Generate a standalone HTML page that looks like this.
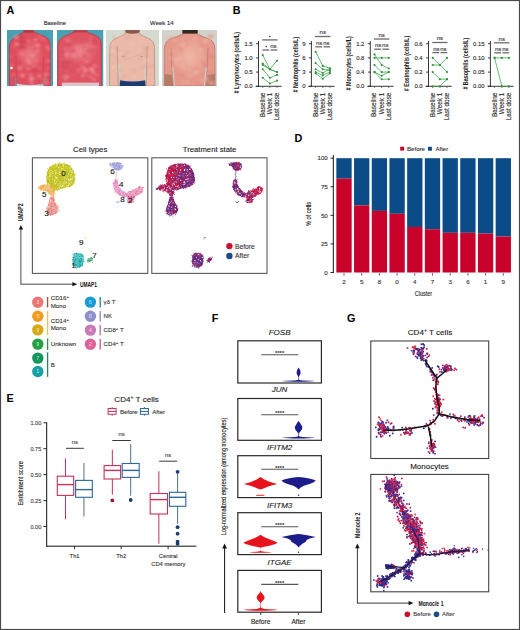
<!DOCTYPE html>
<html><head><meta charset="utf-8"><title>Figure</title>
<style>
html,body{margin:0;padding:0;background:#fff;}
body{width:520px;height:630px;overflow:hidden;}
svg{display:block;font-family:"Liberation Sans", sans-serif;}
</style></head>
<body>
<svg width="520" height="630" viewBox="0 0 520 630">
<defs>
<filter id="bl1" x="-10%" y="-10%" width="120%" height="120%"><feGaussianBlur stdDeviation="1.2"/></filter>
<filter id="bl2" x="-10%" y="-10%" width="120%" height="120%"><feGaussianBlur stdDeviation="0.6"/></filter>
<filter id="bl3" x="-20%" y="-20%" width="140%" height="140%"><feGaussianBlur stdDeviation="0.35"/></filter>
</defs>
<rect width="520" height="630" fill="#fff"/>
<text x="6.6" y="14.3" font-size="10.8" text-anchor="start" fill="#000" font-weight="bold">A</text>
<text x="232.8" y="14.3" font-size="10.8" text-anchor="start" fill="#000" font-weight="bold">B</text>
<text x="6.6" y="142.1" font-size="10.8" text-anchor="start" fill="#000" font-weight="bold">C</text>
<text x="294.4" y="142.1" font-size="10.8" text-anchor="start" fill="#000" font-weight="bold">D</text>
<text x="6.6" y="401.5" font-size="10.8" text-anchor="start" fill="#000" font-weight="bold">E</text>
<text x="211.8" y="321.7" font-size="10.8" text-anchor="start" fill="#000" font-weight="bold">F</text>
<text x="347" y="321.7" font-size="10.8" text-anchor="start" fill="#000" font-weight="bold">G</text>
<text x="54.8" y="25.3" font-size="5.8" text-anchor="middle" fill="#2a2a2a" stroke="#2a2a2a" stroke-width="0.12">Baseline</text>
<text x="161.9" y="25.3" font-size="6.0" text-anchor="middle" fill="#2a2a2a" stroke="#2a2a2a" stroke-width="0.12">Week 14</text>
<clipPath id="cp1"><rect x="7" y="30" width="46" height="56"/></clipPath>
<g clip-path="url(#cp1)">
<rect x="7" y="30" width="46" height="56" fill="#4a9fb2"/>
<g filter="url(#bl2)">
<path d="M9.3,86 L9.3,46 Q9.8,40.5 14.6,37.8 Q20,34 24,32 L24,29 L33.8,29 L33.8,32 Q40,34.5 46.5,37.5 Q50,40 50.2,46 L50.2,86 Z" fill="#e04e5c" stroke="#b83848" stroke-width="0.8"/>
<defs><radialGradient id="rg1" cx="0.5" cy="0.5" r="0.5"><stop offset="0" stop-color="#ec8a90" stop-opacity="0.8"/><stop offset="1" stop-color="#ec8a90" stop-opacity="0"/></radialGradient></defs>
<ellipse cx="30" cy="55" rx="15" ry="16" fill="url(#rg1)"/>
<path d="M16.5,83.5 Q30,86.5 43,83.5 L43,87 L16.5,87 Z" fill="#cfd8dc"/>
<rect x="15.2" y="78" width="1.6" height="9" fill="#5aa6b4"/>
<rect x="43" y="78" width="1.4" height="9" fill="#5aa6b4"/>
<path d="M16,56 L16.3,84" stroke="#b54450" stroke-width="0.8" opacity="0.7"/>
<path d="M43.4,56 L43.2,84" stroke="#b54450" stroke-width="0.8" opacity="0.7"/>
<rect x="23.5" y="29" width="10" height="3.8" fill="#a8404a"/>
<g filter="url(#bl1)">
<ellipse cx="19.3" cy="61.7" rx="2.1" ry="1.5" fill="#cc4050" opacity="0.55"/>
<ellipse cx="34.4" cy="38.2" rx="1.5" ry="1.1" fill="#cc4050" opacity="0.55"/>
<ellipse cx="20.1" cy="46.5" rx="3.2" ry="2.2" fill="#cc4050" opacity="0.55"/>
<ellipse cx="31.1" cy="61.9" rx="2.2" ry="1.5" fill="#ec7880" opacity="0.55"/>
<ellipse cx="19.0" cy="42.4" rx="3.1" ry="2.2" fill="#cc4050" opacity="0.55"/>
<ellipse cx="38.9" cy="67.9" rx="1.6" ry="1.1" fill="#f08890" opacity="0.55"/>
<ellipse cx="21.7" cy="36.5" rx="3.0" ry="2.1" fill="#cc4050" opacity="0.55"/>
<ellipse cx="33.2" cy="80.1" rx="2.2" ry="1.5" fill="#cc4050" opacity="0.55"/>
<ellipse cx="25.4" cy="74.2" rx="2.3" ry="1.6" fill="#ec7880" opacity="0.55"/>
<ellipse cx="44.3" cy="39.8" rx="1.7" ry="1.2" fill="#ec7880" opacity="0.55"/>
<ellipse cx="20.1" cy="67.9" rx="2.8" ry="2.0" fill="#f29aa0" opacity="0.55"/>
<ellipse cx="26.4" cy="75.8" rx="2.5" ry="1.7" fill="#cc4050" opacity="0.55"/>
<ellipse cx="32.8" cy="79.3" rx="2.7" ry="1.9" fill="#f08890" opacity="0.55"/>
<ellipse cx="43.4" cy="83.6" rx="2.6" ry="1.8" fill="#ec7880" opacity="0.55"/>
<ellipse cx="37.2" cy="51.0" rx="2.4" ry="1.7" fill="#f08890" opacity="0.55"/>
<ellipse cx="37.8" cy="45.3" rx="2.9" ry="2.0" fill="#f29aa0" opacity="0.55"/>
<ellipse cx="21.1" cy="38.1" rx="3.0" ry="2.1" fill="#cc4050" opacity="0.55"/>
<ellipse cx="13.5" cy="74.2" rx="2.2" ry="1.5" fill="#ec7880" opacity="0.55"/>
<ellipse cx="10.8" cy="55.9" rx="2.2" ry="1.5" fill="#f08890" opacity="0.55"/>
<ellipse cx="11.7" cy="65.1" rx="1.6" ry="1.1" fill="#f29aa0" opacity="0.55"/>
<ellipse cx="31.5" cy="80.2" rx="2.0" ry="1.4" fill="#ec7880" opacity="0.55"/>
<ellipse cx="48.9" cy="50.2" rx="1.6" ry="1.1" fill="#f08890" opacity="0.55"/>
<ellipse cx="47.0" cy="82.6" rx="2.0" ry="1.4" fill="#f29aa0" opacity="0.55"/>
<ellipse cx="16.1" cy="37.1" rx="3.0" ry="2.1" fill="#f29aa0" opacity="0.55"/>
<ellipse cx="24.0" cy="41.8" rx="3.0" ry="2.1" fill="#cc4050" opacity="0.55"/>
<ellipse cx="28.0" cy="60.5" rx="2.6" ry="1.8" fill="#f08890" opacity="0.55"/>
<ellipse cx="34.2" cy="81.1" rx="2.4" ry="1.7" fill="#cc4050" opacity="0.55"/>
<ellipse cx="34.7" cy="70.1" rx="3.1" ry="2.2" fill="#cc4050" opacity="0.55"/>
<ellipse cx="48.1" cy="60.5" rx="2.4" ry="1.7" fill="#f08890" opacity="0.55"/>
<ellipse cx="40.7" cy="83.4" rx="2.0" ry="1.4" fill="#cc4050" opacity="0.55"/>
<ellipse cx="34.0" cy="66.0" rx="1.6" ry="1.1" fill="#f29aa0" opacity="0.55"/>
<ellipse cx="28.2" cy="68.3" rx="2.1" ry="1.5" fill="#f29aa0" opacity="0.55"/>
<ellipse cx="38.8" cy="36.1" rx="1.6" ry="1.1" fill="#f08890" opacity="0.55"/>
<ellipse cx="47.6" cy="47.3" rx="2.3" ry="1.6" fill="#f29aa0" opacity="0.55"/>
<ellipse cx="16.9" cy="44.1" rx="2.8" ry="2.0" fill="#f29aa0" opacity="0.55"/>
<ellipse cx="21.7" cy="53.5" rx="2.8" ry="2.0" fill="#f08890" opacity="0.55"/>
<ellipse cx="47.9" cy="68.5" rx="1.7" ry="1.2" fill="#ec7880" opacity="0.55"/>
<ellipse cx="35.5" cy="48.2" rx="2.1" ry="1.4" fill="#cc4050" opacity="0.55"/>
<ellipse cx="35.3" cy="39.8" rx="2.5" ry="1.8" fill="#f29aa0" opacity="0.55"/>
<ellipse cx="36.3" cy="46.0" rx="2.9" ry="2.0" fill="#ec7880" opacity="0.55"/>
<ellipse cx="13.1" cy="71.4" rx="1.9" ry="1.3" fill="#cc4050" opacity="0.55"/>
<ellipse cx="20.6" cy="73.6" rx="1.6" ry="1.1" fill="#ec7880" opacity="0.55"/>
<ellipse cx="22.3" cy="76.0" rx="2.5" ry="1.7" fill="#f29aa0" opacity="0.55"/>
<ellipse cx="23.3" cy="75.6" rx="1.6" ry="1.2" fill="#f29aa0" opacity="0.55"/>
<ellipse cx="33.0" cy="55.6" rx="2.4" ry="1.7" fill="#f29aa0" opacity="0.55"/>
<ellipse cx="28.1" cy="66.1" rx="2.0" ry="1.4" fill="#cc4050" opacity="0.55"/>
<ellipse cx="11.4" cy="55.3" rx="1.8" ry="1.3" fill="#cc4050" opacity="0.55"/>
<ellipse cx="46.8" cy="78.1" rx="3.2" ry="2.2" fill="#cc4050" opacity="0.55"/>
<ellipse cx="31.8" cy="83.3" rx="2.7" ry="1.9" fill="#f08890" opacity="0.55"/>
<ellipse cx="39.1" cy="76.0" rx="2.6" ry="1.8" fill="#f29aa0" opacity="0.55"/>
<ellipse cx="31.2" cy="78.6" rx="3.0" ry="2.1" fill="#f29aa0" opacity="0.55"/>
<ellipse cx="14.7" cy="47.0" rx="1.6" ry="1.1" fill="#ec7880" opacity="0.55"/>
<ellipse cx="45.0" cy="79.1" rx="2.5" ry="1.7" fill="#f08890" opacity="0.55"/>
<ellipse cx="28.8" cy="40.9" rx="2.4" ry="1.6" fill="#ec7880" opacity="0.55"/>
<ellipse cx="35.9" cy="60.7" rx="2.2" ry="1.5" fill="#f08890" opacity="0.55"/>
<ellipse cx="23.3" cy="47.4" rx="3.0" ry="2.1" fill="#cc4050" opacity="0.55"/>
<ellipse cx="41.7" cy="38.0" rx="1.9" ry="1.3" fill="#f08890" opacity="0.55"/>
<ellipse cx="30.9" cy="75.0" rx="1.8" ry="1.3" fill="#f29aa0" opacity="0.55"/>
<ellipse cx="45.9" cy="74.5" rx="2.9" ry="2.0" fill="#f08890" opacity="0.55"/>
<ellipse cx="29.0" cy="63.0" rx="2.2" ry="1.5" fill="#f29aa0" opacity="0.55"/>
</g>
<circle cx="11.5" cy="68" r="1.3" fill="#fff"/>
</g>
</g>
<clipPath id="cp2"><rect x="56.8" y="30" width="46.7" height="56"/></clipPath>
<g clip-path="url(#cp2)">
<rect x="56.8" y="30" width="46.7" height="56" fill="#4a9fb2"/>
<g filter="url(#bl2)">
<path d="M57.8,86 L57.8,46 Q58.2,40 63,37 Q69,34.2 74,32.2 L74,29 L87,29 L87,32.2 Q92,33.8 97,36.2 Q101.2,38.6 101.3,44 L101.3,86 Z" fill="#e05262" stroke="#b83848" stroke-width="0.8"/>
<defs><radialGradient id="rg2" cx="0.5" cy="0.5" r="0.5"><stop offset="0" stop-color="#f09098" stop-opacity="0.8"/><stop offset="1" stop-color="#f09098" stop-opacity="0"/></radialGradient></defs>
<ellipse cx="80" cy="52" rx="18" ry="14" fill="url(#rg2)"/>
<path d="M63.3,50 L63.2,84" stroke="#c85060" stroke-width="0.8" opacity="0.6"/>
<path d="M97.2,50 L97.4,84" stroke="#c85060" stroke-width="0.8" opacity="0.6"/>
<rect x="62" y="82.6" width="37" height="3.6" fill="#dcc6cc"/>
<rect x="73.5" y="29" width="13" height="3.4" fill="#b04650"/>
<g filter="url(#bl1)">
<ellipse cx="70.4" cy="64.4" rx="2.4" ry="1.7" fill="#ee8890" opacity="0.55"/>
<ellipse cx="79.0" cy="71.7" rx="1.5" ry="1.1" fill="#ee8890" opacity="0.55"/>
<ellipse cx="90.5" cy="38.1" rx="1.6" ry="1.1" fill="#cc4458" opacity="0.55"/>
<ellipse cx="98.0" cy="75.3" rx="1.6" ry="1.2" fill="#cc4458" opacity="0.55"/>
<ellipse cx="73.0" cy="50.5" rx="2.1" ry="1.5" fill="#cc4458" opacity="0.55"/>
<ellipse cx="83.3" cy="52.6" rx="1.8" ry="1.3" fill="#e87078" opacity="0.55"/>
<ellipse cx="77.3" cy="41.9" rx="1.5" ry="1.1" fill="#cc4458" opacity="0.55"/>
<ellipse cx="91.2" cy="62.1" rx="1.6" ry="1.1" fill="#cc4458" opacity="0.55"/>
<ellipse cx="84.0" cy="72.0" rx="2.1" ry="1.5" fill="#ee8890" opacity="0.55"/>
<ellipse cx="84.7" cy="55.9" rx="2.1" ry="1.5" fill="#cc4458" opacity="0.55"/>
<ellipse cx="89.9" cy="50.5" rx="3.1" ry="2.2" fill="#cc4458" opacity="0.55"/>
<ellipse cx="78.5" cy="47.3" rx="2.4" ry="1.7" fill="#ee8890" opacity="0.55"/>
<ellipse cx="91.5" cy="46.3" rx="1.7" ry="1.2" fill="#ee8890" opacity="0.55"/>
<ellipse cx="96.6" cy="53.2" rx="3.0" ry="2.1" fill="#e87078" opacity="0.55"/>
<ellipse cx="65.6" cy="67.8" rx="3.1" ry="2.2" fill="#cc4458" opacity="0.55"/>
<ellipse cx="86.4" cy="69.8" rx="2.5" ry="1.7" fill="#ee8890" opacity="0.55"/>
<ellipse cx="91.8" cy="69.0" rx="2.3" ry="1.6" fill="#f29aa0" opacity="0.55"/>
<ellipse cx="90.4" cy="38.0" rx="1.7" ry="1.2" fill="#ee8890" opacity="0.55"/>
<ellipse cx="86.0" cy="53.3" rx="2.9" ry="2.0" fill="#e87078" opacity="0.55"/>
<ellipse cx="93.0" cy="41.6" rx="2.9" ry="2.1" fill="#cc4458" opacity="0.55"/>
<ellipse cx="92.8" cy="79.8" rx="2.5" ry="1.7" fill="#ee8890" opacity="0.55"/>
<ellipse cx="62.4" cy="71.3" rx="2.4" ry="1.7" fill="#f29aa0" opacity="0.55"/>
<ellipse cx="65.1" cy="70.5" rx="3.1" ry="2.2" fill="#ee8890" opacity="0.55"/>
<ellipse cx="81.9" cy="76.0" rx="1.8" ry="1.3" fill="#ee8890" opacity="0.55"/>
<ellipse cx="70.2" cy="44.3" rx="1.9" ry="1.3" fill="#cc4458" opacity="0.55"/>
<ellipse cx="70.6" cy="63.6" rx="3.1" ry="2.2" fill="#cc4458" opacity="0.55"/>
<ellipse cx="97.7" cy="53.3" rx="1.9" ry="1.3" fill="#cc4458" opacity="0.55"/>
<ellipse cx="93.1" cy="80.5" rx="2.2" ry="1.5" fill="#cc4458" opacity="0.55"/>
<ellipse cx="66.9" cy="54.4" rx="3.0" ry="2.1" fill="#f29aa0" opacity="0.55"/>
<ellipse cx="64.6" cy="70.4" rx="3.1" ry="2.1" fill="#cc4458" opacity="0.55"/>
<ellipse cx="83.3" cy="75.5" rx="1.7" ry="1.2" fill="#f29aa0" opacity="0.55"/>
<ellipse cx="66.6" cy="59.7" rx="3.1" ry="2.2" fill="#e87078" opacity="0.55"/>
<ellipse cx="86.5" cy="75.3" rx="2.5" ry="1.8" fill="#e87078" opacity="0.55"/>
<ellipse cx="94.8" cy="50.1" rx="2.0" ry="1.4" fill="#cc4458" opacity="0.55"/>
<ellipse cx="68.6" cy="62.2" rx="1.9" ry="1.3" fill="#cc4458" opacity="0.55"/>
<ellipse cx="90.4" cy="42.6" rx="3.2" ry="2.2" fill="#cc4458" opacity="0.55"/>
<ellipse cx="87.7" cy="45.5" rx="2.5" ry="1.7" fill="#ee8890" opacity="0.55"/>
<ellipse cx="79.3" cy="69.2" rx="3.0" ry="2.1" fill="#cc4458" opacity="0.55"/>
<ellipse cx="90.8" cy="76.6" rx="1.6" ry="1.1" fill="#f29aa0" opacity="0.55"/>
<ellipse cx="94.9" cy="65.8" rx="2.8" ry="2.0" fill="#ee8890" opacity="0.55"/>
<ellipse cx="97.4" cy="75.3" rx="1.9" ry="1.3" fill="#f29aa0" opacity="0.55"/>
<ellipse cx="90.5" cy="42.3" rx="2.6" ry="1.8" fill="#ee8890" opacity="0.55"/>
<ellipse cx="95.2" cy="47.7" rx="3.0" ry="2.1" fill="#e87078" opacity="0.55"/>
<ellipse cx="68.0" cy="40.2" rx="2.9" ry="2.0" fill="#ee8890" opacity="0.55"/>
<ellipse cx="64.5" cy="74.4" rx="2.0" ry="1.4" fill="#e87078" opacity="0.55"/>
<ellipse cx="78.2" cy="69.8" rx="2.1" ry="1.5" fill="#ee8890" opacity="0.55"/>
<ellipse cx="73.7" cy="56.1" rx="2.3" ry="1.6" fill="#f29aa0" opacity="0.55"/>
<ellipse cx="85.5" cy="70.1" rx="2.3" ry="1.6" fill="#f29aa0" opacity="0.55"/>
<ellipse cx="81.7" cy="41.5" rx="2.0" ry="1.4" fill="#cc4458" opacity="0.55"/>
<ellipse cx="65.3" cy="76.8" rx="3.0" ry="2.1" fill="#ee8890" opacity="0.55"/>
<ellipse cx="81.1" cy="68.2" rx="2.7" ry="1.9" fill="#e87078" opacity="0.55"/>
<ellipse cx="89.8" cy="49.6" rx="2.6" ry="1.9" fill="#e87078" opacity="0.55"/>
<ellipse cx="65.1" cy="79.4" rx="2.1" ry="1.5" fill="#ee8890" opacity="0.55"/>
<ellipse cx="86.3" cy="59.4" rx="1.6" ry="1.1" fill="#e87078" opacity="0.55"/>
<ellipse cx="86.8" cy="62.1" rx="1.8" ry="1.3" fill="#f29aa0" opacity="0.55"/>
<ellipse cx="67.8" cy="76.9" rx="2.6" ry="1.8" fill="#ee8890" opacity="0.55"/>
<ellipse cx="65.1" cy="61.7" rx="3.1" ry="2.1" fill="#cc4458" opacity="0.55"/>
<ellipse cx="82.1" cy="65.8" rx="2.3" ry="1.6" fill="#e87078" opacity="0.55"/>
<ellipse cx="90.7" cy="68.5" rx="1.7" ry="1.2" fill="#f29aa0" opacity="0.55"/>
<ellipse cx="89.7" cy="61.0" rx="2.8" ry="1.9" fill="#e87078" opacity="0.55"/>
<ellipse cx="64.8" cy="48.5" rx="1.6" ry="1.1" fill="#f29aa0" opacity="0.55"/>
<ellipse cx="62.6" cy="59.2" rx="1.9" ry="1.3" fill="#e87078" opacity="0.55"/>
<ellipse cx="94.3" cy="79.5" rx="2.3" ry="1.6" fill="#ee8890" opacity="0.55"/>
<ellipse cx="74.4" cy="75.0" rx="1.7" ry="1.2" fill="#e87078" opacity="0.55"/>
<ellipse cx="83.4" cy="67.3" rx="2.5" ry="1.7" fill="#ee8890" opacity="0.55"/>
<ellipse cx="68.0" cy="44.7" rx="2.2" ry="1.5" fill="#cc4458" opacity="0.55"/>
<ellipse cx="92.0" cy="70.4" rx="2.5" ry="1.8" fill="#f29aa0" opacity="0.55"/>
<ellipse cx="93.7" cy="72.7" rx="2.4" ry="1.7" fill="#f29aa0" opacity="0.55"/>
<ellipse cx="82.6" cy="45.3" rx="1.9" ry="1.3" fill="#e87078" opacity="0.55"/>
<ellipse cx="62.1" cy="72.9" rx="3.0" ry="2.1" fill="#cc4458" opacity="0.55"/>
</g>
</g>
</g>
<clipPath id="cp3"><rect x="106" y="30" width="53.19999999999999" height="56"/></clipPath>
<g clip-path="url(#cp3)">
<rect x="106" y="30" width="53.2" height="56" fill="#d5dad1"/>
<g filter="url(#bl2)">
<path d="M109.6,86 L109.8,47 Q110.4,40.5 116,38.5 Q121.5,36 126,33.2 L126,29 L138.5,29 L138.5,33.2 Q143,36 148.5,38.5 Q154,40.5 154.4,47 L154.8,86 Z" fill="#eab9a8" stroke="#c08a78" stroke-width="0.8"/>
<path d="M117.6,62 L118.6,86 L120.6,86 L120.2,66 Z" fill="#cdd1c7"/>
<path d="M146.8,62 L146,86 L144.2,86 L144.8,66 Z" fill="#cdd1c7"/>
<path d="M117.2,46 L117.6,62 L118.4,86" stroke="#b88474" stroke-width="0.9" fill="none" opacity="0.8"/>
<path d="M147.2,46 L146.8,62 L146.2,86" stroke="#b88474" stroke-width="0.9" fill="none" opacity="0.8"/>
<path d="M120,80.2 Q133,83 145.2,80.2 L145.6,86 L119.6,86 Z" fill="#1d3a72"/>
<path d="M125,29 L140,29 L139.5,32.5 Q132.5,35 125.5,32.5 Z" fill="#8a5a4a"/>
<path d="M124,60 Q134,57 146,52" stroke="#d8a290" stroke-width="0.6" fill="none" opacity="0.6"/>
<ellipse cx="123.5" cy="56.5" rx="1" ry="0.7" fill="#c8887a"/>
<ellipse cx="141.5" cy="56.5" rx="1" ry="0.7" fill="#c8887a"/>
<g filter="url(#bl1)">
<ellipse cx="124.6" cy="75.9" rx="2.0" ry="1.4" fill="#dca08e" opacity="0.45"/>
<ellipse cx="153.0" cy="66.2" rx="1.9" ry="1.4" fill="#dca08e" opacity="0.45"/>
<ellipse cx="112.3" cy="44.4" rx="2.5" ry="1.7" fill="#efc6b6" opacity="0.45"/>
<ellipse cx="144.1" cy="65.1" rx="2.2" ry="1.6" fill="#dca08e" opacity="0.45"/>
<ellipse cx="119.6" cy="70.4" rx="1.8" ry="1.3" fill="#dca08e" opacity="0.45"/>
<ellipse cx="115.8" cy="48.5" rx="2.5" ry="1.7" fill="#e4a896" opacity="0.45"/>
<ellipse cx="116.8" cy="70.9" rx="2.4" ry="1.7" fill="#efc6b6" opacity="0.45"/>
<ellipse cx="112.1" cy="63.2" rx="2.3" ry="1.6" fill="#dca08e" opacity="0.45"/>
<ellipse cx="134.2" cy="76.9" rx="2.0" ry="1.4" fill="#f0cabc" opacity="0.45"/>
<ellipse cx="140.9" cy="41.9" rx="2.8" ry="2.0" fill="#efc6b6" opacity="0.45"/>
<ellipse cx="141.8" cy="68.5" rx="2.0" ry="1.4" fill="#e4a896" opacity="0.45"/>
<ellipse cx="151.1" cy="73.9" rx="2.2" ry="1.5" fill="#e4a896" opacity="0.45"/>
<ellipse cx="131.9" cy="40.8" rx="1.6" ry="1.1" fill="#efc6b6" opacity="0.45"/>
<ellipse cx="147.3" cy="67.1" rx="2.1" ry="1.5" fill="#dca08e" opacity="0.45"/>
<ellipse cx="141.1" cy="59.6" rx="2.1" ry="1.5" fill="#dca08e" opacity="0.45"/>
<ellipse cx="124.1" cy="56.4" rx="2.6" ry="1.8" fill="#dca08e" opacity="0.45"/>
<ellipse cx="129.9" cy="56.0" rx="1.6" ry="1.1" fill="#f0cabc" opacity="0.45"/>
<ellipse cx="126.8" cy="52.3" rx="2.3" ry="1.6" fill="#dca08e" opacity="0.45"/>
<ellipse cx="120.6" cy="36.1" rx="1.8" ry="1.3" fill="#f0cabc" opacity="0.45"/>
<ellipse cx="117.2" cy="56.2" rx="1.8" ry="1.3" fill="#e4a896" opacity="0.45"/>
<ellipse cx="112.0" cy="61.7" rx="2.3" ry="1.6" fill="#efc6b6" opacity="0.45"/>
<ellipse cx="117.0" cy="62.8" rx="2.2" ry="1.5" fill="#e4a896" opacity="0.45"/>
<ellipse cx="113.6" cy="37.0" rx="2.2" ry="1.5" fill="#dca08e" opacity="0.45"/>
<ellipse cx="112.4" cy="67.4" rx="1.9" ry="1.3" fill="#efc6b6" opacity="0.45"/>
<ellipse cx="128.1" cy="37.2" rx="2.9" ry="2.1" fill="#e4a896" opacity="0.45"/>
<ellipse cx="121.4" cy="53.1" rx="1.8" ry="1.3" fill="#f0cabc" opacity="0.45"/>
<ellipse cx="137.8" cy="51.2" rx="1.7" ry="1.2" fill="#efc6b6" opacity="0.45"/>
<ellipse cx="145.7" cy="48.8" rx="3.0" ry="2.1" fill="#dca08e" opacity="0.45"/>
<ellipse cx="144.9" cy="78.3" rx="2.2" ry="1.6" fill="#f0cabc" opacity="0.45"/>
<ellipse cx="112.3" cy="50.8" rx="3.0" ry="2.1" fill="#f0cabc" opacity="0.45"/>
<ellipse cx="115.0" cy="66.0" rx="3.0" ry="2.1" fill="#efc6b6" opacity="0.45"/>
<ellipse cx="115.5" cy="66.0" rx="1.5" ry="1.1" fill="#efc6b6" opacity="0.45"/>
<ellipse cx="131.7" cy="44.3" rx="2.3" ry="1.6" fill="#f0cabc" opacity="0.45"/>
<ellipse cx="119.6" cy="78.8" rx="2.2" ry="1.6" fill="#dca08e" opacity="0.45"/>
<ellipse cx="150.4" cy="77.4" rx="1.6" ry="1.1" fill="#f0cabc" opacity="0.45"/>
<ellipse cx="143.3" cy="63.8" rx="2.1" ry="1.5" fill="#f0cabc" opacity="0.45"/>
<ellipse cx="118.9" cy="54.2" rx="2.3" ry="1.6" fill="#f0cabc" opacity="0.45"/>
<ellipse cx="134.1" cy="70.2" rx="2.1" ry="1.5" fill="#dca08e" opacity="0.45"/>
<ellipse cx="146.9" cy="60.3" rx="2.9" ry="2.0" fill="#f0cabc" opacity="0.45"/>
<ellipse cx="145.5" cy="55.3" rx="2.2" ry="1.5" fill="#dca08e" opacity="0.45"/>
</g>
</g>
</g>
<clipPath id="cp4"><rect x="162" y="30" width="55" height="56"/></clipPath>
<g clip-path="url(#cp4)">
<rect x="162" y="30" width="55" height="56" fill="#d2d3cc"/>
<g filter="url(#bl2)">
<path d="M164.2,86 L164.4,48 Q165,40.5 171.5,38.5 Q178,36.5 182.5,34 L182.5,29 L197.5,29 L197.5,34 Q202,36.5 208,38.5 Q214.4,40.5 214.8,48 L215.2,86 Z" fill="#e6988a" stroke="#b87868" stroke-width="0.8"/>
<defs><radialGradient id="rg4" cx="0.5" cy="0.5" r="0.5"><stop offset="0" stop-color="#f0baa8" stop-opacity="0.9"/><stop offset="1" stop-color="#f0baa8" stop-opacity="0"/></radialGradient></defs>
<ellipse cx="189.5" cy="56" rx="19" ry="22" fill="url(#rg4)"/>
<path d="M171.5,66 L173.5,86 L175,86 L173.5,68 Z" fill="#cfcfc8"/>
<path d="M207.5,66 L205.5,86 L204,86 L205.5,68 Z" fill="#cfcfc8"/>
<path d="M171,48 L171.6,66 L173.4,86" stroke="#b87868" stroke-width="0.9" fill="none" opacity="0.8"/>
<path d="M208,48 L207.4,66 L205.6,86" stroke="#b87868" stroke-width="0.9" fill="none" opacity="0.8"/>
<path d="M164.5,74 L171.8,75 L173,86 L164.5,86 Z" fill="#a8705e" opacity="0.75"/>
<path d="M214.8,74 L207.4,75 L206,86 L214.8,86 Z" fill="#a8705e" opacity="0.75"/>
<rect x="182.5" y="29" width="15" height="4.6" fill="#2e2622"/>
<g filter="url(#bl1)">
<ellipse cx="182.2" cy="75.4" rx="2.3" ry="1.6" fill="#d8887a" opacity="0.45"/>
<ellipse cx="210.6" cy="38.1" rx="1.8" ry="1.2" fill="#eeb6a8" opacity="0.45"/>
<ellipse cx="204.7" cy="40.4" rx="2.5" ry="1.8" fill="#eeb6a8" opacity="0.45"/>
<ellipse cx="181.0" cy="64.8" rx="2.7" ry="1.9" fill="#eeb6a8" opacity="0.45"/>
<ellipse cx="207.3" cy="77.9" rx="2.2" ry="1.5" fill="#f0c0b2" opacity="0.45"/>
<ellipse cx="212.9" cy="36.1" rx="1.8" ry="1.3" fill="#eeb6a8" opacity="0.45"/>
<ellipse cx="181.9" cy="50.9" rx="2.2" ry="1.5" fill="#e09080" opacity="0.45"/>
<ellipse cx="177.3" cy="38.3" rx="1.7" ry="1.2" fill="#e09080" opacity="0.45"/>
<ellipse cx="193.5" cy="36.6" rx="1.8" ry="1.3" fill="#e09080" opacity="0.45"/>
<ellipse cx="176.3" cy="63.0" rx="2.1" ry="1.5" fill="#f0c0b2" opacity="0.45"/>
<ellipse cx="203.1" cy="61.7" rx="1.8" ry="1.2" fill="#e09080" opacity="0.45"/>
<ellipse cx="195.3" cy="38.0" rx="2.7" ry="1.9" fill="#eeb6a8" opacity="0.45"/>
<ellipse cx="206.4" cy="40.9" rx="2.9" ry="2.0" fill="#f0c0b2" opacity="0.45"/>
<ellipse cx="170.0" cy="58.3" rx="1.8" ry="1.3" fill="#eeb6a8" opacity="0.45"/>
<ellipse cx="196.2" cy="72.5" rx="2.8" ry="2.0" fill="#f0c0b2" opacity="0.45"/>
<ellipse cx="184.9" cy="67.7" rx="2.7" ry="1.9" fill="#f0c0b2" opacity="0.45"/>
<ellipse cx="205.3" cy="64.5" rx="2.7" ry="1.9" fill="#e09080" opacity="0.45"/>
<ellipse cx="171.5" cy="36.4" rx="1.9" ry="1.4" fill="#eeb6a8" opacity="0.45"/>
<ellipse cx="182.1" cy="45.2" rx="2.6" ry="1.8" fill="#f0c0b2" opacity="0.45"/>
<ellipse cx="185.9" cy="67.1" rx="2.4" ry="1.7" fill="#e09080" opacity="0.45"/>
<ellipse cx="177.7" cy="76.2" rx="1.6" ry="1.1" fill="#e09080" opacity="0.45"/>
<ellipse cx="186.2" cy="40.0" rx="1.8" ry="1.3" fill="#e09080" opacity="0.45"/>
<ellipse cx="201.2" cy="45.9" rx="1.8" ry="1.3" fill="#d8887a" opacity="0.45"/>
<ellipse cx="209.8" cy="61.7" rx="2.1" ry="1.5" fill="#e09080" opacity="0.45"/>
<ellipse cx="208.4" cy="81.6" rx="2.2" ry="1.6" fill="#d8887a" opacity="0.45"/>
<ellipse cx="188.1" cy="64.2" rx="1.6" ry="1.1" fill="#eeb6a8" opacity="0.45"/>
<ellipse cx="174.7" cy="40.6" rx="2.6" ry="1.8" fill="#f0c0b2" opacity="0.45"/>
<ellipse cx="189.7" cy="38.9" rx="2.2" ry="1.5" fill="#e09080" opacity="0.45"/>
<ellipse cx="201.0" cy="49.2" rx="2.1" ry="1.5" fill="#f0c0b2" opacity="0.45"/>
<ellipse cx="188.0" cy="45.4" rx="2.7" ry="1.9" fill="#e09080" opacity="0.45"/>
<ellipse cx="170.9" cy="50.4" rx="2.1" ry="1.5" fill="#eeb6a8" opacity="0.45"/>
<ellipse cx="175.7" cy="59.4" rx="2.7" ry="1.9" fill="#f0c0b2" opacity="0.45"/>
<ellipse cx="211.9" cy="83.0" rx="2.8" ry="2.0" fill="#f0c0b2" opacity="0.45"/>
<ellipse cx="210.3" cy="56.7" rx="2.9" ry="2.0" fill="#d8887a" opacity="0.45"/>
<ellipse cx="190.7" cy="62.0" rx="2.0" ry="1.4" fill="#f0c0b2" opacity="0.45"/>
<ellipse cx="179.4" cy="58.2" rx="2.8" ry="2.0" fill="#f0c0b2" opacity="0.45"/>
<ellipse cx="201.1" cy="80.6" rx="2.3" ry="1.6" fill="#eeb6a8" opacity="0.45"/>
<ellipse cx="172.2" cy="61.5" rx="2.3" ry="1.6" fill="#e09080" opacity="0.45"/>
<ellipse cx="210.7" cy="36.1" rx="3.0" ry="2.1" fill="#d8887a" opacity="0.45"/>
<ellipse cx="182.7" cy="82.4" rx="2.0" ry="1.4" fill="#eeb6a8" opacity="0.45"/>
<ellipse cx="189.0" cy="47.5" rx="1.9" ry="1.3" fill="#f0c0b2" opacity="0.45"/>
<ellipse cx="205.3" cy="65.0" rx="2.7" ry="1.9" fill="#d8887a" opacity="0.45"/>
<ellipse cx="180.6" cy="47.9" rx="2.7" ry="1.9" fill="#d8887a" opacity="0.45"/>
<ellipse cx="200.0" cy="52.3" rx="1.5" ry="1.1" fill="#eeb6a8" opacity="0.45"/>
<ellipse cx="195.5" cy="68.4" rx="2.9" ry="2.0" fill="#e09080" opacity="0.45"/>
<ellipse cx="210.8" cy="71.7" rx="2.8" ry="1.9" fill="#d8887a" opacity="0.45"/>
<ellipse cx="189.9" cy="75.9" rx="2.3" ry="1.6" fill="#f0c0b2" opacity="0.45"/>
<ellipse cx="166.8" cy="38.2" rx="2.2" ry="1.6" fill="#eeb6a8" opacity="0.45"/>
<ellipse cx="208.2" cy="79.5" rx="2.2" ry="1.5" fill="#d8887a" opacity="0.45"/>
<ellipse cx="183.4" cy="66.3" rx="1.9" ry="1.4" fill="#eeb6a8" opacity="0.45"/>
<ellipse cx="198.1" cy="83.6" rx="2.3" ry="1.6" fill="#d8887a" opacity="0.45"/>
<ellipse cx="202.4" cy="57.3" rx="1.9" ry="1.3" fill="#f0c0b2" opacity="0.45"/>
<ellipse cx="187.3" cy="82.0" rx="1.7" ry="1.2" fill="#f0c0b2" opacity="0.45"/>
<ellipse cx="172.6" cy="37.8" rx="2.2" ry="1.6" fill="#e09080" opacity="0.45"/>
<ellipse cx="204.9" cy="80.7" rx="2.4" ry="1.7" fill="#eeb6a8" opacity="0.45"/>
</g>
</g>
</g>
<line x1="258.5" y1="41.0" x2="258.5" y2="86.8" stroke="#222" stroke-width="0.9"/>
<line x1="255.5" y1="86.3" x2="281.7" y2="86.3" stroke="#222" stroke-width="0.9"/>
<line x1="256.1" y1="86.3" x2="258.5" y2="86.3" stroke="#222" stroke-width="0.9"/>
<text x="252.6" y="88.3" font-size="5.9" text-anchor="end" fill="#2a2a2a" stroke="#2a2a2a" stroke-width="0.12">0.0</text>
<line x1="256.1" y1="72.1" x2="258.5" y2="72.1" stroke="#222" stroke-width="0.9"/>
<text x="252.6" y="74.1" font-size="5.9" text-anchor="end" fill="#2a2a2a" stroke="#2a2a2a" stroke-width="0.12">0.5</text>
<line x1="256.1" y1="57.9" x2="258.5" y2="57.9" stroke="#222" stroke-width="0.9"/>
<text x="252.6" y="59.9" font-size="5.9" text-anchor="end" fill="#2a2a2a" stroke="#2a2a2a" stroke-width="0.12">1.0</text>
<line x1="256.1" y1="43.7" x2="258.5" y2="43.7" stroke="#222" stroke-width="0.9"/>
<text x="252.6" y="45.7" font-size="5.9" text-anchor="end" fill="#2a2a2a" stroke="#2a2a2a" stroke-width="0.12">1.5</text>
<line x1="262.7" y1="86.3" x2="262.7" y2="88.0" stroke="#444" stroke-width="0.7"/>
<line x1="269.9" y1="86.3" x2="269.9" y2="88.0" stroke="#444" stroke-width="0.7"/>
<line x1="277.0" y1="86.3" x2="277.0" y2="88.0" stroke="#444" stroke-width="0.7"/>
<text x="264.7" y="92.6" font-size="6.4" text-anchor="end" fill="#2a2a2a" stroke="#2a2a2a" stroke-width="0.12" transform="rotate(-90 264.7 92.6)">Baseline</text>
<text x="271.9" y="92.6" font-size="6.4" text-anchor="end" fill="#2a2a2a" stroke="#2a2a2a" stroke-width="0.12" transform="rotate(-90 271.9 92.6)">Week 1</text>
<text x="279.0" y="92.6" font-size="6.4" text-anchor="end" fill="#2a2a2a" stroke="#2a2a2a" stroke-width="0.12" transform="rotate(-90 279.0 92.6)">Last dose</text>
<text x="238.7" y="93.5" font-size="7.2" text-anchor="start" fill="#1a1a1a" font-weight="bold" textLength="61.5" lengthAdjust="spacingAndGlyphs" transform="rotate(-90 238.7 93.5)"># Lymphocytes (cells/L)</text>
<polyline points="262.7,55.1 269.9,69.3 277.0,72.1" fill="none" stroke="#3ea84c" stroke-width="0.8"/>
<polyline points="262.7,63.6 269.9,69.3 277.0,60.7" fill="none" stroke="#3ea84c" stroke-width="0.8"/>
<polyline points="262.7,65.0 269.9,69.3 277.0,72.1" fill="none" stroke="#3ea84c" stroke-width="0.8"/>
<polyline points="262.7,69.3 269.9,77.8 277.0,74.9" fill="none" stroke="#3ea84c" stroke-width="0.8"/>
<polyline points="262.7,77.8 269.9,83.5 277.0,80.6" fill="none" stroke="#3ea84c" stroke-width="0.8"/>
<circle cx="262.7" cy="55.1" r="1.05" fill="#2f8f3c"/>
<circle cx="269.9" cy="69.3" r="1.05" fill="#2f8f3c"/>
<circle cx="277.0" cy="72.1" r="1.05" fill="#2f8f3c"/>
<circle cx="262.7" cy="63.6" r="1.05" fill="#2f8f3c"/>
<circle cx="269.9" cy="69.3" r="1.05" fill="#2f8f3c"/>
<circle cx="277.0" cy="60.7" r="1.05" fill="#2f8f3c"/>
<circle cx="262.7" cy="65.0" r="1.05" fill="#2f8f3c"/>
<circle cx="269.9" cy="69.3" r="1.05" fill="#2f8f3c"/>
<circle cx="277.0" cy="72.1" r="1.05" fill="#2f8f3c"/>
<circle cx="262.7" cy="69.3" r="1.05" fill="#2f8f3c"/>
<circle cx="269.9" cy="77.8" r="1.05" fill="#2f8f3c"/>
<circle cx="277.0" cy="74.9" r="1.05" fill="#2f8f3c"/>
<circle cx="262.7" cy="77.8" r="1.05" fill="#2f8f3c"/>
<circle cx="269.9" cy="83.5" r="1.05" fill="#2f8f3c"/>
<circle cx="277.0" cy="80.6" r="1.05" fill="#2f8f3c"/>
<line x1="262.2" y1="39.9" x2="277.5" y2="39.9" stroke="#6a6a6a" stroke-width="1.3"/>
<circle cx="269.85" cy="36.5" r="0.75" fill="#222"/>
<line x1="262.4" y1="50.0" x2="269.2" y2="50.0" stroke="#6a6a6a" stroke-width="1.3"/>
<line x1="270.59999999999997" y1="50.0" x2="277.3" y2="50.0" stroke="#6a6a6a" stroke-width="1.3"/>
<circle cx="266.3" cy="46.6" r="0.75" fill="#222"/>
<text x="273.45" y="47.9" font-size="6.0" text-anchor="middle" fill="#333" stroke="#333" stroke-width="0.12">ns</text>
<line x1="311.4" y1="41.0" x2="311.4" y2="86.8" stroke="#222" stroke-width="0.9"/>
<line x1="308.4" y1="86.3" x2="334.59999999999997" y2="86.3" stroke="#222" stroke-width="0.9"/>
<line x1="309.0" y1="86.3" x2="311.4" y2="86.3" stroke="#222" stroke-width="0.9"/>
<text x="305.5" y="88.3" font-size="5.9" text-anchor="end" fill="#2a2a2a" stroke="#2a2a2a" stroke-width="0.12">0</text>
<line x1="309.0" y1="72.1" x2="311.4" y2="72.1" stroke="#222" stroke-width="0.9"/>
<text x="305.5" y="74.1" font-size="5.9" text-anchor="end" fill="#2a2a2a" stroke="#2a2a2a" stroke-width="0.12">3</text>
<line x1="309.0" y1="57.9" x2="311.4" y2="57.9" stroke="#222" stroke-width="0.9"/>
<text x="305.5" y="59.9" font-size="5.9" text-anchor="end" fill="#2a2a2a" stroke="#2a2a2a" stroke-width="0.12">6</text>
<line x1="309.0" y1="43.7" x2="311.4" y2="43.7" stroke="#222" stroke-width="0.9"/>
<text x="305.5" y="45.7" font-size="5.9" text-anchor="end" fill="#2a2a2a" stroke="#2a2a2a" stroke-width="0.12">9</text>
<line x1="315.59999999999997" y1="86.3" x2="315.59999999999997" y2="88.0" stroke="#444" stroke-width="0.7"/>
<line x1="322.79999999999995" y1="86.3" x2="322.79999999999995" y2="88.0" stroke="#444" stroke-width="0.7"/>
<line x1="329.9" y1="86.3" x2="329.9" y2="88.0" stroke="#444" stroke-width="0.7"/>
<text x="317.59999999999997" y="92.6" font-size="6.4" text-anchor="end" fill="#2a2a2a" stroke="#2a2a2a" stroke-width="0.12" transform="rotate(-90 317.59999999999997 92.6)">Baseline</text>
<text x="324.79999999999995" y="92.6" font-size="6.4" text-anchor="end" fill="#2a2a2a" stroke="#2a2a2a" stroke-width="0.12" transform="rotate(-90 324.79999999999995 92.6)">Week 1</text>
<text x="331.9" y="92.6" font-size="6.4" text-anchor="end" fill="#2a2a2a" stroke="#2a2a2a" stroke-width="0.12" transform="rotate(-90 331.9 92.6)">Last dose</text>
<text x="297.5" y="92.5" font-size="7.2" text-anchor="start" fill="#1a1a1a" font-weight="bold" textLength="55.7" lengthAdjust="spacingAndGlyphs" transform="rotate(-90 297.5 92.5)"># Neutrophils (cells/L)</text>
<polyline points="315.6,51.7 322.8,65.9 329.9,68.3" fill="none" stroke="#3ea84c" stroke-width="0.8"/>
<polyline points="315.6,63.1 322.8,69.3 329.9,70.2" fill="none" stroke="#3ea84c" stroke-width="0.8"/>
<polyline points="315.6,69.3 322.8,73.0 329.9,68.8" fill="none" stroke="#3ea84c" stroke-width="0.8"/>
<polyline points="315.6,72.1 322.8,75.4 329.9,72.1" fill="none" stroke="#3ea84c" stroke-width="0.8"/>
<polyline points="315.6,73.5 322.8,78.7 329.9,73.5" fill="none" stroke="#3ea84c" stroke-width="0.8"/>
<circle cx="315.6" cy="51.7" r="1.05" fill="#2f8f3c"/>
<circle cx="322.8" cy="65.9" r="1.05" fill="#2f8f3c"/>
<circle cx="329.9" cy="68.3" r="1.05" fill="#2f8f3c"/>
<circle cx="315.6" cy="63.1" r="1.05" fill="#2f8f3c"/>
<circle cx="322.8" cy="69.3" r="1.05" fill="#2f8f3c"/>
<circle cx="329.9" cy="70.2" r="1.05" fill="#2f8f3c"/>
<circle cx="315.6" cy="69.3" r="1.05" fill="#2f8f3c"/>
<circle cx="322.8" cy="73.0" r="1.05" fill="#2f8f3c"/>
<circle cx="329.9" cy="68.8" r="1.05" fill="#2f8f3c"/>
<circle cx="315.6" cy="72.1" r="1.05" fill="#2f8f3c"/>
<circle cx="322.8" cy="75.4" r="1.05" fill="#2f8f3c"/>
<circle cx="329.9" cy="72.1" r="1.05" fill="#2f8f3c"/>
<circle cx="315.6" cy="73.5" r="1.05" fill="#2f8f3c"/>
<circle cx="322.8" cy="78.7" r="1.05" fill="#2f8f3c"/>
<circle cx="329.9" cy="73.5" r="1.05" fill="#2f8f3c"/>
<line x1="315.09999999999997" y1="36.5" x2="330.4" y2="36.5" stroke="#6a6a6a" stroke-width="1.3"/>
<text x="322.75" y="34.4" font-size="6.0" text-anchor="middle" fill="#333" stroke="#333" stroke-width="0.12">ns</text>
<line x1="315.29999999999995" y1="46.8" x2="322.09999999999997" y2="46.8" stroke="#6a6a6a" stroke-width="1.3"/>
<line x1="323.49999999999994" y1="46.8" x2="330.2" y2="46.8" stroke="#6a6a6a" stroke-width="1.3"/>
<text x="319.2" y="44.7" font-size="6.0" text-anchor="middle" fill="#333" stroke="#333" stroke-width="0.12">ns</text>
<text x="326.35" y="44.7" font-size="6.0" text-anchor="middle" fill="#333" stroke="#333" stroke-width="0.12">ns</text>
<line x1="370.3" y1="41.0" x2="370.3" y2="86.8" stroke="#222" stroke-width="0.9"/>
<line x1="367.3" y1="86.3" x2="393.5" y2="86.3" stroke="#222" stroke-width="0.9"/>
<line x1="367.90000000000003" y1="86.3" x2="370.3" y2="86.3" stroke="#222" stroke-width="0.9"/>
<text x="364.40000000000003" y="88.3" font-size="5.9" text-anchor="end" fill="#2a2a2a" stroke="#2a2a2a" stroke-width="0.12">0.0</text>
<line x1="367.90000000000003" y1="72.1" x2="370.3" y2="72.1" stroke="#222" stroke-width="0.9"/>
<text x="364.40000000000003" y="74.1" font-size="5.9" text-anchor="end" fill="#2a2a2a" stroke="#2a2a2a" stroke-width="0.12">0.4</text>
<line x1="367.90000000000003" y1="57.9" x2="370.3" y2="57.9" stroke="#222" stroke-width="0.9"/>
<text x="364.40000000000003" y="59.9" font-size="5.9" text-anchor="end" fill="#2a2a2a" stroke="#2a2a2a" stroke-width="0.12">0.8</text>
<line x1="367.90000000000003" y1="43.7" x2="370.3" y2="43.7" stroke="#222" stroke-width="0.9"/>
<text x="364.40000000000003" y="45.7" font-size="5.9" text-anchor="end" fill="#2a2a2a" stroke="#2a2a2a" stroke-width="0.12">1.2</text>
<line x1="374.5" y1="86.3" x2="374.5" y2="88.0" stroke="#444" stroke-width="0.7"/>
<line x1="381.7" y1="86.3" x2="381.7" y2="88.0" stroke="#444" stroke-width="0.7"/>
<line x1="388.8" y1="86.3" x2="388.8" y2="88.0" stroke="#444" stroke-width="0.7"/>
<text x="376.5" y="92.6" font-size="6.4" text-anchor="end" fill="#2a2a2a" stroke="#2a2a2a" stroke-width="0.12" transform="rotate(-90 376.5 92.6)">Baseline</text>
<text x="383.7" y="92.6" font-size="6.4" text-anchor="end" fill="#2a2a2a" stroke="#2a2a2a" stroke-width="0.12" transform="rotate(-90 383.7 92.6)">Week 1</text>
<text x="390.8" y="92.6" font-size="6.4" text-anchor="end" fill="#2a2a2a" stroke="#2a2a2a" stroke-width="0.12" transform="rotate(-90 390.8 92.6)">Last dose</text>
<text x="350.8" y="90.4" font-size="7.2" text-anchor="start" fill="#1a1a1a" font-weight="bold" textLength="54.2" lengthAdjust="spacingAndGlyphs" transform="rotate(-90 350.8 90.4)"># Monocytes (cells/L)</text>
<polyline points="374.5,54.4 381.7,65.0 388.8,68.5" fill="none" stroke="#3ea84c" stroke-width="0.8"/>
<polyline points="374.5,57.9 381.7,57.9 388.8,57.9" fill="none" stroke="#3ea84c" stroke-width="0.8"/>
<polyline points="374.5,65.0 381.7,72.1 388.8,72.1" fill="none" stroke="#3ea84c" stroke-width="0.8"/>
<polyline points="374.5,72.1 381.7,75.7 388.8,72.1" fill="none" stroke="#3ea84c" stroke-width="0.8"/>
<polyline points="374.5,72.1 381.7,79.2 388.8,79.2" fill="none" stroke="#3ea84c" stroke-width="0.8"/>
<circle cx="374.5" cy="54.4" r="1.05" fill="#2f8f3c"/>
<circle cx="381.7" cy="65.0" r="1.05" fill="#2f8f3c"/>
<circle cx="388.8" cy="68.5" r="1.05" fill="#2f8f3c"/>
<circle cx="374.5" cy="57.9" r="1.05" fill="#2f8f3c"/>
<circle cx="381.7" cy="57.9" r="1.05" fill="#2f8f3c"/>
<circle cx="388.8" cy="57.9" r="1.05" fill="#2f8f3c"/>
<circle cx="374.5" cy="65.0" r="1.05" fill="#2f8f3c"/>
<circle cx="381.7" cy="72.1" r="1.05" fill="#2f8f3c"/>
<circle cx="388.8" cy="72.1" r="1.05" fill="#2f8f3c"/>
<circle cx="374.5" cy="72.1" r="1.05" fill="#2f8f3c"/>
<circle cx="381.7" cy="75.7" r="1.05" fill="#2f8f3c"/>
<circle cx="388.8" cy="72.1" r="1.05" fill="#2f8f3c"/>
<circle cx="374.5" cy="72.1" r="1.05" fill="#2f8f3c"/>
<circle cx="381.7" cy="79.2" r="1.05" fill="#2f8f3c"/>
<circle cx="388.8" cy="79.2" r="1.05" fill="#2f8f3c"/>
<line x1="374.0" y1="39.0" x2="389.3" y2="39.0" stroke="#6a6a6a" stroke-width="1.3"/>
<text x="381.65" y="36.9" font-size="6.0" text-anchor="middle" fill="#333" stroke="#333" stroke-width="0.12">ns</text>
<line x1="374.2" y1="49.2" x2="381.0" y2="49.2" stroke="#6a6a6a" stroke-width="1.3"/>
<line x1="382.4" y1="49.2" x2="389.1" y2="49.2" stroke="#6a6a6a" stroke-width="1.3"/>
<text x="378.1" y="47.1" font-size="6.0" text-anchor="middle" fill="#333" stroke="#333" stroke-width="0.12">ns</text>
<text x="385.25" y="47.1" font-size="6.0" text-anchor="middle" fill="#333" stroke="#333" stroke-width="0.12">ns</text>
<line x1="428.5" y1="41.0" x2="428.5" y2="86.8" stroke="#222" stroke-width="0.9"/>
<line x1="425.5" y1="86.3" x2="451.7" y2="86.3" stroke="#222" stroke-width="0.9"/>
<line x1="426.1" y1="86.3" x2="428.5" y2="86.3" stroke="#222" stroke-width="0.9"/>
<text x="422.6" y="88.3" font-size="5.9" text-anchor="end" fill="#2a2a2a" stroke="#2a2a2a" stroke-width="0.12">0.0</text>
<line x1="426.1" y1="72.1" x2="428.5" y2="72.1" stroke="#222" stroke-width="0.9"/>
<text x="422.6" y="74.1" font-size="5.9" text-anchor="end" fill="#2a2a2a" stroke="#2a2a2a" stroke-width="0.12">0.2</text>
<line x1="426.1" y1="57.9" x2="428.5" y2="57.9" stroke="#222" stroke-width="0.9"/>
<text x="422.6" y="59.9" font-size="5.9" text-anchor="end" fill="#2a2a2a" stroke="#2a2a2a" stroke-width="0.12">0.4</text>
<line x1="426.1" y1="43.7" x2="428.5" y2="43.7" stroke="#222" stroke-width="0.9"/>
<text x="422.6" y="45.7" font-size="5.9" text-anchor="end" fill="#2a2a2a" stroke="#2a2a2a" stroke-width="0.12">0.6</text>
<line x1="432.7" y1="86.3" x2="432.7" y2="88.0" stroke="#444" stroke-width="0.7"/>
<line x1="439.9" y1="86.3" x2="439.9" y2="88.0" stroke="#444" stroke-width="0.7"/>
<line x1="447.0" y1="86.3" x2="447.0" y2="88.0" stroke="#444" stroke-width="0.7"/>
<text x="434.7" y="92.6" font-size="6.4" text-anchor="end" fill="#2a2a2a" stroke="#2a2a2a" stroke-width="0.12" transform="rotate(-90 434.7 92.6)">Baseline</text>
<text x="441.9" y="92.6" font-size="6.4" text-anchor="end" fill="#2a2a2a" stroke="#2a2a2a" stroke-width="0.12" transform="rotate(-90 441.9 92.6)">Week 1</text>
<text x="449.0" y="92.6" font-size="6.4" text-anchor="end" fill="#2a2a2a" stroke="#2a2a2a" stroke-width="0.12" transform="rotate(-90 449.0 92.6)">Last dose</text>
<text x="409.4" y="91.2" font-size="7.2" text-anchor="start" fill="#1a1a1a" font-weight="bold" textLength="55.4" lengthAdjust="spacingAndGlyphs" transform="rotate(-90 409.4 91.2)"># Eosinophils (cells/L)</text>
<polyline points="432.7,57.9 439.9,65.0 447.0,72.1" fill="none" stroke="#3ea84c" stroke-width="0.8"/>
<polyline points="432.7,65.0 439.9,65.0 447.0,57.9" fill="none" stroke="#3ea84c" stroke-width="0.8"/>
<polyline points="432.7,72.1 439.9,79.2 447.0,79.2" fill="none" stroke="#3ea84c" stroke-width="0.8"/>
<polyline points="432.7,86.3 439.9,86.3 447.0,79.2" fill="none" stroke="#3ea84c" stroke-width="0.8"/>
<circle cx="432.7" cy="57.9" r="1.05" fill="#2f8f3c"/>
<circle cx="439.9" cy="65.0" r="1.05" fill="#2f8f3c"/>
<circle cx="447.0" cy="72.1" r="1.05" fill="#2f8f3c"/>
<circle cx="432.7" cy="65.0" r="1.05" fill="#2f8f3c"/>
<circle cx="439.9" cy="65.0" r="1.05" fill="#2f8f3c"/>
<circle cx="447.0" cy="57.9" r="1.05" fill="#2f8f3c"/>
<circle cx="432.7" cy="72.1" r="1.05" fill="#2f8f3c"/>
<circle cx="439.9" cy="79.2" r="1.05" fill="#2f8f3c"/>
<circle cx="447.0" cy="79.2" r="1.05" fill="#2f8f3c"/>
<circle cx="432.7" cy="86.3" r="1.05" fill="#2f8f3c"/>
<circle cx="439.9" cy="86.3" r="1.05" fill="#2f8f3c"/>
<circle cx="447.0" cy="79.2" r="1.05" fill="#2f8f3c"/>
<line x1="432.2" y1="42.5" x2="447.5" y2="42.5" stroke="#6a6a6a" stroke-width="1.3"/>
<text x="439.85" y="40.4" font-size="6.0" text-anchor="middle" fill="#333" stroke="#333" stroke-width="0.12">ns</text>
<line x1="432.4" y1="52.6" x2="439.2" y2="52.6" stroke="#6a6a6a" stroke-width="1.3"/>
<line x1="440.59999999999997" y1="52.6" x2="447.3" y2="52.6" stroke="#6a6a6a" stroke-width="1.3"/>
<text x="436.3" y="50.5" font-size="6.0" text-anchor="middle" fill="#333" stroke="#333" stroke-width="0.12">ns</text>
<text x="443.45" y="50.5" font-size="6.0" text-anchor="middle" fill="#333" stroke="#333" stroke-width="0.12">ns</text>
<line x1="490.4" y1="41.0" x2="490.4" y2="86.8" stroke="#222" stroke-width="0.9"/>
<line x1="487.4" y1="86.3" x2="513.6" y2="86.3" stroke="#222" stroke-width="0.9"/>
<line x1="488.0" y1="86.3" x2="490.4" y2="86.3" stroke="#222" stroke-width="0.9"/>
<text x="484.5" y="88.3" font-size="5.9" text-anchor="end" fill="#2a2a2a" stroke="#2a2a2a" stroke-width="0.12">0.00</text>
<line x1="488.0" y1="72.1" x2="490.4" y2="72.1" stroke="#222" stroke-width="0.9"/>
<text x="484.5" y="74.1" font-size="5.9" text-anchor="end" fill="#2a2a2a" stroke="#2a2a2a" stroke-width="0.12">0.05</text>
<line x1="488.0" y1="57.9" x2="490.4" y2="57.9" stroke="#222" stroke-width="0.9"/>
<text x="484.5" y="59.9" font-size="5.9" text-anchor="end" fill="#2a2a2a" stroke="#2a2a2a" stroke-width="0.12">0.10</text>
<line x1="488.0" y1="43.7" x2="490.4" y2="43.7" stroke="#222" stroke-width="0.9"/>
<text x="484.5" y="45.7" font-size="5.9" text-anchor="end" fill="#2a2a2a" stroke="#2a2a2a" stroke-width="0.12">0.15</text>
<line x1="494.59999999999997" y1="86.3" x2="494.59999999999997" y2="88.0" stroke="#444" stroke-width="0.7"/>
<line x1="501.79999999999995" y1="86.3" x2="501.79999999999995" y2="88.0" stroke="#444" stroke-width="0.7"/>
<line x1="508.9" y1="86.3" x2="508.9" y2="88.0" stroke="#444" stroke-width="0.7"/>
<text x="496.59999999999997" y="92.6" font-size="6.4" text-anchor="end" fill="#2a2a2a" stroke="#2a2a2a" stroke-width="0.12" transform="rotate(-90 496.59999999999997 92.6)">Baseline</text>
<text x="503.79999999999995" y="92.6" font-size="6.4" text-anchor="end" fill="#2a2a2a" stroke="#2a2a2a" stroke-width="0.12" transform="rotate(-90 503.79999999999995 92.6)">Week 1</text>
<text x="510.9" y="92.6" font-size="6.4" text-anchor="end" fill="#2a2a2a" stroke="#2a2a2a" stroke-width="0.12" transform="rotate(-90 510.9 92.6)">Last dose</text>
<text x="467.9" y="89.6" font-size="7.2" text-anchor="start" fill="#1a1a1a" font-weight="bold" textLength="51.9" lengthAdjust="spacingAndGlyphs" transform="rotate(-90 467.9 89.6)"># Basophils (cells/L)</text>
<polyline points="494.6,57.9 501.8,57.9 508.9,57.9" fill="none" stroke="#3ea84c" stroke-width="0.8"/>
<polyline points="494.6,57.9 501.8,86.3 508.9,86.3" fill="none" stroke="#3ea84c" stroke-width="0.8"/>
<circle cx="494.6" cy="57.9" r="1.05" fill="#2f8f3c"/>
<circle cx="501.8" cy="57.9" r="1.05" fill="#2f8f3c"/>
<circle cx="508.9" cy="57.9" r="1.05" fill="#2f8f3c"/>
<circle cx="494.6" cy="57.9" r="1.05" fill="#2f8f3c"/>
<circle cx="501.8" cy="86.3" r="1.05" fill="#2f8f3c"/>
<circle cx="508.9" cy="86.3" r="1.05" fill="#2f8f3c"/>
<line x1="494.09999999999997" y1="42.8" x2="509.4" y2="42.8" stroke="#6a6a6a" stroke-width="1.3"/>
<text x="501.75" y="40.7" font-size="6.0" text-anchor="middle" fill="#333" stroke="#333" stroke-width="0.12">ns</text>
<line x1="494.29999999999995" y1="52.8" x2="501.09999999999997" y2="52.8" stroke="#6a6a6a" stroke-width="1.3"/>
<line x1="502.49999999999994" y1="52.8" x2="509.2" y2="52.8" stroke="#6a6a6a" stroke-width="1.3"/>
<text x="498.2" y="50.7" font-size="6.0" text-anchor="middle" fill="#333" stroke="#333" stroke-width="0.12">ns</text>
<text x="505.35" y="50.7" font-size="6.0" text-anchor="middle" fill="#333" stroke="#333" stroke-width="0.12">ns</text>
<rect x="32.4" y="157.8" width="115.4" height="115.6" fill="none" stroke="#5a5a5a" stroke-width="1.1"/>
<rect x="151.8" y="157.8" width="115.2" height="115.6" fill="none" stroke="#5a5a5a" stroke-width="1.1"/>
<text x="90.2" y="152.4" font-size="7.8" text-anchor="middle" fill="#222" stroke="#222" stroke-width="0.12">Cell types</text>
<text x="209.6" y="152.4" font-size="7.7" text-anchor="middle" fill="#222" stroke="#222" stroke-width="0.12">Treatment state</text>
<g>
<path d="M50.0,166.5 L55.0,164.2 L61.0,163.6 L66.0,164.0 L70.0,166.0 L73.0,170.0 L74.8,175.0 L75.2,180.0 L74.0,184.0 L70.5,186.5 L66.0,187.5 L61.0,188.5 L56.5,190.5 L52.5,190.0 L48.5,187.0 L46.5,182.0 L46.6,176.0 L47.8,170.5 Z" fill="#d0ce3f" stroke="none" stroke-width="1" filter="url(#bl3)"/>
<path d="M37.5,187.9 L40.0,186.4 L43.0,184.5 L47.5,184.8 L51.9,186.8 L54.6,189.5 L54.6,193.4 L52.8,196.2 L50.5,195.2 L47.5,191.5 L44.0,190.4 L40.8,190.1 Z" fill="#f7c16f" stroke="none" stroke-width="1" filter="url(#bl3)"/>
<path d="M51.2,196.3 L53.8,197.2 L54.6,201.5 L57.2,205.5 L58.6,209.5 L57.2,212.4 L54.0,214.2 L50.4,215.6 L47.4,213.6 L46.8,208.8 L48.6,204.0 L49.6,199.5 Z" fill="#f19f98" stroke="none" stroke-width="1" filter="url(#bl3)"/>
<path d="M109.6,163.8 L112.0,163.4 L114.5,162.5 L118.0,162.3 L121.2,163.2 L122.6,166.0 L121.6,169.0 L118.5,170.4 L115.5,170.0 L113.5,168.0 L112.0,165.5 L109.8,165.2 Z" fill="#a4a6de" stroke="none" stroke-width="1" filter="url(#bl3)"/>
<path d="M115.2,179.5 L117.6,179.8 L118.0,184.0 L119.2,187.8 L122.2,190.8 L126.8,193.4 L127.6,196.6 L123.5,197.2 L119.0,195.2 L115.2,191.6 L113.4,187.0 L113.6,182.5 Z" fill="#eca3d0" stroke="none" stroke-width="1" filter="url(#bl3)"/>
<path d="M126.8,193.6 L129.5,191.5 L132.5,190.2 L136.0,188.5 L139.6,186.4 L142.6,187.6 L143.2,190.4 L141.0,193.6 L136.5,195.4 L133.6,197.6 L133.4,201.2 L130.4,203.2 L127.4,202.6 L127.4,199.0 L127.6,196.8 Z" fill="#f19bbe" stroke="none" stroke-width="1" filter="url(#bl3)"/>
<path d="M74.5,253.4 L78.5,253.0 L82.2,254.2 L84.0,257.5 L83.6,262.0 L82.4,265.8 L79.0,267.6 L75.5,267.2 L73.0,264.5 L72.8,260.0 L73.2,256.0 Z" fill="#40baba" stroke="none" stroke-width="1" filter="url(#bl3)"/>
<path d="M87.2,260.8 L89.0,258.8 L91.2,257.4 L92.8,258.4 L91.8,260.6 L89.2,261.9 Z" fill="#46b189" stroke="none" stroke-width="1" filter="url(#bl3)"/>
<path d="M116.2,201.6 Q117.2,203.8 119.4,201.4" fill="none" stroke="#4aa8d0" stroke-width="0.9"/>
<circle cx="85.6" cy="237.4" r="0.5" fill="#d4c030"/>
<circle cx="84.8" cy="238.6" r="0.4" fill="#d4c030"/>
<path d="M59.5 178.7h0M71.0 180.9h0M57.8 184.9h0M55.5 188.4h0M57.7 187.7h0" stroke="#b6b414" stroke-width="1" stroke-linecap="round" fill="none"/>
<path d="M73.0 176.1h0M71.1 173.0h0" stroke="#bbb914" stroke-width="1" stroke-linecap="round" fill="none"/>
<path d="M61.1 179.4h0M66.4 164.7h0M59.6 171.1h0M68.5 174.4h0M72.6 176.2h0M49.0 172.5h0M49.9 170.2h0M48.5 169.7h0M48.7 178.3h0M71.3 179.0h0M64.4 173.9h0M48.8 180.8h0M55.1 181.8h0M59.2 187.6h0M50.4 177.0h0M66.8 178.9h0M70.3 170.0h0M64.6 175.6h0M64.6 181.2h0M66.1 169.0h0M60.1 168.4h0M46.8 176.3h0M67.0 168.4h0M50.2 175.8h0M65.2 169.1h0M67.2 185.6h0M52.6 187.8h0M48.9 175.5h0M52.9 177.8h0M62.9 169.0h0M61.9 177.1h0M52.1 169.7h0M66.2 172.3h0M64.8 177.8h0M67.8 185.4h0M62.3 177.4h0M51.8 169.1h0M66.6 186.3h0M72.1 185.2h0M66.4 184.2h0M68.5 174.5h0M56.3 176.2h0M64.8 180.4h0M65.6 172.7h0M66.6 184.1h0M53.9 174.4h0M63.6 184.0h0M64.0 165.2h0M67.2 176.2h0M59.6 170.7h0M66.2 178.8h0M62.0 165.6h0M49.0 181.8h0M68.6 169.3h0M48.8 171.8h0M67.3 182.3h0M57.0 166.8h0M71.8 171.2h0M74.2 181.1h0M48.9 180.7h0M65.1 170.2h0M61.5 184.2h0" stroke="#d8e04a" stroke-width="1" stroke-linecap="round" fill="none"/>
<path d="M51.8 177.4h0M51.5 183.0h0M74.6 181.3h0M64.8 177.7h0M65.3 178.7h0M52.5 172.8h0M69.7 173.5h0" stroke="#afad13" stroke-width="1" stroke-linecap="round" fill="none"/>
<path d="M64.6 184.9h0M52.0 170.1h0M63.0 186.9h0M54.4 168.1h0M74.7 175.8h0M70.6 182.1h0M50.1 175.3h0M53.7 168.9h0M58.1 182.0h0M52.1 168.0h0M69.4 178.1h0" stroke="#c4c215" stroke-width="1" stroke-linecap="round" fill="none"/>
<path d="M49.2 171.8h0M59.1 186.3h0M60.8 181.4h0M64.5 176.9h0M69.5 168.3h0M58.0 185.1h0M60.2 172.1h0M71.1 169.9h0M70.4 174.9h0M61.0 184.0h0M66.7 186.8h0M63.7 177.2h0M53.9 188.1h0M65.4 178.9h0M74.3 178.9h0M49.8 187.6h0M69.0 180.4h0M56.8 170.9h0M68.1 168.7h0M69.7 180.4h0M55.8 178.4h0M58.8 173.5h0M49.3 187.1h0M74.3 181.7h0" stroke="#ffffff" stroke-width="1" stroke-linecap="round" fill="none"/>
<path d="M49.1 185.4h0" stroke="#dedd7a" stroke-width="1" stroke-linecap="round" fill="none"/>
<path d="M65.3 180.2h0M55.2 187.4h0M71.8 179.8h0M63.2 180.0h0M64.1 183.9h0M54.2 176.3h0M66.9 178.9h0" stroke="#b4b214" stroke-width="1" stroke-linecap="round" fill="none"/>
<path d="M61.7 165.2h0M70.5 178.7h0" stroke="#e2e18b" stroke-width="1" stroke-linecap="round" fill="none"/>
<path d="M47.4 176.1h0M52.3 168.2h0M52.0 180.2h0M61.2 164.0h0M57.3 166.2h0M58.8 176.4h0M57.2 176.5h0M54.6 167.4h0M50.6 183.7h0" stroke="#c2c015" stroke-width="1" stroke-linecap="round" fill="none"/>
<path d="M61.4 180.8h0M49.1 179.3h0M67.7 182.5h0M67.4 174.0h0M73.6 176.9h0M63.9 164.3h0M63.7 164.0h0M69.9 174.5h0M57.0 173.4h0" stroke="#c5c315" stroke-width="1" stroke-linecap="round" fill="none"/>
<path d="M70.6 182.6h0" stroke="#e5e497" stroke-width="1" stroke-linecap="round" fill="none"/>
<path d="M55.5 169.8h0M53.3 182.6h0M66.3 165.4h0M64.2 183.5h0M54.6 182.9h0M58.7 170.5h0M72.7 175.4h0" stroke="#b8b614" stroke-width="1" stroke-linecap="round" fill="none"/>
<path d="M54.8 165.5h0" stroke="#d9d764" stroke-width="1" stroke-linecap="round" fill="none"/>
<path d="M70.8 174.0h0M53.2 189.0h0M52.1 178.8h0" stroke="#b9b814" stroke-width="1" stroke-linecap="round" fill="none"/>
<path d="M48.6 180.5h0M59.3 165.2h0M64.4 175.9h0M57.9 174.0h0" stroke="#bfbd15" stroke-width="1" stroke-linecap="round" fill="none"/>
<path d="M68.8 170.9h0M52.1 189.2h0M55.7 188.1h0" stroke="#b5b314" stroke-width="1" stroke-linecap="round" fill="none"/>
<path d="M69.4 168.4h0" stroke="#dedc78" stroke-width="1" stroke-linecap="round" fill="none"/>
<path d="M62.6 175.6h0" stroke="#dedd7b" stroke-width="1" stroke-linecap="round" fill="none"/>
<path d="M52.0 183.3h0M67.6 179.2h0M63.2 172.1h0M69.5 171.8h0" stroke="#b1af13" stroke-width="1" stroke-linecap="round" fill="none"/>
<path d="M50.3 180.9h0M55.0 165.6h0M72.5 181.4h0M60.9 182.0h0M57.0 171.3h0M68.8 165.6h0" stroke="#bdbb15" stroke-width="1" stroke-linecap="round" fill="none"/>
<path d="M49.8 174.9h0M52.4 180.6h0M55.6 174.3h0" stroke="#aead13" stroke-width="1" stroke-linecap="round" fill="none"/>
<path d="M52.6 170.9h0M53.7 168.7h0M51.6 173.5h0M61.7 175.3h0M53.4 183.1h0M69.2 167.0h0" stroke="#bcba14" stroke-width="1" stroke-linecap="round" fill="none"/>
<path d="M52.5 174.2h0" stroke="#e7e69e" stroke-width="1" stroke-linecap="round" fill="none"/>
<path d="M52.6 170.5h0M48.9 183.8h0M71.8 173.9h0" stroke="#dad96b" stroke-width="1" stroke-linecap="round" fill="none"/>
<path d="M68.7 172.4h0M59.4 171.0h0M71.7 185.0h0M61.3 183.1h0" stroke="#b9b714" stroke-width="1" stroke-linecap="round" fill="none"/>
<path d="M53.5 179.8h0M62.0 174.7h0" stroke="#dbda6e" stroke-width="1" stroke-linecap="round" fill="none"/>
<path d="M57.2 175.8h0M58.6 166.4h0M74.3 177.7h0M57.3 174.7h0M55.9 176.2h0M53.6 190.0h0" stroke="#c0be15" stroke-width="1" stroke-linecap="round" fill="none"/>
<path d="M74.0 176.6h0M61.7 166.9h0" stroke="#dad969" stroke-width="1" stroke-linecap="round" fill="none"/>
<path d="M51.7 167.7h0M61.9 184.9h0M60.5 164.4h0M62.7 176.6h0M56.8 183.1h0" stroke="#b2b013" stroke-width="1" stroke-linecap="round" fill="none"/>
<path d="M53.9 185.8h0M56.9 187.6h0M66.5 177.0h0M62.3 184.3h0M51.0 183.9h0" stroke="#aeac13" stroke-width="1" stroke-linecap="round" fill="none"/>
<path d="M63.6 171.5h0" stroke="#dcdb72" stroke-width="1" stroke-linecap="round" fill="none"/>
<path d="M62.6 186.5h0M54.3 172.9h0M73.3 183.0h0M57.3 178.9h0M53.9 166.2h0" stroke="#bab814" stroke-width="1" stroke-linecap="round" fill="none"/>
<path d="M64.1 171.1h0" stroke="#e6e59a" stroke-width="1" stroke-linecap="round" fill="none"/>
<path d="M62.9 167.1h0" stroke="#dedd7c" stroke-width="1" stroke-linecap="round" fill="none"/>
<path d="M66.3 179.3h0M61.3 175.2h0" stroke="#d8d761" stroke-width="1" stroke-linecap="round" fill="none"/>
<path d="M47.1 180.7h0" stroke="#e2e18c" stroke-width="1" stroke-linecap="round" fill="none"/>
<path d="M60.3 183.3h0M64.6 174.5h0" stroke="#bcbb14" stroke-width="1" stroke-linecap="round" fill="none"/>
<path d="M56.6 182.0h0" stroke="#d9d866" stroke-width="1" stroke-linecap="round" fill="none"/>
<path d="M58.5 184.9h0" stroke="#e7e69d" stroke-width="1" stroke-linecap="round" fill="none"/>
<path d="M59.1 186.2h0M72.4 172.1h0" stroke="#e3e28c" stroke-width="1" stroke-linecap="round" fill="none"/>
<path d="M47.4 179.8h0M66.5 177.6h0M50.5 167.6h0M62.7 176.8h0M56.7 180.3h0" stroke="#bebc15" stroke-width="1" stroke-linecap="round" fill="none"/>
<path d="M60.3 169.8h0" stroke="#e0df83" stroke-width="1" stroke-linecap="round" fill="none"/>
<path d="M55.9 181.5h0M52.5 186.5h0M62.8 167.5h0M62.3 177.3h0M51.4 176.9h0" stroke="#b0ae13" stroke-width="1" stroke-linecap="round" fill="none"/>
<path d="M52.2 175.2h0M55.4 184.9h0M55.4 173.9h0M61.7 167.9h0M61.8 174.1h0M63.2 174.9h0M68.8 177.9h0" stroke="#c1bf15" stroke-width="1" stroke-linecap="round" fill="none"/>
<path d="M70.5 186.4h0M62.2 184.8h0" stroke="#d7d65f" stroke-width="1" stroke-linecap="round" fill="none"/>
<path d="M52.6 174.7h0M54.8 183.2h0" stroke="#c3c115" stroke-width="1" stroke-linecap="round" fill="none"/>
<path d="M55.6 186.2h0M70.7 178.7h0" stroke="#e1e085" stroke-width="1" stroke-linecap="round" fill="none"/>
<path d="M59.6 164.3h0" stroke="#e2e28c" stroke-width="1" stroke-linecap="round" fill="none"/>
<path d="M73.6 176.1h0" stroke="#b0af13" stroke-width="1" stroke-linecap="round" fill="none"/>
<path d="M64.9 182.9h0M50.0 177.3h0M51.7 175.8h0M67.9 184.5h0" stroke="#b7b514" stroke-width="1" stroke-linecap="round" fill="none"/>
<path d="M56.1 184.8h0" stroke="#e0df81" stroke-width="1" stroke-linecap="round" fill="none"/>
<path d="M74.3 177.5h0M57.8 172.7h0" stroke="#dad96a" stroke-width="1" stroke-linecap="round" fill="none"/>
<path d="M49.5 183.3h0" stroke="#dad868" stroke-width="1" stroke-linecap="round" fill="none"/>
<path d="M70.9 180.1h0" stroke="#b5b414" stroke-width="1" stroke-linecap="round" fill="none"/>
<path d="M59.8 184.2h0M51.1 176.3h0M73.6 174.9h0M51.6 184.0h0" stroke="#b3b113" stroke-width="1" stroke-linecap="round" fill="none"/>
<path d="M67.7 174.5h0M52.8 184.2h0" stroke="#b3b213" stroke-width="1" stroke-linecap="round" fill="none"/>
<path d="M67.2 165.5h0M67.9 186.2h0" stroke="#d9d867" stroke-width="1" stroke-linecap="round" fill="none"/>
<path d="M53.7 188.0h0" stroke="#dddc75" stroke-width="1" stroke-linecap="round" fill="none"/>
<path d="M61.6 179.7h0" stroke="#e3e28f" stroke-width="1" stroke-linecap="round" fill="none"/>
<path d="M63.8 166.7h0" stroke="#d8d660" stroke-width="1" stroke-linecap="round" fill="none"/>
<path d="M59.2 181.6h0" stroke="#e7e7a0" stroke-width="1" stroke-linecap="round" fill="none"/>
<path d="M67.6 170.0h0" stroke="#bdbc15" stroke-width="1" stroke-linecap="round" fill="none"/>
<path d="M63.5 180.6h0" stroke="#b6b514" stroke-width="1" stroke-linecap="round" fill="none"/>
<path d="M54.3 175.0h0" stroke="#b4b314" stroke-width="1" stroke-linecap="round" fill="none"/>
<path d="M64.4 166.4h0" stroke="#afae13" stroke-width="1" stroke-linecap="round" fill="none"/>
<path d="M62.3 180.6h0" stroke="#bab914" stroke-width="1" stroke-linecap="round" fill="none"/>
<path d="M66.2 171.6h0" stroke="#b8b714" stroke-width="1" stroke-linecap="round" fill="none"/>
<path d="M52.6 181.4h0" stroke="#d7d65d" stroke-width="1" stroke-linecap="round" fill="none"/>
<path d="M53.6 173.3h0" stroke="#e1e088" stroke-width="1" stroke-linecap="round" fill="none"/>
<path d="M47.1 177.5h0" stroke="#b2b113" stroke-width="1" stroke-linecap="round" fill="none"/>
<path d="M62.1 178.9h0" stroke="#dfde7d" stroke-width="1" stroke-linecap="round" fill="none"/>
<path d="M60.7 178.1h0M57.3 168.1h0M48.2 171.9h0M50.6 174.0h0M54.4 180.8h0M56.8 181.3h0M59.6 183.6h0M71.9 176.0h0" stroke="#bab814" stroke-width="1" stroke-linecap="round" fill="none"/>
<path d="M67.2 182.6h0M54.9 189.7h0M72.7 172.8h0M57.2 185.0h0M70.8 185.7h0M71.1 171.8h0M70.2 169.2h0M62.1 177.7h0M49.5 174.2h0M62.7 175.9h0M69.4 169.2h0M57.8 181.5h0M53.9 169.0h0M49.1 169.7h0M49.6 173.8h0M70.2 180.0h0M56.9 176.1h0M70.0 179.8h0M70.3 168.6h0M65.8 183.4h0M62.8 168.3h0M62.8 172.5h0M64.9 164.6h0M65.8 167.5h0M58.2 175.3h0M62.7 188.0h0M58.9 187.9h0M55.7 165.1h0M50.1 175.6h0M48.0 182.3h0M61.6 170.0h0M49.3 184.9h0M57.9 173.2h0M55.0 188.4h0M60.1 168.2h0M52.3 180.6h0M52.0 187.3h0M59.3 165.7h0M52.9 171.9h0M66.9 168.9h0M57.2 181.4h0M62.9 187.1h0M47.0 176.9h0M50.7 172.0h0M70.3 184.8h0M57.0 169.4h0M55.4 175.6h0M57.5 165.6h0M66.3 173.4h0M51.7 170.7h0M68.5 183.1h0M50.7 169.1h0M52.7 182.1h0M58.8 174.2h0M48.2 173.9h0M50.8 179.3h0M57.7 173.4h0M51.8 176.2h0M50.4 177.2h0" stroke="#d8e04a" stroke-width="1" stroke-linecap="round" fill="none"/>
<path d="M72.8 174.6h0M60.4 169.5h0M60.9 174.3h0M61.7 164.8h0M59.1 184.4h0M51.2 169.1h0M63.3 176.2h0" stroke="#b4b214" stroke-width="1" stroke-linecap="round" fill="none"/>
<path d="M70.2 181.5h0M58.6 167.5h0M61.6 177.5h0M55.4 172.0h0M57.3 178.1h0M70.5 179.5h0M56.3 181.1h0M50.6 182.8h0M62.1 178.7h0M74.0 179.7h0M60.0 174.7h0M68.3 183.8h0M63.5 165.5h0M70.5 173.1h0M71.9 179.5h0M59.7 183.8h0M64.0 169.9h0M69.1 184.9h0M52.8 179.2h0M54.1 179.4h0M49.0 185.7h0M51.1 182.2h0M71.3 179.5h0M55.7 173.9h0M62.7 185.4h0M51.3 181.5h0M66.6 178.5h0M55.8 170.4h0M54.4 185.9h0M62.6 186.0h0" stroke="#ffffff" stroke-width="1" stroke-linecap="round" fill="none"/>
<path d="M71.0 185.3h0M55.4 178.3h0M67.5 179.7h0M69.2 170.0h0M58.1 176.4h0" stroke="#c0be15" stroke-width="1" stroke-linecap="round" fill="none"/>
<path d="M74.0 180.8h0" stroke="#d7d65f" stroke-width="1" stroke-linecap="round" fill="none"/>
<path d="M61.5 182.7h0M51.8 169.4h0M70.0 176.5h0M72.4 178.3h0M67.3 172.0h0M69.0 177.5h0M55.4 173.3h0" stroke="#bebc15" stroke-width="1" stroke-linecap="round" fill="none"/>
<path d="M69.5 174.9h0M51.7 167.7h0" stroke="#d8d763" stroke-width="1" stroke-linecap="round" fill="none"/>
<path d="M52.4 175.0h0M55.7 170.6h0M61.2 181.0h0M68.1 171.8h0M57.8 171.6h0M71.4 169.7h0M48.3 174.5h0M54.0 181.6h0" stroke="#b3b113" stroke-width="1" stroke-linecap="round" fill="none"/>
<path d="M49.8 181.0h0" stroke="#dad96a" stroke-width="1" stroke-linecap="round" fill="none"/>
<path d="M68.8 168.4h0M67.0 186.1h0M55.8 165.3h0M55.3 177.0h0M68.2 170.2h0M47.6 174.4h0M56.3 182.3h0M51.8 178.4h0M55.8 184.3h0M62.2 180.4h0" stroke="#c4c215" stroke-width="1" stroke-linecap="round" fill="none"/>
<path d="M48.3 175.9h0M51.5 184.0h0M58.2 165.6h0M65.6 186.9h0M54.0 185.1h0M63.6 164.5h0" stroke="#afad13" stroke-width="1" stroke-linecap="round" fill="none"/>
<path d="M53.3 182.9h0M69.2 174.8h0M53.3 165.4h0M51.8 187.7h0M62.8 178.2h0M48.3 174.6h0M61.4 165.1h0M52.0 169.7h0" stroke="#b0ae13" stroke-width="1" stroke-linecap="round" fill="none"/>
<path d="M63.6 169.6h0M51.7 169.9h0M61.0 186.3h0M67.0 170.8h0M62.1 167.3h0" stroke="#c5c315" stroke-width="1" stroke-linecap="round" fill="none"/>
<path d="M51.8 171.2h0M68.5 185.7h0M60.8 168.4h0M62.5 180.9h0" stroke="#c2c015" stroke-width="1" stroke-linecap="round" fill="none"/>
<path d="M54.0 187.5h0" stroke="#e4e390" stroke-width="1" stroke-linecap="round" fill="none"/>
<path d="M69.5 174.0h0M67.3 172.5h0M65.9 182.7h0M51.7 174.4h0M74.8 177.5h0M55.9 188.6h0M62.8 187.9h0M60.7 181.1h0" stroke="#c3c115" stroke-width="1" stroke-linecap="round" fill="none"/>
<path d="M65.4 170.0h0" stroke="#dfde7e" stroke-width="1" stroke-linecap="round" fill="none"/>
<path d="M46.8 176.3h0M50.8 184.3h0M48.9 170.9h0M59.9 182.8h0M67.5 172.5h0M67.0 167.2h0M65.6 184.9h0M73.1 181.5h0M57.5 188.6h0M52.7 172.9h0" stroke="#bdbb15" stroke-width="1" stroke-linecap="round" fill="none"/>
<path d="M67.0 179.9h0M64.2 171.4h0M55.1 172.7h0M54.5 178.3h0M47.7 172.1h0M56.9 167.7h0M73.4 173.3h0M57.8 170.0h0M67.3 181.5h0M54.5 182.8h0M56.9 179.1h0" stroke="#b7b514" stroke-width="1" stroke-linecap="round" fill="none"/>
<path d="M51.0 167.8h0M52.2 189.0h0M63.3 164.8h0" stroke="#e1e085" stroke-width="1" stroke-linecap="round" fill="none"/>
<path d="M71.4 177.5h0M73.6 178.7h0" stroke="#b1af13" stroke-width="1" stroke-linecap="round" fill="none"/>
<path d="M54.1 178.0h0M57.6 172.5h0M64.5 168.9h0M47.2 180.6h0M71.4 169.9h0" stroke="#bcba14" stroke-width="1" stroke-linecap="round" fill="none"/>
<path d="M67.1 166.2h0" stroke="#e4e393" stroke-width="1" stroke-linecap="round" fill="none"/>
<path d="M60.3 176.2h0" stroke="#b1b013" stroke-width="1" stroke-linecap="round" fill="none"/>
<path d="M73.9 179.4h0" stroke="#dbda6d" stroke-width="1" stroke-linecap="round" fill="none"/>
<path d="M51.0 186.0h0M66.0 169.9h0" stroke="#b0af13" stroke-width="1" stroke-linecap="round" fill="none"/>
<path d="M48.7 171.8h0" stroke="#dad96b" stroke-width="1" stroke-linecap="round" fill="none"/>
<path d="M56.8 182.1h0M48.9 170.2h0M53.4 179.0h0M58.6 185.3h0M52.9 183.7h0M54.5 167.9h0" stroke="#c1bf15" stroke-width="1" stroke-linecap="round" fill="none"/>
<path d="M70.3 181.2h0" stroke="#d7d65e" stroke-width="1" stroke-linecap="round" fill="none"/>
<path d="M66.9 170.0h0M56.6 177.1h0" stroke="#b2b113" stroke-width="1" stroke-linecap="round" fill="none"/>
<path d="M51.0 166.9h0M58.0 182.4h0M50.4 187.9h0M53.7 185.2h0" stroke="#b8b614" stroke-width="1" stroke-linecap="round" fill="none"/>
<path d="M72.9 175.1h0M68.4 183.3h0M66.8 170.6h0" stroke="#b6b414" stroke-width="1" stroke-linecap="round" fill="none"/>
<path d="M58.3 164.0h0M61.4 170.7h0M50.1 178.1h0" stroke="#b5b314" stroke-width="1" stroke-linecap="round" fill="none"/>
<path d="M65.4 180.0h0M62.6 170.7h0M61.6 177.7h0M59.1 177.8h0M49.0 171.3h0M56.9 172.7h0M74.7 180.0h0M65.1 165.2h0" stroke="#b2b013" stroke-width="1" stroke-linecap="round" fill="none"/>
<path d="M61.1 184.8h0M64.3 177.7h0" stroke="#dcdb71" stroke-width="1" stroke-linecap="round" fill="none"/>
<path d="M51.0 184.2h0M63.0 182.4h0M55.3 174.2h0M68.9 168.0h0M58.7 165.7h0M71.7 173.9h0" stroke="#bfbd15" stroke-width="1" stroke-linecap="round" fill="none"/>
<path d="M50.0 185.8h0M60.5 184.1h0" stroke="#aead13" stroke-width="1" stroke-linecap="round" fill="none"/>
<path d="M54.8 187.7h0" stroke="#e5e495" stroke-width="1" stroke-linecap="round" fill="none"/>
<path d="M62.2 165.7h0M57.8 188.4h0" stroke="#e6e59b" stroke-width="1" stroke-linecap="round" fill="none"/>
<path d="M65.4 171.9h0" stroke="#c2c115" stroke-width="1" stroke-linecap="round" fill="none"/>
<path d="M57.5 179.5h0" stroke="#b4b314" stroke-width="1" stroke-linecap="round" fill="none"/>
<path d="M52.2 176.2h0M63.7 171.3h0M59.0 175.5h0M52.7 176.2h0M54.9 172.9h0" stroke="#bbb914" stroke-width="1" stroke-linecap="round" fill="none"/>
<path d="M64.4 182.1h0M51.4 170.5h0M72.1 178.8h0" stroke="#e5e496" stroke-width="1" stroke-linecap="round" fill="none"/>
<path d="M53.5 171.7h0" stroke="#e5e598" stroke-width="1" stroke-linecap="round" fill="none"/>
<path d="M60.1 169.2h0M55.9 177.0h0" stroke="#dcdb73" stroke-width="1" stroke-linecap="round" fill="none"/>
<path d="M53.1 171.7h0" stroke="#e0df82" stroke-width="1" stroke-linecap="round" fill="none"/>
<path d="M66.1 177.6h0" stroke="#e6e599" stroke-width="1" stroke-linecap="round" fill="none"/>
<path d="M53.3 176.8h0M56.3 175.0h0" stroke="#b9b714" stroke-width="1" stroke-linecap="round" fill="none"/>
<path d="M60.8 164.6h0" stroke="#bdbc15" stroke-width="1" stroke-linecap="round" fill="none"/>
<path d="M63.6 182.8h0" stroke="#e7e69d" stroke-width="1" stroke-linecap="round" fill="none"/>
<path d="M53.1 170.4h0" stroke="#d9d866" stroke-width="1" stroke-linecap="round" fill="none"/>
<path d="M62.3 170.1h0" stroke="#c0bf15" stroke-width="1" stroke-linecap="round" fill="none"/>
<path d="M59.7 188.7h0" stroke="#e7e69e" stroke-width="1" stroke-linecap="round" fill="none"/>
<path d="M57.8 186.3h0M55.5 175.0h0" stroke="#aeac13" stroke-width="1" stroke-linecap="round" fill="none"/>
<path d="M57.4 184.6h0" stroke="#e2e18a" stroke-width="1" stroke-linecap="round" fill="none"/>
<path d="M71.3 169.1h0" stroke="#b8b714" stroke-width="1" stroke-linecap="round" fill="none"/>
<path d="M58.1 174.0h0M48.1 176.9h0" stroke="#b7b614" stroke-width="1" stroke-linecap="round" fill="none"/>
<path d="M64.7 166.0h0" stroke="#d8d762" stroke-width="1" stroke-linecap="round" fill="none"/>
<path d="M53.4 166.1h0" stroke="#dcda70" stroke-width="1" stroke-linecap="round" fill="none"/>
<path d="M64.5 180.3h0" stroke="#dfde7f" stroke-width="1" stroke-linecap="round" fill="none"/>
<path d="M58.3 174.8h0" stroke="#dddc76" stroke-width="1" stroke-linecap="round" fill="none"/>
<path d="M57.8 170.0h0" stroke="#bfbe15" stroke-width="1" stroke-linecap="round" fill="none"/>
<path d="M56.4 187.4h0" stroke="#c2c115" stroke-width="1" stroke-linecap="round" fill="none"/>
<path d="M55.5 182.9h0M47.9 182.8h0M66.4 178.3h0M65.4 180.4h0M54.7 187.1h0M58.9 180.2h0M57.1 183.2h0" stroke="#b9b714" stroke-width="1" stroke-linecap="round" fill="none"/>
<path d="M66.5 182.1h0M68.0 178.0h0M70.7 185.9h0M62.1 176.6h0M69.5 167.6h0M64.4 171.0h0M72.1 171.9h0M55.4 177.4h0M69.2 183.4h0M55.7 183.9h0M71.5 182.7h0M54.5 180.9h0M71.0 184.3h0M56.4 182.5h0M72.2 170.4h0M52.5 173.6h0M50.6 174.2h0M49.9 176.2h0M52.7 175.8h0M57.1 171.7h0M55.5 177.0h0M71.2 174.4h0M55.4 189.3h0M61.9 186.2h0M50.0 187.1h0M68.5 179.3h0M67.4 170.7h0M64.0 178.2h0" stroke="#ffffff" stroke-width="1" stroke-linecap="round" fill="none"/>
<path d="M51.1 180.3h0M52.3 186.9h0M64.7 173.8h0M71.1 180.5h0M61.0 178.9h0M61.3 164.5h0M47.8 174.8h0M61.9 170.4h0" stroke="#c4c215" stroke-width="1" stroke-linecap="round" fill="none"/>
<path d="M60.6 178.8h0M69.5 186.2h0M46.8 177.1h0" stroke="#b2b013" stroke-width="1" stroke-linecap="round" fill="none"/>
<path d="M57.1 171.3h0M66.3 175.8h0M59.2 189.3h0M60.2 173.2h0M62.2 174.4h0M57.6 184.5h0M68.1 166.4h0M68.7 170.6h0M47.4 179.0h0" stroke="#bbb914" stroke-width="1" stroke-linecap="round" fill="none"/>
<path d="M53.3 170.3h0M66.0 168.4h0M62.5 176.0h0M57.0 179.7h0M53.7 170.9h0" stroke="#c5c315" stroke-width="1" stroke-linecap="round" fill="none"/>
<path d="M55.8 168.4h0M47.6 172.9h0M70.9 167.8h0" stroke="#b0ae13" stroke-width="1" stroke-linecap="round" fill="none"/>
<path d="M61.2 167.0h0M57.0 180.8h0M68.0 176.7h0M47.9 180.4h0M68.9 175.4h0M52.6 174.8h0M52.2 178.0h0" stroke="#c3c115" stroke-width="1" stroke-linecap="round" fill="none"/>
<path d="M49.4 182.6h0M49.5 167.4h0M57.2 183.1h0M61.9 178.0h0M59.3 175.4h0M49.5 183.6h0" stroke="#b5b314" stroke-width="1" stroke-linecap="round" fill="none"/>
<path d="M49.7 175.7h0" stroke="#e0df84" stroke-width="1" stroke-linecap="round" fill="none"/>
<path d="M68.7 176.5h0M51.2 186.9h0M67.0 170.4h0M62.8 174.9h0M50.1 173.7h0M65.7 169.8h0M54.7 183.3h0M60.5 166.8h0M53.0 176.6h0M67.3 168.3h0M56.8 183.9h0M63.1 169.7h0M57.6 173.5h0M72.5 172.3h0M67.8 178.3h0M52.4 187.3h0M65.6 174.9h0M63.7 179.0h0M64.5 175.6h0M63.5 179.6h0M60.6 169.9h0M53.7 185.3h0M53.4 185.1h0M69.4 167.7h0M64.6 171.1h0M55.4 174.6h0M53.2 179.2h0M67.8 179.8h0M58.5 171.2h0M65.8 170.2h0M58.3 167.2h0M59.8 172.1h0M55.2 177.2h0M50.1 178.9h0M58.2 180.1h0M65.0 186.4h0M55.9 176.8h0M65.3 187.5h0M57.1 175.1h0M52.9 166.3h0M61.3 183.9h0M69.3 175.0h0M54.7 181.9h0M48.1 184.1h0M73.3 183.8h0M68.1 173.8h0M51.2 173.0h0M63.5 177.6h0M60.5 169.8h0M62.8 178.4h0M56.1 167.7h0M64.0 166.8h0M73.8 182.9h0M50.3 176.6h0M67.6 178.0h0M65.4 165.5h0" stroke="#d8e04a" stroke-width="1" stroke-linecap="round" fill="none"/>
<path d="M53.8 177.3h0M69.4 174.2h0M62.7 167.5h0M52.2 181.6h0M48.3 185.8h0" stroke="#bdbb15" stroke-width="1" stroke-linecap="round" fill="none"/>
<path d="M67.0 172.4h0" stroke="#b4b214" stroke-width="1" stroke-linecap="round" fill="none"/>
<path d="M56.1 184.0h0M57.5 169.8h0M58.0 186.9h0M70.6 181.1h0M58.9 164.0h0M67.6 173.3h0M67.5 184.5h0M56.9 184.8h0" stroke="#b8b614" stroke-width="1" stroke-linecap="round" fill="none"/>
<path d="M66.8 180.4h0M65.4 185.4h0M67.7 172.0h0M54.7 186.6h0M70.0 186.5h0M47.2 180.6h0M55.1 189.6h0M54.3 171.3h0" stroke="#b7b514" stroke-width="1" stroke-linecap="round" fill="none"/>
<path d="M70.3 185.2h0M49.0 173.4h0" stroke="#bebd15" stroke-width="1" stroke-linecap="round" fill="none"/>
<path d="M66.2 174.9h0M61.6 185.4h0M70.3 184.3h0M48.6 178.5h0M58.0 181.2h0M66.5 169.9h0M53.2 175.8h0" stroke="#bcba14" stroke-width="1" stroke-linecap="round" fill="none"/>
<path d="M64.6 174.3h0M56.2 172.1h0" stroke="#dcdb71" stroke-width="1" stroke-linecap="round" fill="none"/>
<path d="M56.0 164.3h0M73.7 172.3h0M62.3 188.0h0M58.7 185.7h0" stroke="#b1af13" stroke-width="1" stroke-linecap="round" fill="none"/>
<path d="M57.2 171.9h0M54.6 174.1h0M69.7 174.3h0M59.2 186.0h0M57.0 166.3h0M63.8 182.3h0M50.7 180.6h0M58.2 175.9h0M62.7 166.8h0" stroke="#c0be15" stroke-width="1" stroke-linecap="round" fill="none"/>
<path d="M64.2 184.2h0" stroke="#e6e59b" stroke-width="1" stroke-linecap="round" fill="none"/>
<path d="M51.5 166.5h0" stroke="#d8d660" stroke-width="1" stroke-linecap="round" fill="none"/>
<path d="M57.0 170.6h0" stroke="#e2e189" stroke-width="1" stroke-linecap="round" fill="none"/>
<path d="M60.4 174.8h0M73.7 178.9h0" stroke="#dbda6e" stroke-width="1" stroke-linecap="round" fill="none"/>
<path d="M48.2 178.4h0M57.3 182.9h0" stroke="#d7d55c" stroke-width="1" stroke-linecap="round" fill="none"/>
<path d="M54.5 188.9h0M66.7 170.3h0M65.0 169.3h0M59.5 178.0h0M60.4 169.8h0M70.7 173.2h0M66.3 173.4h0" stroke="#afad13" stroke-width="1" stroke-linecap="round" fill="none"/>
<path d="M58.0 185.2h0" stroke="#e5e497" stroke-width="1" stroke-linecap="round" fill="none"/>
<path d="M73.8 174.4h0" stroke="#c1c015" stroke-width="1" stroke-linecap="round" fill="none"/>
<path d="M56.7 171.1h0M67.8 169.3h0M64.2 187.5h0M69.0 169.5h0" stroke="#c2c015" stroke-width="1" stroke-linecap="round" fill="none"/>
<path d="M49.2 172.6h0M58.1 172.2h0M57.8 171.7h0" stroke="#b2b113" stroke-width="1" stroke-linecap="round" fill="none"/>
<path d="M56.6 175.2h0M52.8 174.6h0M63.5 178.3h0M50.9 185.6h0M48.7 170.6h0M60.9 187.9h0M64.8 164.2h0M69.6 166.2h0" stroke="#bab814" stroke-width="1" stroke-linecap="round" fill="none"/>
<path d="M66.8 168.4h0M51.8 173.2h0M71.3 168.9h0M49.9 168.5h0M57.7 186.4h0M52.4 180.5h0M66.4 176.1h0M58.9 175.7h0M48.3 177.8h0M64.0 179.5h0M67.6 174.9h0" stroke="#bfbd15" stroke-width="1" stroke-linecap="round" fill="none"/>
<path d="M54.3 181.8h0" stroke="#e7e69f" stroke-width="1" stroke-linecap="round" fill="none"/>
<path d="M49.8 186.1h0" stroke="#e3e28f" stroke-width="1" stroke-linecap="round" fill="none"/>
<path d="M69.4 177.4h0" stroke="#b6b514" stroke-width="1" stroke-linecap="round" fill="none"/>
<path d="M69.1 176.8h0M58.6 172.8h0M61.2 171.5h0M68.8 170.2h0M65.6 178.3h0M60.1 164.4h0M54.5 177.3h0" stroke="#c1bf15" stroke-width="1" stroke-linecap="round" fill="none"/>
<path d="M71.7 183.2h0M65.9 175.8h0" stroke="#b5b414" stroke-width="1" stroke-linecap="round" fill="none"/>
<path d="M51.7 167.0h0" stroke="#d9d865" stroke-width="1" stroke-linecap="round" fill="none"/>
<path d="M50.2 166.7h0" stroke="#e5e495" stroke-width="1" stroke-linecap="round" fill="none"/>
<path d="M73.5 180.0h0M48.4 176.0h0M58.4 165.1h0M67.6 165.5h0M73.6 177.2h0" stroke="#aeac13" stroke-width="1" stroke-linecap="round" fill="none"/>
<path d="M56.8 168.9h0" stroke="#afae13" stroke-width="1" stroke-linecap="round" fill="none"/>
<path d="M73.3 174.0h0M53.8 185.4h0M57.2 172.1h0M47.5 182.4h0M53.2 189.2h0M65.6 165.4h0" stroke="#b8b714" stroke-width="1" stroke-linecap="round" fill="none"/>
<path d="M59.4 165.3h0" stroke="#e7e69e" stroke-width="1" stroke-linecap="round" fill="none"/>
<path d="M54.9 182.3h0" stroke="#d8d761" stroke-width="1" stroke-linecap="round" fill="none"/>
<path d="M65.7 172.9h0M49.9 172.2h0" stroke="#e1e084" stroke-width="1" stroke-linecap="round" fill="none"/>
<path d="M60.0 173.3h0M51.3 181.1h0M67.6 182.8h0M51.3 179.4h0M63.3 176.5h0M62.7 173.0h0" stroke="#b3b113" stroke-width="1" stroke-linecap="round" fill="none"/>
<path d="M65.8 179.9h0" stroke="#e3e28e" stroke-width="1" stroke-linecap="round" fill="none"/>
<path d="M70.3 181.1h0" stroke="#e7e7a0" stroke-width="1" stroke-linecap="round" fill="none"/>
<path d="M67.8 165.8h0" stroke="#b4b314" stroke-width="1" stroke-linecap="round" fill="none"/>
<path d="M64.4 183.6h0" stroke="#e1e086" stroke-width="1" stroke-linecap="round" fill="none"/>
<path d="M49.7 184.8h0" stroke="#dfde7d" stroke-width="1" stroke-linecap="round" fill="none"/>
<path d="M74.3 177.7h0" stroke="#dedd7c" stroke-width="1" stroke-linecap="round" fill="none"/>
<path d="M58.4 163.9h0" stroke="#d9d763" stroke-width="1" stroke-linecap="round" fill="none"/>
<path d="M51.0 177.9h0M63.0 170.5h0" stroke="#bebc15" stroke-width="1" stroke-linecap="round" fill="none"/>
<path d="M67.7 170.5h0" stroke="#e0df82" stroke-width="1" stroke-linecap="round" fill="none"/>
<path d="M70.4 172.4h0M69.1 180.9h0M54.8 186.7h0" stroke="#b6b414" stroke-width="1" stroke-linecap="round" fill="none"/>
<path d="M55.6 185.6h0" stroke="#b7b614" stroke-width="1" stroke-linecap="round" fill="none"/>
<path d="M49.8 186.0h0M58.9 173.8h0" stroke="#dedd7b" stroke-width="1" stroke-linecap="round" fill="none"/>
<path d="M60.7 182.1h0" stroke="#e8e7a1" stroke-width="1" stroke-linecap="round" fill="none"/>
<path d="M52.3 172.9h0" stroke="#d8d763" stroke-width="1" stroke-linecap="round" fill="none"/>
<path d="M57.7 179.0h0" stroke="#dedd7a" stroke-width="1" stroke-linecap="round" fill="none"/>
<path d="M54.0 183.2h0" stroke="#e6e69c" stroke-width="1" stroke-linecap="round" fill="none"/>
<path d="M72.6 175.9h0" stroke="#dbda6d" stroke-width="1" stroke-linecap="round" fill="none"/>
<path d="M55.3 186.4h0" stroke="#bbba14" stroke-width="1" stroke-linecap="round" fill="none"/>
<path d="M54.9 170.4h0" stroke="#e4e391" stroke-width="1" stroke-linecap="round" fill="none"/>
<path d="M71.0 184.7h0M61.6 168.6h0M61.6 173.1h0M60.5 178.6h0M47.1 176.8h0M63.5 182.0h0M61.6 172.6h0M53.2 187.3h0M69.0 172.6h0M55.2 172.5h0M69.2 184.6h0M63.5 183.5h0M73.7 175.8h0M57.2 166.8h0M54.3 188.9h0M55.4 184.1h0M51.1 172.5h0M70.8 176.1h0M60.8 181.2h0M64.3 173.5h0M54.8 168.2h0M67.3 169.9h0M63.3 167.8h0M56.5 178.6h0M61.3 173.8h0M69.5 169.9h0M70.3 185.1h0M70.4 185.2h0M69.5 168.3h0M71.5 172.0h0M55.6 170.9h0M52.2 179.2h0M68.4 178.5h0M72.4 170.4h0" stroke="#d8e04a" stroke-width="1" stroke-linecap="round" fill="none"/>
<path d="M61.5 165.7h0" stroke="#b0af13" stroke-width="1" stroke-linecap="round" fill="none"/>
<path d="M60.8 168.9h0M46.9 177.0h0M65.3 184.5h0M72.7 171.4h0" stroke="#b4b214" stroke-width="1" stroke-linecap="round" fill="none"/>
<path d="M66.7 174.8h0M54.0 179.4h0M68.4 177.8h0M73.7 180.8h0" stroke="#b2b013" stroke-width="1" stroke-linecap="round" fill="none"/>
<path d="M60.4 165.7h0M70.3 182.1h0M66.4 177.5h0" stroke="#aead13" stroke-width="1" stroke-linecap="round" fill="none"/>
<path d="M74.4 178.7h0" stroke="#bebc15" stroke-width="1" stroke-linecap="round" fill="none"/>
<path d="M50.4 171.7h0M54.0 177.7h0M51.5 183.4h0M60.3 180.9h0M51.8 182.3h0M67.9 170.3h0" stroke="#bcba14" stroke-width="1" stroke-linecap="round" fill="none"/>
<path d="M56.1 182.5h0M61.0 175.1h0M53.4 172.4h0" stroke="#b9b714" stroke-width="1" stroke-linecap="round" fill="none"/>
<path d="M64.1 180.1h0M53.8 176.5h0M57.4 171.3h0" stroke="#c2c015" stroke-width="1" stroke-linecap="round" fill="none"/>
<path d="M61.4 179.2h0M51.5 167.6h0M52.4 187.2h0M56.0 188.5h0" stroke="#bfbd15" stroke-width="1" stroke-linecap="round" fill="none"/>
<path d="M68.2 185.3h0M65.9 175.8h0M48.8 184.1h0M60.2 185.6h0M56.5 164.9h0M73.0 177.2h0M55.6 173.2h0M59.7 172.5h0M72.7 169.9h0M49.1 177.0h0M69.9 171.8h0M53.5 188.3h0M47.2 177.4h0M56.7 177.8h0M61.6 168.7h0M48.4 186.2h0M44.1 188.7h0M50.2 192.6h0M43.5 186.0h0" stroke="#ffffff" stroke-width="1" stroke-linecap="round" fill="none"/>
<path d="M70.4 174.6h0M59.7 179.8h0M60.8 188.4h0M64.8 176.8h0M56.1 171.1h0" stroke="#c4c215" stroke-width="1" stroke-linecap="round" fill="none"/>
<path d="M56.1 172.9h0" stroke="#e2e18a" stroke-width="1" stroke-linecap="round" fill="none"/>
<path d="M53.3 181.2h0" stroke="#b8b614" stroke-width="1" stroke-linecap="round" fill="none"/>
<path d="M53.8 187.2h0" stroke="#b4b314" stroke-width="1" stroke-linecap="round" fill="none"/>
<path d="M51.8 169.8h0M62.0 178.9h0M56.3 184.9h0" stroke="#b1af13" stroke-width="1" stroke-linecap="round" fill="none"/>
<path d="M67.3 181.7h0M60.6 176.6h0" stroke="#b7b514" stroke-width="1" stroke-linecap="round" fill="none"/>
<path d="M69.2 178.1h0M58.5 178.1h0" stroke="#b5b414" stroke-width="1" stroke-linecap="round" fill="none"/>
<path d="M53.5 169.5h0" stroke="#bab914" stroke-width="1" stroke-linecap="round" fill="none"/>
<path d="M57.1 173.2h0" stroke="#e1e087" stroke-width="1" stroke-linecap="round" fill="none"/>
<path d="M57.6 167.2h0" stroke="#b8b714" stroke-width="1" stroke-linecap="round" fill="none"/>
<path d="M56.2 184.9h0M56.3 188.6h0M55.3 168.5h0M59.8 168.5h0M64.6 176.0h0M64.4 167.0h0" stroke="#bdbb15" stroke-width="1" stroke-linecap="round" fill="none"/>
<path d="M57.4 165.4h0" stroke="#e1e086" stroke-width="1" stroke-linecap="round" fill="none"/>
<path d="M50.6 182.8h0" stroke="#c0be15" stroke-width="1" stroke-linecap="round" fill="none"/>
<path d="M50.4 181.8h0M48.4 181.5h0" stroke="#b5b314" stroke-width="1" stroke-linecap="round" fill="none"/>
<path d="M71.8 183.1h0" stroke="#d9d866" stroke-width="1" stroke-linecap="round" fill="none"/>
<path d="M50.0 177.8h0M52.8 185.1h0M60.9 172.8h0M71.4 184.3h0M58.9 182.0h0" stroke="#bbb914" stroke-width="1" stroke-linecap="round" fill="none"/>
<path d="M52.9 165.7h0M61.5 176.7h0M67.4 172.2h0" stroke="#afae13" stroke-width="1" stroke-linecap="round" fill="none"/>
<path d="M62.8 171.5h0M52.1 169.4h0M51.9 181.0h0" stroke="#c5c315" stroke-width="1" stroke-linecap="round" fill="none"/>
<path d="M52.0 189.0h0" stroke="#b6b514" stroke-width="1" stroke-linecap="round" fill="none"/>
<path d="M68.4 174.4h0" stroke="#dbd96c" stroke-width="1" stroke-linecap="round" fill="none"/>
<path d="M60.1 180.4h0M53.8 187.9h0M73.3 180.9h0" stroke="#afad13" stroke-width="1" stroke-linecap="round" fill="none"/>
<path d="M71.9 179.2h0" stroke="#dfde7e" stroke-width="1" stroke-linecap="round" fill="none"/>
<path d="M49.3 182.1h0" stroke="#b3b213" stroke-width="1" stroke-linecap="round" fill="none"/>
<path d="M54.2 179.0h0" stroke="#dfde7f" stroke-width="1" stroke-linecap="round" fill="none"/>
<path d="M59.2 165.9h0" stroke="#c3c115" stroke-width="1" stroke-linecap="round" fill="none"/>
<path d="M54.8 186.2h0M67.4 165.2h0M58.4 174.5h0M53.3 176.3h0" stroke="#c1bf15" stroke-width="1" stroke-linecap="round" fill="none"/>
<path d="M66.2 185.1h0M61.9 176.3h0" stroke="#bab814" stroke-width="1" stroke-linecap="round" fill="none"/>
<path d="M66.9 185.4h0" stroke="#e0de80" stroke-width="1" stroke-linecap="round" fill="none"/>
<path d="M57.5 173.1h0" stroke="#d9d867" stroke-width="1" stroke-linecap="round" fill="none"/>
<path d="M69.3 169.8h0" stroke="#aeac13" stroke-width="1" stroke-linecap="round" fill="none"/>
<path d="M73.8 180.3h0" stroke="#b9b814" stroke-width="1" stroke-linecap="round" fill="none"/>
<path d="M50.8 178.4h0" stroke="#b6b414" stroke-width="1" stroke-linecap="round" fill="none"/>
<path d="M54.3 183.0h0" stroke="#dedd79" stroke-width="1" stroke-linecap="round" fill="none"/>
<path d="M52.3 165.2h0M53.6 165.0h0M59.4 162.9h0M55.7 163.8h0M64.4 163.3h0M60.7 164.4h0M67.0 164.4h0M69.1 165.4h0M70.8 165.3h0M72.4 169.8h0M73.3 170.5h0M75.1 174.9h0M75.1 178.2h0M75.8 174.1h0M73.9 183.5h0M73.6 182.0h0M69.7 185.9h0M71.6 185.4h0M65.7 186.5h0M70.3 186.0h0M65.1 188.0h0M63.6 187.9h0M57.8 189.6h0M57.6 190.0h0M54.8 191.1h0M54.2 190.4h0M49.4 186.5h0M49.8 187.8h0M47.2 185.8h0M48.7 186.0h0M47.3 181.8h0M46.3 178.3h0M46.8 172.8h0M47.3 175.3h0M47.8 168.6h0M48.0 169.1h0" stroke="#c6c416" stroke-width="0.9" stroke-linecap="round" fill="none"/>
<path d="M50.3 186.9h0M48.0 190.4h0M43.0 186.2h0" stroke="#dda248" stroke-width="1" stroke-linecap="round" fill="none"/>
<path d="M51.2 190.7h0M43.5 186.5h0" stroke="#f0af4e" stroke-width="1" stroke-linecap="round" fill="none"/>
<path d="M51.1 188.7h0" stroke="#f9d092" stroke-width="1" stroke-linecap="round" fill="none"/>
<path d="M51.3 190.7h0M53.1 190.9h0" stroke="#eaab4c" stroke-width="1" stroke-linecap="round" fill="none"/>
<path d="M43.3 188.2h0M52.6 190.3h0M54.0 191.9h0" stroke="#d99f46" stroke-width="1" stroke-linecap="round" fill="none"/>
<path d="M52.4 188.0h0M50.1 188.5h0M51.5 187.3h0" stroke="#ebac4c" stroke-width="1" stroke-linecap="round" fill="none"/>
<path d="M53.2 188.5h0M53.2 190.7h0M45.2 186.5h0M42.9 189.4h0M53.8 191.9h0" stroke="#e7a94b" stroke-width="1" stroke-linecap="round" fill="none"/>
<path d="M48.3 191.1h0M42.9 186.5h0" stroke="#e1a549" stroke-width="1" stroke-linecap="round" fill="none"/>
<path d="M40.4 186.2h0M49.8 191.1h0" stroke="#f0b04e" stroke-width="1" stroke-linecap="round" fill="none"/>
<path d="M47.7 191.3h0M49.9 187.8h0M40.0 186.7h0M51.5 190.1h0" stroke="#e9aa4b" stroke-width="1" stroke-linecap="round" fill="none"/>
<path d="M44.3 188.6h0M50.7 192.9h0M47.4 185.0h0" stroke="#dfa348" stroke-width="1" stroke-linecap="round" fill="none"/>
<path d="M44.7 188.6h0M46.1 188.1h0M50.2 189.3h0" stroke="#f9d297" stroke-width="1" stroke-linecap="round" fill="none"/>
<path d="M53.4 191.8h0M45.0 187.1h0" stroke="#fbe0b6" stroke-width="1" stroke-linecap="round" fill="none"/>
<path d="M40.9 189.9h0M53.9 193.8h0" stroke="#e8aa4b" stroke-width="1" stroke-linecap="round" fill="none"/>
<path d="M46.2 190.8h0" stroke="#dea348" stroke-width="1" stroke-linecap="round" fill="none"/>
<path d="M41.3 189.3h0" stroke="#f9d298" stroke-width="1" stroke-linecap="round" fill="none"/>
<path d="M51.3 194.5h0" stroke="#f9d49c" stroke-width="1" stroke-linecap="round" fill="none"/>
<path d="M41.1 188.1h0M49.9 192.6h0M52.8 195.3h0" stroke="#d99e46" stroke-width="1" stroke-linecap="round" fill="none"/>
<path d="M47.8 191.7h0M47.1 187.1h0" stroke="#f1b04e" stroke-width="1" stroke-linecap="round" fill="none"/>
<path d="M48.2 191.0h0" stroke="#fad9a8" stroke-width="1" stroke-linecap="round" fill="none"/>
<path d="M41.5 187.3h0M47.4 185.5h0" stroke="#e9ab4c" stroke-width="1" stroke-linecap="round" fill="none"/>
<path d="M52.5 195.7h0M44.1 188.2h0" stroke="#e4a74a" stroke-width="1" stroke-linecap="round" fill="none"/>
<path d="M42.8 185.3h0M50.2 192.2h0" stroke="#eeae4d" stroke-width="1" stroke-linecap="round" fill="none"/>
<path d="M45.2 190.1h0M39.8 186.7h0" stroke="#e8a94b" stroke-width="1" stroke-linecap="round" fill="none"/>
<path d="M51.2 188.6h0" stroke="#e3a64a" stroke-width="1" stroke-linecap="round" fill="none"/>
<path d="M50.4 193.6h0M51.8 194.3h0M46.7 190.2h0M49.7 188.4h0" stroke="#f2b14e" stroke-width="1" stroke-linecap="round" fill="none"/>
<path d="M44.7 185.8h0" stroke="#fad7a3" stroke-width="1" stroke-linecap="round" fill="none"/>
<path d="M49.8 187.4h0" stroke="#fbddb1" stroke-width="1" stroke-linecap="round" fill="none"/>
<path d="M53.2 191.5h0" stroke="#ecad4c" stroke-width="1" stroke-linecap="round" fill="none"/>
<path d="M48.8 190.9h0" stroke="#e2a649" stroke-width="1" stroke-linecap="round" fill="none"/>
<path d="M42.6 186.7h0" stroke="#da9f46" stroke-width="1" stroke-linecap="round" fill="none"/>
<path d="M49.7 191.9h0M50.4 187.9h0" stroke="#e5a84a" stroke-width="1" stroke-linecap="round" fill="none"/>
<path d="M48.1 189.1h0" stroke="#fbdfb4" stroke-width="1" stroke-linecap="round" fill="none"/>
<path d="M49.1 190.0h0" stroke="#f8cc88" stroke-width="1" stroke-linecap="round" fill="none"/>
<path d="M48.0 191.7h0" stroke="#dba047" stroke-width="1" stroke-linecap="round" fill="none"/>
<path d="M52.4 189.6h0M43.3 186.8h0" stroke="#e6a84b" stroke-width="1" stroke-linecap="round" fill="none"/>
<path d="M51.4 192.3h0M47.4 187.5h0" stroke="#f9ce8d" stroke-width="1" stroke-linecap="round" fill="none"/>
<path d="M49.9 191.4h0" stroke="#faddb0" stroke-width="1" stroke-linecap="round" fill="none"/>
<path d="M52.4 193.6h0" stroke="#fbdeb3" stroke-width="1" stroke-linecap="round" fill="none"/>
<path d="M43.2 186.5h0M43.8 187.0h0" stroke="#daa047" stroke-width="1" stroke-linecap="round" fill="none"/>
<path d="M48.0 188.8h0" stroke="#fadaaa" stroke-width="1" stroke-linecap="round" fill="none"/>
<path d="M52.0 191.5h0" stroke="#f3b14f" stroke-width="1" stroke-linecap="round" fill="none"/>
<path d="M45.0 185.5h0" stroke="#edad4d" stroke-width="1" stroke-linecap="round" fill="none"/>
<path d="M49.4 188.7h0M46.8 190.2h0" stroke="#f9d091" stroke-width="1" stroke-linecap="round" fill="none"/>
<path d="M39.7 187.6h0" stroke="#fad7a2" stroke-width="1" stroke-linecap="round" fill="none"/>
<path d="M46.4 185.2h0" stroke="#e3a649" stroke-width="1" stroke-linecap="round" fill="none"/>
<path d="M39.1 187.8h0" stroke="#f9d49a" stroke-width="1" stroke-linecap="round" fill="none"/>
<path d="M43.2 188.6h0" stroke="#efaf4e" stroke-width="1" stroke-linecap="round" fill="none"/>
<path d="M40.8 189.4h0M51.8 189.1h0" stroke="#f4b24f" stroke-width="1" stroke-linecap="round" fill="none"/>
<path d="M51.8 189.6h0M52.8 193.6h0" stroke="#efaf4d" stroke-width="1" stroke-linecap="round" fill="none"/>
<path d="M51.4 190.0h0" stroke="#fad8a4" stroke-width="1" stroke-linecap="round" fill="none"/>
<path d="M41.8 187.9h0" stroke="#e6a84a" stroke-width="1" stroke-linecap="round" fill="none"/>
<path d="M41.6 187.6h0" stroke="#e1a449" stroke-width="1" stroke-linecap="round" fill="none"/>
<path d="M49.7 193.1h0" stroke="#fad59e" stroke-width="1" stroke-linecap="round" fill="none"/>
<path d="M54.3 191.7h0" stroke="#f9cd8b" stroke-width="1" stroke-linecap="round" fill="none"/>
<path d="M43.5 188.3h0" stroke="#ecac4c" stroke-width="1" stroke-linecap="round" fill="none"/>
<path d="M38.6 187.6h0" stroke="#f5b34f" stroke-width="1" stroke-linecap="round" fill="none"/>
<path d="M50.7 187.9h0" stroke="#fbe0b8" stroke-width="1" stroke-linecap="round" fill="none"/>
<path d="M47.4 186.0h0" stroke="#f8cb86" stroke-width="1" stroke-linecap="round" fill="none"/>
<path d="M52.6 195.7h0" stroke="#f9d59d" stroke-width="1" stroke-linecap="round" fill="none"/>
<path d="M51.5 193.7h0" stroke="#e0a448" stroke-width="1" stroke-linecap="round" fill="none"/>
<path d="M49.6 189.9h0" stroke="#f9d39a" stroke-width="1" stroke-linecap="round" fill="none"/>
<path d="M53.8 191.9h0" stroke="#f9cf8f" stroke-width="1" stroke-linecap="round" fill="none"/>
<path d="M44.5 187.9h0M42.1 189.0h0" stroke="#edad4d" stroke-width="1" stroke-linecap="round" fill="none"/>
<path d="M50.0 193.1h0" stroke="#e4a64a" stroke-width="1" stroke-linecap="round" fill="none"/>
<path d="M45.9 185.7h0" stroke="#f9d49b" stroke-width="1" stroke-linecap="round" fill="none"/>
<path d="M52.9 188.9h0" stroke="#fad6a0" stroke-width="1" stroke-linecap="round" fill="none"/>
<path d="M41.7 185.5h0M48.0 190.3h0M50.4 186.4h0" stroke="#dca147" stroke-width="1" stroke-linecap="round" fill="none"/>
<path d="M46.7 188.4h0M42.1 186.9h0M49.6 194.0h0" stroke="#f2b14e" stroke-width="1" stroke-linecap="round" fill="none"/>
<path d="M53.7 191.9h0M43.1 187.2h0" stroke="#e2a549" stroke-width="1" stroke-linecap="round" fill="none"/>
<path d="M44.9 186.3h0" stroke="#fbdfb6" stroke-width="1" stroke-linecap="round" fill="none"/>
<path d="M46.2 189.3h0M48.2 186.4h0M51.8 195.6h0M49.3 210.4h0M48.9 206.9h0M55.5 204.0h0M50.9 210.2h0M55.9 205.6h0M51.0 212.3h0M50.6 200.3h0M48.2 213.9h0M49.7 211.3h0M48.6 208.4h0M49.3 209.5h0M54.4 210.2h0M49.0 206.4h0M54.6 207.2h0M55.0 209.0h0M50.3 202.7h0M56.6 210.1h0M50.0 204.8h0M54.5 210.2h0M51.4 203.6h0M48.9 208.4h0" stroke="#ffffff" stroke-width="1" stroke-linecap="round" fill="none"/>
<path d="M42.9 188.4h0M45.4 184.9h0" stroke="#fadaa9" stroke-width="1" stroke-linecap="round" fill="none"/>
<path d="M44.9 188.0h0M47.6 189.3h0" stroke="#e7a94b" stroke-width="1" stroke-linecap="round" fill="none"/>
<path d="M39.3 188.2h0M49.3 189.2h0" stroke="#dfa348" stroke-width="1" stroke-linecap="round" fill="none"/>
<path d="M48.1 187.2h0" stroke="#dda147" stroke-width="1" stroke-linecap="round" fill="none"/>
<path d="M50.7 191.4h0" stroke="#efae4d" stroke-width="1" stroke-linecap="round" fill="none"/>
<path d="M52.5 194.4h0M54.4 193.6h0" stroke="#f4b34f" stroke-width="1" stroke-linecap="round" fill="none"/>
<path d="M48.5 191.9h0" stroke="#eaab4c" stroke-width="1" stroke-linecap="round" fill="none"/>
<path d="M43.4 185.6h0" stroke="#e9aa4b" stroke-width="1" stroke-linecap="round" fill="none"/>
<path d="M48.3 192.2h0" stroke="#f9ce8e" stroke-width="1" stroke-linecap="round" fill="none"/>
<path d="M39.2 188.8h0" stroke="#f9d195" stroke-width="1" stroke-linecap="round" fill="none"/>
<path d="M53.1 190.0h0" stroke="#fad59e" stroke-width="1" stroke-linecap="round" fill="none"/>
<path d="M51.2 186.6h0" stroke="#d99e46" stroke-width="1" stroke-linecap="round" fill="none"/>
<path d="M44.2 187.7h0" stroke="#f9d193" stroke-width="1" stroke-linecap="round" fill="none"/>
<path d="M42.5 187.2h0M52.4 190.7h0" stroke="#f5b34f" stroke-width="1" stroke-linecap="round" fill="none"/>
<path d="M48.9 193.2h0M52.0 194.5h0" stroke="#e4a74a" stroke-width="1" stroke-linecap="round" fill="none"/>
<path d="M39.6 188.5h0" stroke="#fbe0b8" stroke-width="1" stroke-linecap="round" fill="none"/>
<path d="M45.6 187.1h0" stroke="#f8ca85" stroke-width="1" stroke-linecap="round" fill="none"/>
<path d="M53.3 194.4h0" stroke="#f9cf91" stroke-width="1" stroke-linecap="round" fill="none"/>
<path d="M53.5 195.0h0" stroke="#e0a448" stroke-width="1" stroke-linecap="round" fill="none"/>
<path d="M54.1 193.4h0" stroke="#fbdeb2" stroke-width="1" stroke-linecap="round" fill="none"/>
<path d="M51.0 192.7h0" stroke="#f9cf90" stroke-width="1" stroke-linecap="round" fill="none"/>
<path d="M53.4 191.2h0" stroke="#e6a84a" stroke-width="1" stroke-linecap="round" fill="none"/>
<path d="M52.4 192.8h0" stroke="#ecad4d" stroke-width="1" stroke-linecap="round" fill="none"/>
<path d="M50.4 187.1h0" stroke="#e3a649" stroke-width="1" stroke-linecap="round" fill="none"/>
<path d="M42.7 187.0h0" stroke="#e5a74a" stroke-width="1" stroke-linecap="round" fill="none"/>
<path d="M39.4 187.9h0M44.0 189.0h0" stroke="#fad7a2" stroke-width="1" stroke-linecap="round" fill="none"/>
<path d="M50.1 194.1h0" stroke="#f9d194" stroke-width="1" stroke-linecap="round" fill="none"/>
<path d="M52.1 194.2h0" stroke="#fadbac" stroke-width="1" stroke-linecap="round" fill="none"/>
<path d="M45.1 189.3h0" stroke="#dba047" stroke-width="1" stroke-linecap="round" fill="none"/>
<path d="M45.5 189.5h0" stroke="#e8a94b" stroke-width="1" stroke-linecap="round" fill="none"/>
<path d="M38.6 187.6h0M39.8 186.3h0M40.8 185.8h0M41.4 185.5h0M46.7 186.0h0M44.8 184.5h0M51.0 186.4h0M48.6 185.7h0M53.1 188.2h0M53.8 187.9h0M55.0 189.6h0M54.1 190.4h0M52.8 196.7h0M55.7 193.9h0M51.1 196.4h0M51.5 195.8h0M48.2 192.3h0M49.0 193.9h0M43.3 190.7h0M43.7 190.8h0M40.3 189.8h0M40.9 189.7h0M38.6 189.2h0M40.6 189.0h0" stroke="#f6b450" stroke-width="0.9" stroke-linecap="round" fill="none"/>
<path d="M50.6 214.1h0M49.9 208.9h0M53.3 202.1h0" stroke="#dd7f78" stroke-width="1" stroke-linecap="round" fill="none"/>
<path d="M48.1 213.2h0M53.1 199.9h0M54.5 204.6h0M53.5 198.9h0M50.5 209.6h0" stroke="#db7e77" stroke-width="1" stroke-linecap="round" fill="none"/>
<path d="M56.9 206.6h0M48.6 212.2h0M52.3 206.0h0" stroke="#d77c75" stroke-width="1" stroke-linecap="round" fill="none"/>
<path d="M57.3 210.2h0M54.5 203.0h0" stroke="#f8cdca" stroke-width="1" stroke-linecap="round" fill="none"/>
<path d="M55.8 207.1h0M55.0 209.6h0M52.3 210.6h0M47.5 208.3h0" stroke="#e9867e" stroke-width="1" stroke-linecap="round" fill="none"/>
<path d="M51.2 214.3h0M50.3 199.4h0" stroke="#f4b4af" stroke-width="1" stroke-linecap="round" fill="none"/>
<path d="M51.6 199.2h0M53.2 214.0h0M53.4 209.5h0M52.8 198.5h0M50.8 215.0h0" stroke="#d57b74" stroke-width="1" stroke-linecap="round" fill="none"/>
<path d="M56.6 212.2h0M50.7 214.6h0" stroke="#ed8981" stroke-width="1" stroke-linecap="round" fill="none"/>
<path d="M52.1 198.7h0M55.0 207.4h0M50.0 200.8h0M50.7 211.5h0" stroke="#e0817a" stroke-width="1" stroke-linecap="round" fill="none"/>
<path d="M54.6 205.3h0M51.3 213.3h0M56.7 211.0h0" stroke="#d67b74" stroke-width="1" stroke-linecap="round" fill="none"/>
<path d="M52.4 200.5h0M50.1 202.3h0" stroke="#f3ada8" stroke-width="1" stroke-linecap="round" fill="none"/>
<path d="M48.6 212.6h0M51.7 213.9h0M53.7 197.5h0M53.0 204.1h0" stroke="#d47a73" stroke-width="1" stroke-linecap="round" fill="none"/>
<path d="M53.9 210.7h0" stroke="#f6c4c0" stroke-width="1" stroke-linecap="round" fill="none"/>
<path d="M51.3 197.9h0M56.6 212.6h0M49.6 209.2h0" stroke="#f4b3ae" stroke-width="1" stroke-linecap="round" fill="none"/>
<path d="M47.9 212.3h0M53.0 201.5h0" stroke="#df8179" stroke-width="1" stroke-linecap="round" fill="none"/>
<path d="M51.0 201.0h0M52.2 212.4h0" stroke="#f4b2ad" stroke-width="1" stroke-linecap="round" fill="none"/>
<path d="M54.0 203.2h0M49.8 204.5h0M57.8 207.2h0" stroke="#f5b7b2" stroke-width="1" stroke-linecap="round" fill="none"/>
<path d="M54.8 210.2h0M51.5 207.1h0" stroke="#d37a73" stroke-width="1" stroke-linecap="round" fill="none"/>
<path d="M52.9 201.7h0M52.7 205.9h0" stroke="#f4b5b0" stroke-width="1" stroke-linecap="round" fill="none"/>
<path d="M56.4 206.6h0" stroke="#f4afa9" stroke-width="1" stroke-linecap="round" fill="none"/>
<path d="M54.5 203.6h0M47.0 210.7h0" stroke="#e7857e" stroke-width="1" stroke-linecap="round" fill="none"/>
<path d="M56.8 210.2h0M50.9 203.3h0M49.4 212.4h0M47.3 207.8h0" stroke="#f7c9c5" stroke-width="1" stroke-linecap="round" fill="none"/>
<path d="M55.2 205.4h0M49.8 213.4h0M48.9 209.2h0M53.6 199.9h0M48.9 205.4h0M51.0 209.8h0" stroke="#de8079" stroke-width="1" stroke-linecap="round" fill="none"/>
<path d="M54.7 213.0h0M50.2 199.3h0M49.0 208.6h0M55.2 213.4h0M47.3 211.5h0" stroke="#d97d76" stroke-width="1" stroke-linecap="round" fill="none"/>
<path d="M51.6 210.6h0M50.6 202.7h0M49.4 209.9h0" stroke="#d37972" stroke-width="1" stroke-linecap="round" fill="none"/>
<path d="M55.0 206.0h0M47.5 209.7h0" stroke="#f7c7c3" stroke-width="1" stroke-linecap="round" fill="none"/>
<path d="M48.2 206.4h0" stroke="#f5b6b1" stroke-width="1" stroke-linecap="round" fill="none"/>
<path d="M51.8 213.5h0M49.5 208.2h0M51.0 214.0h0M48.7 213.1h0" stroke="#ec8880" stroke-width="1" stroke-linecap="round" fill="none"/>
<path d="M48.5 212.6h0M52.8 210.3h0M50.4 208.5h0M54.9 211.7h0M48.3 210.9h0M48.2 209.2h0M49.4 211.8h0M52.2 205.4h0" stroke="#d27972" stroke-width="1" stroke-linecap="round" fill="none"/>
<path d="M51.6 214.0h0M51.0 208.5h0" stroke="#f5b8b3" stroke-width="1" stroke-linecap="round" fill="none"/>
<path d="M54.2 200.6h0M48.6 204.3h0M50.1 209.1h0M49.1 211.4h0" stroke="#dc7f77" stroke-width="1" stroke-linecap="round" fill="none"/>
<path d="M53.3 205.3h0" stroke="#f5bab6" stroke-width="1" stroke-linecap="round" fill="none"/>
<path d="M50.2 199.9h0M48.9 210.7h0M52.9 199.7h0M53.1 197.2h0" stroke="#df8079" stroke-width="1" stroke-linecap="round" fill="none"/>
<path d="M48.9 214.4h0M52.3 214.4h0M57.9 210.2h0M48.7 208.6h0M51.6 212.4h0" stroke="#e3837b" stroke-width="1" stroke-linecap="round" fill="none"/>
<path d="M50.7 203.4h0M50.0 214.2h0M52.1 199.6h0M53.5 208.9h0M53.3 197.6h0" stroke="#ee8981" stroke-width="1" stroke-linecap="round" fill="none"/>
<path d="M55.5 203.2h0" stroke="#f6c3bf" stroke-width="1" stroke-linecap="round" fill="none"/>
<path d="M47.2 209.0h0M57.8 208.4h0" stroke="#f6bfba" stroke-width="1" stroke-linecap="round" fill="none"/>
<path d="M52.0 197.2h0M56.7 208.6h0M50.6 202.5h0" stroke="#f8cfcc" stroke-width="1" stroke-linecap="round" fill="none"/>
<path d="M55.9 211.2h0" stroke="#f5bbb7" stroke-width="1" stroke-linecap="round" fill="none"/>
<path d="M49.3 203.5h0M49.3 211.4h0" stroke="#f5bcb7" stroke-width="1" stroke-linecap="round" fill="none"/>
<path d="M53.1 198.9h0" stroke="#e08179" stroke-width="1" stroke-linecap="round" fill="none"/>
<path d="M50.5 201.9h0" stroke="#f6c0bc" stroke-width="1" stroke-linecap="round" fill="none"/>
<path d="M55.5 204.6h0" stroke="#e1827a" stroke-width="1" stroke-linecap="round" fill="none"/>
<path d="M55.9 210.3h0M52.6 203.4h0" stroke="#ea877f" stroke-width="1" stroke-linecap="round" fill="none"/>
<path d="M55.5 211.8h0M56.4 209.3h0" stroke="#f3ada7" stroke-width="1" stroke-linecap="round" fill="none"/>
<path d="M52.3 214.7h0" stroke="#db7f77" stroke-width="1" stroke-linecap="round" fill="none"/>
<path d="M52.0 214.7h0" stroke="#da7d76" stroke-width="1" stroke-linecap="round" fill="none"/>
<path d="M50.5 206.3h0" stroke="#d87c75" stroke-width="1" stroke-linecap="round" fill="none"/>
<path d="M53.4 206.9h0M48.1 207.5h0" stroke="#f6bdb9" stroke-width="1" stroke-linecap="round" fill="none"/>
<path d="M48.9 209.9h0" stroke="#ed8880" stroke-width="1" stroke-linecap="round" fill="none"/>
<path d="M53.5 197.9h0M55.0 203.4h0M49.9 205.7h0M50.3 201.5h0M55.7 213.1h0" stroke="#da7e76" stroke-width="1" stroke-linecap="round" fill="none"/>
<path d="M51.1 204.3h0" stroke="#dd8078" stroke-width="1" stroke-linecap="round" fill="none"/>
<path d="M49.5 205.0h0M47.1 209.5h0" stroke="#e2827b" stroke-width="1" stroke-linecap="round" fill="none"/>
<path d="M51.1 205.7h0M54.1 199.3h0M56.2 208.4h0M55.8 208.4h0M47.3 211.0h0" stroke="#e5847c" stroke-width="1" stroke-linecap="round" fill="none"/>
<path d="M53.1 206.4h0" stroke="#d77c74" stroke-width="1" stroke-linecap="round" fill="none"/>
<path d="M47.3 212.2h0M52.7 196.9h0" stroke="#f4b0aa" stroke-width="1" stroke-linecap="round" fill="none"/>
<path d="M52.8 197.5h0M54.2 201.3h0" stroke="#f7cbc8" stroke-width="1" stroke-linecap="round" fill="none"/>
<path d="M50.3 199.2h0" stroke="#f6beb9" stroke-width="1" stroke-linecap="round" fill="none"/>
<path d="M52.5 211.4h0M50.1 206.9h0" stroke="#f4b1ac" stroke-width="1" stroke-linecap="round" fill="none"/>
<path d="M48.9 206.0h0" stroke="#eb8780" stroke-width="1" stroke-linecap="round" fill="none"/>
<path d="M54.3 210.0h0" stroke="#de8078" stroke-width="1" stroke-linecap="round" fill="none"/>
<path d="M48.9 203.3h0" stroke="#f7c8c4" stroke-width="1" stroke-linecap="round" fill="none"/>
<path d="M55.5 208.9h0" stroke="#f7c5c1" stroke-width="1" stroke-linecap="round" fill="none"/>
<path d="M50.2 202.4h0M51.8 199.5h0" stroke="#f6c2be" stroke-width="1" stroke-linecap="round" fill="none"/>
<path d="M47.6 212.8h0M52.0 196.8h0" stroke="#d87d75" stroke-width="1" stroke-linecap="round" fill="none"/>
<path d="M50.6 200.3h0" stroke="#f6bfbb" stroke-width="1" stroke-linecap="round" fill="none"/>
<path d="M49.3 205.9h0M54.3 212.8h0M56.7 205.5h0" stroke="#f5bab5" stroke-width="1" stroke-linecap="round" fill="none"/>
<path d="M53.4 205.9h0M51.0 200.7h0" stroke="#f4b0ab" stroke-width="1" stroke-linecap="round" fill="none"/>
<path d="M55.8 207.1h0" stroke="#e8867e" stroke-width="1" stroke-linecap="round" fill="none"/>
<path d="M50.0 211.2h0" stroke="#e1817a" stroke-width="1" stroke-linecap="round" fill="none"/>
<path d="M57.0 205.2h0" stroke="#f4b3ad" stroke-width="1" stroke-linecap="round" fill="none"/>
<path d="M50.0 199.5h0" stroke="#f7c6c2" stroke-width="1" stroke-linecap="round" fill="none"/>
<path d="M48.7 204.3h0" stroke="#da7e77" stroke-width="1" stroke-linecap="round" fill="none"/>
<path d="M53.4 197.7h0" stroke="#f5b6b2" stroke-width="1" stroke-linecap="round" fill="none"/>
<path d="M51.2 211.6h0" stroke="#d67c74" stroke-width="1" stroke-linecap="round" fill="none"/>
<path d="M53.2 208.4h0" stroke="#f8cbc8" stroke-width="1" stroke-linecap="round" fill="none"/>
<path d="M55.9 208.8h0" stroke="#d57b73" stroke-width="1" stroke-linecap="round" fill="none"/>
<path d="M50.9 201.5h0" stroke="#f5b9b4" stroke-width="1" stroke-linecap="round" fill="none"/>
<path d="M50.5 211.4h0" stroke="#f5bbb6" stroke-width="1" stroke-linecap="round" fill="none"/>
<path d="M52.2 207.0h0" stroke="#f7c6c3" stroke-width="1" stroke-linecap="round" fill="none"/>
<path d="M56.7 212.5h0" stroke="#f4b1ab" stroke-width="1" stroke-linecap="round" fill="none"/>
<path d="M53.2 201.3h0" stroke="#d57b74" stroke-width="1" stroke-linecap="round" fill="none"/>
<path d="M52.0 205.0h0" stroke="#ee8981" stroke-width="1" stroke-linecap="round" fill="none"/>
<path d="M52.5 205.1h0" stroke="#f6c1bd" stroke-width="1" stroke-linecap="round" fill="none"/>
<path d="M55.1 207.3h0" stroke="#d67c74" stroke-width="1" stroke-linecap="round" fill="none"/>
<path d="M50.3 201.6h0M115.7 167.0h0M121.4 164.5h0M124.7 193.7h0M117.1 182.0h0M121.2 190.3h0M115.9 189.9h0M116.3 190.7h0M116.8 183.0h0M116.1 189.9h0" stroke="#ffffff" stroke-width="1" stroke-linecap="round" fill="none"/>
<path d="M52.5 204.4h0M53.8 200.1h0" stroke="#ec8880" stroke-width="1" stroke-linecap="round" fill="none"/>
<path d="M54.0 205.9h0" stroke="#d87d75" stroke-width="1" stroke-linecap="round" fill="none"/>
<path d="M50.1 211.8h0" stroke="#d87c75" stroke-width="1" stroke-linecap="round" fill="none"/>
<path d="M49.9 202.2h0" stroke="#e6857d" stroke-width="1" stroke-linecap="round" fill="none"/>
<path d="M55.4 205.8h0" stroke="#df8179" stroke-width="1" stroke-linecap="round" fill="none"/>
<path d="M49.9 203.1h0" stroke="#dd8078" stroke-width="1" stroke-linecap="round" fill="none"/>
<path d="M52.8 202.3h0M53.2 204.6h0" stroke="#f5bab5" stroke-width="1" stroke-linecap="round" fill="none"/>
<path d="M51.4 198.5h0" stroke="#dc7f77" stroke-width="1" stroke-linecap="round" fill="none"/>
<path d="M52.4 206.5h0M49.0 212.4h0" stroke="#d47a73" stroke-width="1" stroke-linecap="round" fill="none"/>
<path d="M50.3 212.7h0" stroke="#eb8880" stroke-width="1" stroke-linecap="round" fill="none"/>
<path d="M47.5 212.0h0" stroke="#e0817a" stroke-width="1" stroke-linecap="round" fill="none"/>
<path d="M55.0 206.8h0" stroke="#f3ada7" stroke-width="1" stroke-linecap="round" fill="none"/>
<path d="M52.0 211.8h0" stroke="#d37972" stroke-width="1" stroke-linecap="round" fill="none"/>
<path d="M52.4 214.6h0" stroke="#f6c2be" stroke-width="1" stroke-linecap="round" fill="none"/>
<path d="M51.5 203.4h0" stroke="#db7e77" stroke-width="1" stroke-linecap="round" fill="none"/>
<path d="M50.5 209.1h0" stroke="#e4837c" stroke-width="1" stroke-linecap="round" fill="none"/>
<path d="M50.8 197.3h0M53.9 196.0h0M53.9 197.0h0M54.0 199.2h0M55.9 203.3h0M55.7 203.9h0M58.4 206.2h0M58.3 206.6h0M56.9 212.1h0M59.4 211.0h0M56.1 213.4h0M56.3 212.9h0M52.7 214.7h0M52.0 214.6h0M50.0 215.2h0M48.9 214.8h0M48.9 212.6h0M48.2 211.9h0M46.5 208.4h0M47.2 207.1h0M49.5 202.4h0M49.1 202.8h0M51.5 198.9h0M49.9 198.8h0" stroke="#ef8a82" stroke-width="0.9" stroke-linecap="round" fill="none"/>
<path d="M120.2 163.8h0" stroke="#d5d6ef" stroke-width="1" stroke-linecap="round" fill="none"/>
<path d="M110.6 165.3h0" stroke="#c2c4e9" stroke-width="1" stroke-linecap="round" fill="none"/>
<path d="M119.4 164.3h0" stroke="#cbcdec" stroke-width="1" stroke-linecap="round" fill="none"/>
<path d="M120.5 163.6h0M118.3 169.9h0" stroke="#989ace" stroke-width="1" stroke-linecap="round" fill="none"/>
<path d="M115.9 164.6h0" stroke="#bfc0e7" stroke-width="1" stroke-linecap="round" fill="none"/>
<path d="M117.0 164.3h0" stroke="#9b9dd2" stroke-width="1" stroke-linecap="round" fill="none"/>
<path d="M116.7 164.4h0" stroke="#9294c6" stroke-width="1" stroke-linecap="round" fill="none"/>
<path d="M119.9 165.9h0" stroke="#9597ca" stroke-width="1" stroke-linecap="round" fill="none"/>
<path d="M116.3 167.6h0" stroke="#c5c6e9" stroke-width="1" stroke-linecap="round" fill="none"/>
<path d="M112.9 163.8h0M117.5 162.7h0M121.0 163.7h0" stroke="#9092c3" stroke-width="1" stroke-linecap="round" fill="none"/>
<path d="M114.9 168.4h0M116.5 168.5h0M117.4 163.5h0" stroke="#9fa1d7" stroke-width="1" stroke-linecap="round" fill="none"/>
<path d="M119.1 166.0h0" stroke="#9ea0d6" stroke-width="1" stroke-linecap="round" fill="none"/>
<path d="M117.5 164.4h0" stroke="#c6c8ea" stroke-width="1" stroke-linecap="round" fill="none"/>
<path d="M121.9 167.5h0" stroke="#9c9ed3" stroke-width="1" stroke-linecap="round" fill="none"/>
<path d="M120.0 165.3h0M117.1 168.1h0M119.8 168.4h0" stroke="#a2a4db" stroke-width="1" stroke-linecap="round" fill="none"/>
<path d="M113.7 166.5h0" stroke="#c0c1e8" stroke-width="1" stroke-linecap="round" fill="none"/>
<path d="M118.2 167.9h0" stroke="#d9daf1" stroke-width="1" stroke-linecap="round" fill="none"/>
<path d="M118.5 168.1h0" stroke="#c8c9eb" stroke-width="1" stroke-linecap="round" fill="none"/>
<path d="M116.7 164.6h0" stroke="#9092c4" stroke-width="1" stroke-linecap="round" fill="none"/>
<path d="M122.3 166.1h0" stroke="#a3a5dc" stroke-width="1" stroke-linecap="round" fill="none"/>
<path d="M119.5 167.3h0" stroke="#9496c8" stroke-width="1" stroke-linecap="round" fill="none"/>
<path d="M120.6 167.0h0" stroke="#d1d2ee" stroke-width="1" stroke-linecap="round" fill="none"/>
<path d="M115.7 166.6h0" stroke="#9a9cd1" stroke-width="1" stroke-linecap="round" fill="none"/>
<path d="M114.0 165.9h0" stroke="#a0a2d9" stroke-width="1" stroke-linecap="round" fill="none"/>
<path d="M117.5 164.8h0" stroke="#d0d1ee" stroke-width="1" stroke-linecap="round" fill="none"/>
<path d="M120.9 163.2h0" stroke="#9ea0d7" stroke-width="1" stroke-linecap="round" fill="none"/>
<path d="M121.0 169.3h0" stroke="#cdceed" stroke-width="1" stroke-linecap="round" fill="none"/>
<path d="M119.8 164.0h0" stroke="#d8d9f1" stroke-width="1" stroke-linecap="round" fill="none"/>
<path d="M115.4 163.0h0" stroke="#d7d8f0" stroke-width="1" stroke-linecap="round" fill="none"/>
<path d="M118.3 168.0h0" stroke="#999bd0" stroke-width="1" stroke-linecap="round" fill="none"/>
<path d="M119.4 163.9h0" stroke="#9192c4" stroke-width="1" stroke-linecap="round" fill="none"/>
<path d="M120.8 165.8h0" stroke="#c9caeb" stroke-width="1" stroke-linecap="round" fill="none"/>
<path d="M110.5 163.2h0M110.0 162.8h0M112.7 162.7h0M113.7 162.9h0M117.0 162.9h0M114.2 162.6h0M119.3 163.1h0M119.7 163.0h0M123.1 165.9h0M122.0 165.4h0M122.2 167.1h0M123.1 166.3h0M120.0 169.5h0M121.7 168.6h0M117.9 169.9h0M117.4 169.1h0M115.3 169.4h0M114.2 169.4h0M111.7 166.9h0M112.3 167.7h0M110.0 165.8h0M110.9 166.1h0M109.7 165.0h0M109.1 164.0h0" stroke="#a4a6de" stroke-width="0.9" stroke-linecap="round" fill="none"/>
<path d="M115.1 189.2h0M123.8 193.2h0M115.8 188.8h0" stroke="#f1bfde" stroke-width="1" stroke-linecap="round" fill="none"/>
<path d="M115.6 189.5h0M122.6 191.3h0M119.2 194.7h0" stroke="#f1bddd" stroke-width="1" stroke-linecap="round" fill="none"/>
<path d="M117.6 190.1h0M123.8 194.2h0" stroke="#f2c2df" stroke-width="1" stroke-linecap="round" fill="none"/>
<path d="M118.2 191.3h0M118.7 192.7h0" stroke="#f2c2e0" stroke-width="1" stroke-linecap="round" fill="none"/>
<path d="M117.2 191.3h0M115.9 185.7h0" stroke="#e68fc5" stroke-width="1" stroke-linecap="round" fill="none"/>
<path d="M122.4 195.3h0M117.3 182.0h0M123.9 195.8h0" stroke="#e78fc5" stroke-width="1" stroke-linecap="round" fill="none"/>
<path d="M114.3 185.7h0M116.4 181.3h0" stroke="#cd7faf" stroke-width="1" stroke-linecap="round" fill="none"/>
<path d="M119.8 194.1h0M115.5 191.0h0M114.8 187.9h0M117.9 185.8h0" stroke="#db88bb" stroke-width="1" stroke-linecap="round" fill="none"/>
<path d="M119.4 191.0h0M121.3 190.5h0" stroke="#d282b4" stroke-width="1" stroke-linecap="round" fill="none"/>
<path d="M116.0 183.1h0M119.8 193.1h0M121.8 192.3h0M115.2 187.1h0" stroke="#f2c1df" stroke-width="1" stroke-linecap="round" fill="none"/>
<path d="M116.2 186.1h0" stroke="#f2c0de" stroke-width="1" stroke-linecap="round" fill="none"/>
<path d="M121.8 191.7h0M117.4 182.6h0M116.3 183.6h0" stroke="#efb5d9" stroke-width="1" stroke-linecap="round" fill="none"/>
<path d="M117.2 184.0h0M115.3 184.4h0M118.5 186.9h0M121.2 192.5h0" stroke="#f2c3e0" stroke-width="1" stroke-linecap="round" fill="none"/>
<path d="M116.4 184.8h0M117.6 181.3h0" stroke="#f2c4e0" stroke-width="1" stroke-linecap="round" fill="none"/>
<path d="M123.2 192.6h0M113.6 185.9h0M117.8 189.4h0M117.4 190.5h0M124.6 193.8h0M115.8 184.5h0" stroke="#f3c9e3" stroke-width="1" stroke-linecap="round" fill="none"/>
<path d="M118.9 191.6h0M115.2 184.3h0" stroke="#f4cae4" stroke-width="1" stroke-linecap="round" fill="none"/>
<path d="M119.3 189.8h0M121.5 193.3h0M115.6 187.8h0" stroke="#ce80b0" stroke-width="1" stroke-linecap="round" fill="none"/>
<path d="M116.2 182.1h0M119.1 191.0h0" stroke="#dc88bb" stroke-width="1" stroke-linecap="round" fill="none"/>
<path d="M115.3 179.7h0M125.8 193.6h0M116.5 186.1h0" stroke="#e58ec3" stroke-width="1" stroke-linecap="round" fill="none"/>
<path d="M115.1 185.3h0" stroke="#f0badb" stroke-width="1" stroke-linecap="round" fill="none"/>
<path d="M116.0 186.5h0M114.2 182.9h0M121.0 193.6h0M116.4 182.9h0M120.9 195.0h0" stroke="#d282b3" stroke-width="1" stroke-linecap="round" fill="none"/>
<path d="M121.3 194.3h0M123.4 196.0h0" stroke="#f3c6e2" stroke-width="1" stroke-linecap="round" fill="none"/>
<path d="M120.5 191.4h0M121.4 195.3h0" stroke="#eeb1d7" stroke-width="1" stroke-linecap="round" fill="none"/>
<path d="M114.8 186.5h0M120.6 192.8h0M126.6 195.7h0M113.8 183.6h0M120.4 189.5h0M125.2 194.2h0M122.5 193.1h0" stroke="#cf80b1" stroke-width="1" stroke-linecap="round" fill="none"/>
<path d="M117.8 191.9h0M116.9 190.2h0M118.0 193.5h0" stroke="#f0b9db" stroke-width="1" stroke-linecap="round" fill="none"/>
<path d="M117.9 185.5h0M126.4 193.8h0M116.4 180.6h0M116.9 184.1h0" stroke="#efb4d8" stroke-width="1" stroke-linecap="round" fill="none"/>
<path d="M120.1 189.5h0M117.3 187.1h0M119.4 193.5h0" stroke="#f5d1e7" stroke-width="1" stroke-linecap="round" fill="none"/>
<path d="M116.4 181.7h0M118.4 192.7h0M116.7 190.6h0M118.9 187.7h0" stroke="#dc88bc" stroke-width="1" stroke-linecap="round" fill="none"/>
<path d="M117.4 180.9h0M117.1 182.3h0M122.6 194.9h0" stroke="#f3c5e1" stroke-width="1" stroke-linecap="round" fill="none"/>
<path d="M116.7 192.0h0" stroke="#f3c6e1" stroke-width="1" stroke-linecap="round" fill="none"/>
<path d="M115.6 184.9h0M120.3 189.1h0M119.6 193.7h0M116.9 191.6h0" stroke="#e08bbf" stroke-width="1" stroke-linecap="round" fill="none"/>
<path d="M123.7 195.0h0M117.3 182.7h0" stroke="#e48dc3" stroke-width="1" stroke-linecap="round" fill="none"/>
<path d="M126.6 195.4h0" stroke="#e68fc4" stroke-width="1" stroke-linecap="round" fill="none"/>
<path d="M117.8 185.1h0" stroke="#efb1d7" stroke-width="1" stroke-linecap="round" fill="none"/>
<path d="M118.2 185.6h0" stroke="#d382b4" stroke-width="1" stroke-linecap="round" fill="none"/>
<path d="M118.1 192.3h0" stroke="#f5d0e6" stroke-width="1" stroke-linecap="round" fill="none"/>
<path d="M120.3 192.1h0" stroke="#efb6d9" stroke-width="1" stroke-linecap="round" fill="none"/>
<path d="M123.8 192.2h0" stroke="#d987b9" stroke-width="1" stroke-linecap="round" fill="none"/>
<path d="M122.7 193.6h0" stroke="#da87ba" stroke-width="1" stroke-linecap="round" fill="none"/>
<path d="M124.6 194.7h0M117.2 187.0h0" stroke="#dd89bc" stroke-width="1" stroke-linecap="round" fill="none"/>
<path d="M115.6 180.1h0M123.5 193.4h0" stroke="#dd89bd" stroke-width="1" stroke-linecap="round" fill="none"/>
<path d="M126.0 196.7h0M114.9 189.3h0M115.4 180.4h0" stroke="#f0b8da" stroke-width="1" stroke-linecap="round" fill="none"/>
<path d="M116.3 182.5h0" stroke="#d081b2" stroke-width="1" stroke-linecap="round" fill="none"/>
<path d="M115.4 182.7h0M118.0 189.6h0" stroke="#ce7faf" stroke-width="1" stroke-linecap="round" fill="none"/>
<path d="M117.6 180.3h0" stroke="#f0b7da" stroke-width="1" stroke-linecap="round" fill="none"/>
<path d="M123.1 196.7h0M115.6 188.5h0" stroke="#f4cce5" stroke-width="1" stroke-linecap="round" fill="none"/>
<path d="M116.2 182.4h0" stroke="#f0badc" stroke-width="1" stroke-linecap="round" fill="none"/>
<path d="M124.2 193.1h0" stroke="#e68ec4" stroke-width="1" stroke-linecap="round" fill="none"/>
<path d="M114.1 186.6h0" stroke="#f5d0e7" stroke-width="1" stroke-linecap="round" fill="none"/>
<path d="M119.5 190.2h0" stroke="#e28cc0" stroke-width="1" stroke-linecap="round" fill="none"/>
<path d="M124.7 196.8h0" stroke="#de8abe" stroke-width="1" stroke-linecap="round" fill="none"/>
<path d="M116.3 189.4h0M121.9 195.9h0" stroke="#efb3d8" stroke-width="1" stroke-linecap="round" fill="none"/>
<path d="M116.4 182.9h0M118.8 192.8h0M115.5 189.8h0" stroke="#d886b8" stroke-width="1" stroke-linecap="round" fill="none"/>
<path d="M118.1 187.5h0M126.7 193.6h0M114.6 181.9h0" stroke="#f3c8e3" stroke-width="1" stroke-linecap="round" fill="none"/>
<path d="M119.5 194.2h0" stroke="#d181b2" stroke-width="1" stroke-linecap="round" fill="none"/>
<path d="M124.4 192.1h0" stroke="#f1bcdd" stroke-width="1" stroke-linecap="round" fill="none"/>
<path d="M115.4 179.6h0" stroke="#e18bc0" stroke-width="1" stroke-linecap="round" fill="none"/>
<path d="M121.2 194.2h0M114.5 186.9h0M121.5 193.4h0" stroke="#f5cfe6" stroke-width="1" stroke-linecap="round" fill="none"/>
<path d="M121.9 196.1h0" stroke="#d886b9" stroke-width="1" stroke-linecap="round" fill="none"/>
<path d="M116.3 185.2h0" stroke="#d584b6" stroke-width="1" stroke-linecap="round" fill="none"/>
<path d="M123.7 196.0h0" stroke="#e28cc1" stroke-width="1" stroke-linecap="round" fill="none"/>
<path d="M122.7 195.9h0M127.5 196.6h0" stroke="#f1bede" stroke-width="1" stroke-linecap="round" fill="none"/>
<path d="M113.7 182.7h0M115.2 180.6h0" stroke="#d182b3" stroke-width="1" stroke-linecap="round" fill="none"/>
<path d="M126.8 195.1h0" stroke="#f4cde5" stroke-width="1" stroke-linecap="round" fill="none"/>
<path d="M115.4 179.6h0" stroke="#dc89bc" stroke-width="1" stroke-linecap="round" fill="none"/>
<path d="M122.4 196.1h0" stroke="#e18cc0" stroke-width="1" stroke-linecap="round" fill="none"/>
<path d="M114.3 186.9h0M122.0 195.7h0" stroke="#df8abe" stroke-width="1" stroke-linecap="round" fill="none"/>
<path d="M125.6 194.2h0M116.2 187.2h0" stroke="#e38dc2" stroke-width="1" stroke-linecap="round" fill="none"/>
<path d="M116.1 186.1h0" stroke="#f4cce4" stroke-width="1" stroke-linecap="round" fill="none"/>
<path d="M117.4 192.9h0" stroke="#de8abd" stroke-width="1" stroke-linecap="round" fill="none"/>
<path d="M114.9 188.6h0" stroke="#d785b8" stroke-width="1" stroke-linecap="round" fill="none"/>
<path d="M122.6 192.0h0" stroke="#db87ba" stroke-width="1" stroke-linecap="round" fill="none"/>
<path d="M118.6 191.8h0" stroke="#e48dc2" stroke-width="1" stroke-linecap="round" fill="none"/>
<path d="M116.1 182.1h0M124.8 196.3h0" stroke="#d383b4" stroke-width="1" stroke-linecap="round" fill="none"/>
<path d="M119.7 191.6h0" stroke="#d182b2" stroke-width="1" stroke-linecap="round" fill="none"/>
<path d="M116.8 186.4h0" stroke="#f1bcdc" stroke-width="1" stroke-linecap="round" fill="none"/>
<path d="M118.6 187.5h0" stroke="#d081b1" stroke-width="1" stroke-linecap="round" fill="none"/>
<path d="M115.1 183.3h0" stroke="#d785b7" stroke-width="1" stroke-linecap="round" fill="none"/>
<path d="M117.7 185.7h0" stroke="#e38dc1" stroke-width="1" stroke-linecap="round" fill="none"/>
<path d="M126.3 193.7h0" stroke="#df8abf" stroke-width="1" stroke-linecap="round" fill="none"/>
<path d="M117.2 180.7h0" stroke="#e890c6" stroke-width="0.9" stroke-linecap="round" fill="none"/>
<path d="M116.5 180.4h0M117.4 182.1h0M117.5 182.6h0M117.8 185.6h0M118.9 184.4h0M120.8 188.0h0M120.8 189.6h0M124.6 191.9h0M125.2 192.4h0M127.3 195.7h0M127.5 196.0h0M125.5 196.9h0M123.6 196.5h0M123.3 197.3h0M120.2 195.2h0M116.8 192.7h0M114.8 192.1h0M116.4 192.2h0M113.9 190.7h0M112.7 184.0h0M113.7 183.8h0M114.2 180.0h0M113.7 183.0h0" stroke="#e890c6" stroke-width="0.9" stroke-linecap="round" fill="none"/>
<path d="M131.2 195.9h0M133.8 196.0h0" stroke="#d5789e" stroke-width="1" stroke-linecap="round" fill="none"/>
<path d="M139.7 189.4h0M129.4 191.9h0M136.5 191.2h0M136.7 194.7h0" stroke="#e581a9" stroke-width="1" stroke-linecap="round" fill="none"/>
<path d="M127.8 195.3h0M134.7 193.6h0M131.0 196.3h0M131.1 197.6h0" stroke="#d7799f" stroke-width="1" stroke-linecap="round" fill="none"/>
<path d="M127.8 194.7h0M135.6 190.1h0M135.5 195.3h0M130.3 196.8h0M135.5 190.1h0" stroke="#dc7ca3" stroke-width="1" stroke-linecap="round" fill="none"/>
<path d="M129.7 193.5h0M130.5 199.6h0M140.8 188.2h0M142.3 187.7h0M134.3 194.8h0" stroke="#db7ba2" stroke-width="1" stroke-linecap="round" fill="none"/>
<path d="M141.4 187.6h0" stroke="#f7ccde" stroke-width="1" stroke-linecap="round" fill="none"/>
<path d="M133.0 190.5h0M140.6 190.8h0M130.0 199.2h0M131.5 192.8h0M128.5 200.2h0" stroke="#f3aeca" stroke-width="1" stroke-linecap="round" fill="none"/>
<path d="M138.8 192.1h0M128.8 194.2h0M127.7 194.6h0M138.5 190.5h0M127.0 194.0h0" stroke="#e380a8" stroke-width="1" stroke-linecap="round" fill="none"/>
<path d="M138.4 192.5h0M140.2 188.7h0M131.2 201.6h0M131.7 193.2h0" stroke="#d4779d" stroke-width="1" stroke-linecap="round" fill="none"/>
<path d="M139.4 187.4h0" stroke="#da7aa1" stroke-width="1" stroke-linecap="round" fill="none"/>
<path d="M142.9 190.6h0M134.2 191.1h0M131.4 194.0h0M135.2 189.7h0" stroke="#f5bcd3" stroke-width="1" stroke-linecap="round" fill="none"/>
<path d="M138.9 191.8h0" stroke="#f7c7da" stroke-width="1" stroke-linecap="round" fill="none"/>
<path d="M128.9 199.5h0M128.3 194.1h0M127.4 194.0h0M134.8 190.1h0" stroke="#f5bad2" stroke-width="1" stroke-linecap="round" fill="none"/>
<path d="M127.6 201.6h0M141.4 190.5h0M131.9 191.9h0M142.3 191.3h0" stroke="#ea84ad" stroke-width="1" stroke-linecap="round" fill="none"/>
<path d="M130.2 201.2h0M136.8 194.0h0M133.5 192.1h0" stroke="#de7da4" stroke-width="1" stroke-linecap="round" fill="none"/>
<path d="M131.2 193.1h0M130.8 196.8h0M138.4 189.8h0" stroke="#da7ba1" stroke-width="1" stroke-linecap="round" fill="none"/>
<path d="M130.2 198.7h0M141.4 187.7h0" stroke="#f7cadc" stroke-width="1" stroke-linecap="round" fill="none"/>
<path d="M139.2 192.5h0M130.8 197.5h0M133.3 198.1h0" stroke="#f4b1cc" stroke-width="1" stroke-linecap="round" fill="none"/>
<path d="M130.5 195.0h0M140.1 190.3h0M132.7 195.5h0M141.2 190.3h0M134.8 195.1h0M128.2 197.8h0M127.6 199.3h0M135.3 195.9h0M138.2 190.3h0M141.2 191.4h0M135.0 194.3h0M132.7 192.3h0M138.3 192.7h0M140.9 191.6h0M129.0 200.5h0M138.2 190.0h0M74.1 265.0h0" stroke="#ffffff" stroke-width="1" stroke-linecap="round" fill="none"/>
<path d="M129.9 198.6h0M141.9 187.6h0M129.5 198.5h0M137.4 190.0h0" stroke="#f3afca" stroke-width="1" stroke-linecap="round" fill="none"/>
<path d="M131.9 195.0h0" stroke="#f4b2cc" stroke-width="1" stroke-linecap="round" fill="none"/>
<path d="M140.4 188.0h0M138.2 192.0h0" stroke="#f6bfd5" stroke-width="1" stroke-linecap="round" fill="none"/>
<path d="M130.0 195.6h0M134.7 196.5h0" stroke="#f6c3d7" stroke-width="1" stroke-linecap="round" fill="none"/>
<path d="M130.7 192.8h0" stroke="#f6c1d7" stroke-width="1" stroke-linecap="round" fill="none"/>
<path d="M128.5 196.1h0M131.4 192.8h0" stroke="#f5b9d1" stroke-width="1" stroke-linecap="round" fill="none"/>
<path d="M141.1 189.5h0M132.3 199.9h0" stroke="#f3adc9" stroke-width="1" stroke-linecap="round" fill="none"/>
<path d="M132.4 194.7h0M128.5 193.0h0M131.3 199.3h0M139.1 192.6h0M128.3 199.8h0" stroke="#e681aa" stroke-width="1" stroke-linecap="round" fill="none"/>
<path d="M128.6 195.4h0M135.3 191.0h0M131.5 194.5h0" stroke="#ec85ae" stroke-width="1" stroke-linecap="round" fill="none"/>
<path d="M142.1 191.6h0M128.2 197.0h0" stroke="#f4b2cd" stroke-width="1" stroke-linecap="round" fill="none"/>
<path d="M134.3 193.7h0" stroke="#f5b7d0" stroke-width="1" stroke-linecap="round" fill="none"/>
<path d="M138.5 189.4h0M129.1 193.6h0M137.3 192.4h0M136.5 193.5h0" stroke="#f4b5cf" stroke-width="1" stroke-linecap="round" fill="none"/>
<path d="M132.4 190.3h0M128.4 202.6h0M136.1 195.2h0" stroke="#e37fa7" stroke-width="1" stroke-linecap="round" fill="none"/>
<path d="M135.2 191.2h0M129.5 193.3h0" stroke="#d97aa1" stroke-width="1" stroke-linecap="round" fill="none"/>
<path d="M132.7 191.9h0M136.3 195.0h0" stroke="#e17fa6" stroke-width="1" stroke-linecap="round" fill="none"/>
<path d="M142.0 187.5h0M141.0 189.3h0" stroke="#eb84ae" stroke-width="1" stroke-linecap="round" fill="none"/>
<path d="M128.4 196.8h0M128.0 201.9h0M131.9 199.8h0M132.0 201.1h0M138.1 187.7h0" stroke="#d6789e" stroke-width="1" stroke-linecap="round" fill="none"/>
<path d="M133.1 199.3h0" stroke="#e480a9" stroke-width="1" stroke-linecap="round" fill="none"/>
<path d="M130.2 195.0h0" stroke="#e07ea5" stroke-width="1" stroke-linecap="round" fill="none"/>
<path d="M128.8 196.9h0M130.6 194.0h0M128.1 197.7h0M129.8 201.7h0" stroke="#f5bdd4" stroke-width="1" stroke-linecap="round" fill="none"/>
<path d="M136.9 192.1h0" stroke="#d4779c" stroke-width="1" stroke-linecap="round" fill="none"/>
<path d="M134.9 195.9h0M136.6 193.6h0M137.6 190.2h0" stroke="#e17ea6" stroke-width="1" stroke-linecap="round" fill="none"/>
<path d="M131.1 198.2h0M133.0 190.0h0M132.5 201.5h0" stroke="#ec85af" stroke-width="1" stroke-linecap="round" fill="none"/>
<path d="M134.9 190.5h0M132.4 197.1h0M127.2 194.7h0" stroke="#e983ac" stroke-width="1" stroke-linecap="round" fill="none"/>
<path d="M135.3 190.3h0M135.7 194.2h0" stroke="#f3acc9" stroke-width="1" stroke-linecap="round" fill="none"/>
<path d="M140.4 191.6h0M132.7 194.9h0M138.3 190.0h0" stroke="#e07ea6" stroke-width="1" stroke-linecap="round" fill="none"/>
<path d="M132.9 199.9h0" stroke="#d5789d" stroke-width="1" stroke-linecap="round" fill="none"/>
<path d="M131.0 200.0h0M129.2 197.9h0" stroke="#f5bbd2" stroke-width="1" stroke-linecap="round" fill="none"/>
<path d="M138.4 187.2h0M127.3 195.2h0" stroke="#d1769b" stroke-width="1" stroke-linecap="round" fill="none"/>
<path d="M141.1 188.3h0M129.5 198.6h0M140.6 188.2h0" stroke="#f6c5d9" stroke-width="1" stroke-linecap="round" fill="none"/>
<path d="M136.6 190.7h0M135.4 193.5h0M141.9 192.1h0M131.9 194.4h0" stroke="#d2769b" stroke-width="1" stroke-linecap="round" fill="none"/>
<path d="M139.8 188.0h0M141.1 190.5h0M127.9 197.0h0M134.0 190.9h0M138.7 188.9h0" stroke="#ed85af" stroke-width="1" stroke-linecap="round" fill="none"/>
<path d="M140.9 192.0h0M130.1 192.2h0" stroke="#f4b3cd" stroke-width="1" stroke-linecap="round" fill="none"/>
<path d="M135.3 191.7h0" stroke="#df7ea5" stroke-width="1" stroke-linecap="round" fill="none"/>
<path d="M137.7 187.7h0" stroke="#f5b8d0" stroke-width="1" stroke-linecap="round" fill="none"/>
<path d="M132.9 192.0h0" stroke="#f3aac7" stroke-width="1" stroke-linecap="round" fill="none"/>
<path d="M129.0 193.5h0M134.3 190.7h0M132.7 190.8h0" stroke="#f5bed4" stroke-width="1" stroke-linecap="round" fill="none"/>
<path d="M127.7 193.3h0" stroke="#df7da5" stroke-width="1" stroke-linecap="round" fill="none"/>
<path d="M132.4 196.5h0M130.9 193.0h0" stroke="#f4b6cf" stroke-width="1" stroke-linecap="round" fill="none"/>
<path d="M137.9 191.3h0M138.2 190.3h0" stroke="#e480a8" stroke-width="1" stroke-linecap="round" fill="none"/>
<path d="M130.1 194.8h0" stroke="#d3779c" stroke-width="1" stroke-linecap="round" fill="none"/>
<path d="M132.3 198.0h0M130.6 192.2h0" stroke="#dc7ca2" stroke-width="1" stroke-linecap="round" fill="none"/>
<path d="M135.2 195.0h0" stroke="#dd7ca4" stroke-width="1" stroke-linecap="round" fill="none"/>
<path d="M137.3 188.7h0M140.6 190.0h0M137.6 189.2h0" stroke="#f7ccdd" stroke-width="1" stroke-linecap="round" fill="none"/>
<path d="M129.1 192.2h0M139.0 193.9h0" stroke="#f7cbdd" stroke-width="1" stroke-linecap="round" fill="none"/>
<path d="M130.2 192.9h0M135.8 195.3h0M129.0 200.6h0" stroke="#d97aa0" stroke-width="1" stroke-linecap="round" fill="none"/>
<path d="M131.0 199.1h0" stroke="#f3afcb" stroke-width="1" stroke-linecap="round" fill="none"/>
<path d="M130.2 191.3h0" stroke="#d5779d" stroke-width="1" stroke-linecap="round" fill="none"/>
<path d="M137.3 188.5h0" stroke="#f7c6d9" stroke-width="1" stroke-linecap="round" fill="none"/>
<path d="M129.6 192.0h0M133.6 197.3h0M131.7 202.2h0" stroke="#ea83ad" stroke-width="1" stroke-linecap="round" fill="none"/>
<path d="M132.9 193.7h0" stroke="#f7c9dc" stroke-width="1" stroke-linecap="round" fill="none"/>
<path d="M138.8 187.1h0M138.0 193.6h0" stroke="#dd7ca3" stroke-width="1" stroke-linecap="round" fill="none"/>
<path d="M132.2 200.2h0" stroke="#e27fa7" stroke-width="1" stroke-linecap="round" fill="none"/>
<path d="M137.6 188.9h0M136.7 190.2h0" stroke="#f7c8db" stroke-width="1" stroke-linecap="round" fill="none"/>
<path d="M141.5 191.8h0M136.9 190.5h0M139.3 191.2h0" stroke="#e782ab" stroke-width="1" stroke-linecap="round" fill="none"/>
<path d="M128.3 193.7h0M129.6 192.1h0" stroke="#f8cdde" stroke-width="1" stroke-linecap="round" fill="none"/>
<path d="M133.3 192.0h0M137.0 194.8h0" stroke="#f6c2d7" stroke-width="1" stroke-linecap="round" fill="none"/>
<path d="M130.2 200.8h0" stroke="#e782aa" stroke-width="1" stroke-linecap="round" fill="none"/>
<path d="M140.2 191.7h0" stroke="#e883ac" stroke-width="1" stroke-linecap="round" fill="none"/>
<path d="M128.0 200.8h0" stroke="#f3b0cb" stroke-width="1" stroke-linecap="round" fill="none"/>
<path d="M135.1 195.2h0" stroke="#f5b8d1" stroke-width="1" stroke-linecap="round" fill="none"/>
<path d="M132.7 190.6h0M132.0 193.9h0" stroke="#f6c4d8" stroke-width="1" stroke-linecap="round" fill="none"/>
<path d="M127.9 198.8h0" stroke="#f4b5ce" stroke-width="1" stroke-linecap="round" fill="none"/>
<path d="M141.0 193.6h0" stroke="#f4b4ce" stroke-width="1" stroke-linecap="round" fill="none"/>
<path d="M139.0 190.6h0" stroke="#f6bed5" stroke-width="1" stroke-linecap="round" fill="none"/>
<path d="M132.4 190.6h0" stroke="#e882ab" stroke-width="1" stroke-linecap="round" fill="none"/>
<path d="M132.1 202.1h0" stroke="#f6c0d5" stroke-width="1" stroke-linecap="round" fill="none"/>
<path d="M135.9 191.6h0M136.3 188.7h0" stroke="#f4b7d0" stroke-width="1" stroke-linecap="round" fill="none"/>
<path d="M132.8 195.2h0" stroke="#d879a0" stroke-width="1" stroke-linecap="round" fill="none"/>
<path d="M129.3 191.9h0M127.5 193.3h0M128.9 191.6h0M128.2 191.6h0M136.1 189.0h0M133.9 190.9h0M139.4 186.6h0M135.8 189.0h0M140.5 186.2h0M143.2 187.8h0M143.9 187.7h0M141.7 189.2h0M141.2 192.8h0M142.3 191.7h0M138.5 194.6h0M138.9 194.6h0M133.8 197.2h0M134.2 198.5h0M134.3 198.5h0M133.6 198.9h0M133.7 201.7h0M133.2 202.1h0M128.2 202.1h0M129.3 203.9h0M127.3 201.0h0M127.3 201.8h0M127.9 196.5h0M127.0 199.2h0M127.0 195.8h0M127.8 196.8h0" stroke="#ee86b0" stroke-width="0.9" stroke-linecap="round" fill="none"/>
<path d="M75.0 259.1h0" stroke="#97dada" stroke-width="1" stroke-linecap="round" fill="none"/>
<path d="M74.4 255.1h0" stroke="#83d2d2" stroke-width="1" stroke-linecap="round" fill="none"/>
<path d="M79.3 261.3h0" stroke="#16abab" stroke-width="1" stroke-linecap="round" fill="none"/>
<path d="M75.9 263.3h0M82.5 261.3h0" stroke="#79cfcf" stroke-width="1" stroke-linecap="round" fill="none"/>
<path d="M78.8 256.0h0" stroke="#90d7d7" stroke-width="1" stroke-linecap="round" fill="none"/>
<path d="M74.4 260.3h0" stroke="#8dd6d6" stroke-width="1" stroke-linecap="round" fill="none"/>
<path d="M73.3 257.5h0" stroke="#149b9b" stroke-width="1" stroke-linecap="round" fill="none"/>
<path d="M82.7 258.7h0" stroke="#159f9f" stroke-width="1" stroke-linecap="round" fill="none"/>
<path d="M78.4 253.5h0" stroke="#15a3a3" stroke-width="1" stroke-linecap="round" fill="none"/>
<path d="M77.7 265.7h0" stroke="#16a6a6" stroke-width="1" stroke-linecap="round" fill="none"/>
<path d="M83.0 259.7h0" stroke="#9adada" stroke-width="1" stroke-linecap="round" fill="none"/>
<path d="M75.6 261.8h0M76.0 266.1h0M83.2 260.0h0" stroke="#8ed6d6" stroke-width="1" stroke-linecap="round" fill="none"/>
<path d="M78.1 256.2h0M80.8 260.7h0M75.3 258.5h0M77.3 261.7h0M77.5 267.0h0M82.2 265.4h0M80.8 262.9h0M81.7 264.1h0M77.2 260.0h0M78.7 258.4h0" stroke="#16abab" stroke-width="1" stroke-linecap="round" fill="none"/>
<path d="M82.5 259.0h0" stroke="#96d9d9" stroke-width="1" stroke-linecap="round" fill="none"/>
<path d="M82.0 263.2h0" stroke="#73cdcd" stroke-width="1" stroke-linecap="round" fill="none"/>
<path d="M77.0 264.9h0M81.5 265.3h0M73.1 261.9h0" stroke="#90d7d7" stroke-width="1" stroke-linecap="round" fill="none"/>
<path d="M82.2 258.0h0M76.1 255.6h0M81.1 257.5h0M79.1 265.5h0M83.4 258.6h0M79.8 266.9h0M79.2 262.4h0M76.9 253.4h0M83.3 260.8h0M74.5 258.6h0M77.4 261.5h0M76.0 261.0h0M75.7 254.7h0M75.8 257.4h0M88.8 261.4h0M91.0 260.0h0M87.9 261.1h0" stroke="#ffffff" stroke-width="1" stroke-linecap="round" fill="none"/>
<path d="M83.1 258.2h0M77.4 266.9h0" stroke="#16a6a6" stroke-width="1" stroke-linecap="round" fill="none"/>
<path d="M75.2 266.0h0M73.0 260.1h0M76.7 255.0h0M76.7 257.3h0M80.7 265.4h0M76.5 253.8h0" stroke="#149a9a" stroke-width="1" stroke-linecap="round" fill="none"/>
<path d="M81.7 256.2h0M81.5 258.5h0" stroke="#149c9c" stroke-width="1" stroke-linecap="round" fill="none"/>
<path d="M78.7 255.3h0M82.8 255.6h0M78.6 253.7h0M82.9 257.9h0" stroke="#66c8c8" stroke-width="1" stroke-linecap="round" fill="none"/>
<path d="M81.4 254.6h0M79.4 267.0h0M79.5 264.4h0M83.3 258.4h0M73.6 258.0h0M80.1 265.1h0M79.8 256.3h0M76.2 263.2h0M75.9 258.8h0M75.9 262.9h0" stroke="#15a0a0" stroke-width="1" stroke-linecap="round" fill="none"/>
<path d="M76.9 266.3h0" stroke="#78cece" stroke-width="1" stroke-linecap="round" fill="none"/>
<path d="M77.9 261.9h0" stroke="#97d9d9" stroke-width="1" stroke-linecap="round" fill="none"/>
<path d="M78.8 263.8h0M75.5 258.6h0M75.4 258.6h0M73.3 259.6h0M76.9 264.5h0M75.7 264.7h0M74.6 264.2h0" stroke="#15a2a2" stroke-width="1" stroke-linecap="round" fill="none"/>
<path d="M75.0 254.0h0M83.0 261.6h0M74.8 255.0h0M75.0 265.1h0M77.2 261.8h0" stroke="#149b9b" stroke-width="1" stroke-linecap="round" fill="none"/>
<path d="M77.5 256.9h0M81.7 261.8h0" stroke="#69c9c9" stroke-width="1" stroke-linecap="round" fill="none"/>
<path d="M74.9 259.4h0M77.1 263.5h0M81.8 264.9h0M79.4 267.2h0M75.8 264.0h0" stroke="#16aaaa" stroke-width="1" stroke-linecap="round" fill="none"/>
<path d="M75.5 256.1h0M75.8 256.5h0M79.9 261.4h0" stroke="#16a4a4" stroke-width="1" stroke-linecap="round" fill="none"/>
<path d="M77.9 259.1h0" stroke="#9adada" stroke-width="1" stroke-linecap="round" fill="none"/>
<path d="M83.7 259.2h0M74.7 259.1h0" stroke="#64c7c7" stroke-width="1" stroke-linecap="round" fill="none"/>
<path d="M82.8 261.3h0M78.7 266.5h0" stroke="#9bdbdb" stroke-width="1" stroke-linecap="round" fill="none"/>
<path d="M77.9 256.1h0" stroke="#9ddcdc" stroke-width="1" stroke-linecap="round" fill="none"/>
<path d="M75.5 264.5h0M76.4 253.5h0M82.0 255.9h0M80.3 265.1h0M78.6 258.6h0M80.0 260.3h0" stroke="#159e9e" stroke-width="1" stroke-linecap="round" fill="none"/>
<path d="M80.7 265.6h0M82.6 263.6h0M75.7 265.0h0M79.5 261.5h0M75.2 258.5h0M77.1 253.5h0" stroke="#16a9a9" stroke-width="1" stroke-linecap="round" fill="none"/>
<path d="M79.0 257.5h0M75.0 253.8h0M73.1 260.9h0" stroke="#6fcbcb" stroke-width="1" stroke-linecap="round" fill="none"/>
<path d="M76.1 267.2h0M79.1 262.5h0M80.8 258.8h0" stroke="#149999" stroke-width="1" stroke-linecap="round" fill="none"/>
<path d="M77.5 260.5h0M83.5 258.7h0M76.8 267.0h0" stroke="#77cece" stroke-width="1" stroke-linecap="round" fill="none"/>
<path d="M76.9 254.5h0M76.1 254.9h0M79.2 258.9h0M78.1 259.9h0" stroke="#7acfcf" stroke-width="1" stroke-linecap="round" fill="none"/>
<path d="M80.3 259.3h0M78.6 265.7h0" stroke="#a1dddd" stroke-width="1" stroke-linecap="round" fill="none"/>
<path d="M77.0 255.9h0M76.8 262.2h0" stroke="#98dada" stroke-width="1" stroke-linecap="round" fill="none"/>
<path d="M77.7 256.9h0M76.3 256.8h0M73.5 259.1h0M83.6 261.6h0M81.9 261.5h0M74.2 261.2h0" stroke="#15a1a1" stroke-width="1" stroke-linecap="round" fill="none"/>
<path d="M75.5 257.6h0M76.0 263.7h0" stroke="#99dada" stroke-width="1" stroke-linecap="round" fill="none"/>
<path d="M79.0 266.3h0" stroke="#67c8c8" stroke-width="1" stroke-linecap="round" fill="none"/>
<path d="M78.5 265.6h0" stroke="#62c6c6" stroke-width="1" stroke-linecap="round" fill="none"/>
<path d="M77.4 265.3h0" stroke="#6ecbcb" stroke-width="1" stroke-linecap="round" fill="none"/>
<path d="M78.3 267.4h0M79.6 255.2h0" stroke="#93d8d8" stroke-width="1" stroke-linecap="round" fill="none"/>
<path d="M81.2 258.9h0M75.2 260.0h0M75.9 260.7h0M80.0 261.9h0M75.5 262.5h0M79.5 260.1h0M78.4 265.1h0" stroke="#149898" stroke-width="1" stroke-linecap="round" fill="none"/>
<path d="M76.4 257.5h0M79.5 259.1h0" stroke="#82d2d2" stroke-width="1" stroke-linecap="round" fill="none"/>
<path d="M73.9 255.3h0" stroke="#74cdcd" stroke-width="1" stroke-linecap="round" fill="none"/>
<path d="M81.9 259.9h0M73.6 261.5h0M81.9 255.6h0" stroke="#16a5a5" stroke-width="1" stroke-linecap="round" fill="none"/>
<path d="M76.6 266.1h0" stroke="#88d4d4" stroke-width="1" stroke-linecap="round" fill="none"/>
<path d="M81.5 264.1h0M74.1 263.1h0" stroke="#5ec5c5" stroke-width="1" stroke-linecap="round" fill="none"/>
<path d="M79.1 257.9h0" stroke="#80d1d1" stroke-width="1" stroke-linecap="round" fill="none"/>
<path d="M78.3 259.1h0" stroke="#5dc5c5" stroke-width="1" stroke-linecap="round" fill="none"/>
<path d="M75.4 260.1h0M78.5 261.8h0M76.3 259.8h0M81.7 260.1h0M77.1 256.4h0M74.8 258.0h0" stroke="#15a3a3" stroke-width="1" stroke-linecap="round" fill="none"/>
<path d="M83.6 257.3h0" stroke="#8bd5d5" stroke-width="1" stroke-linecap="round" fill="none"/>
<path d="M78.9 253.6h0" stroke="#75cdcd" stroke-width="1" stroke-linecap="round" fill="none"/>
<path d="M82.5 255.5h0M76.9 267.1h0M78.5 264.6h0M80.6 257.2h0M75.3 258.2h0" stroke="#61c6c6" stroke-width="1" stroke-linecap="round" fill="none"/>
<path d="M82.3 258.5h0" stroke="#92d8d8" stroke-width="1" stroke-linecap="round" fill="none"/>
<path d="M75.4 267.1h0" stroke="#79cfcf" stroke-width="1" stroke-linecap="round" fill="none"/>
<path d="M83.4 258.3h0M78.0 256.2h0" stroke="#94d8d8" stroke-width="1" stroke-linecap="round" fill="none"/>
<path d="M73.6 255.5h0" stroke="#7cd0d0" stroke-width="1" stroke-linecap="round" fill="none"/>
<path d="M76.0 257.7h0M77.4 266.1h0" stroke="#63c7c7" stroke-width="1" stroke-linecap="round" fill="none"/>
<path d="M77.7 265.3h0" stroke="#76cece" stroke-width="1" stroke-linecap="round" fill="none"/>
<path d="M81.7 260.1h0" stroke="#149797" stroke-width="1" stroke-linecap="round" fill="none"/>
<path d="M77.7 264.0h0" stroke="#6dcaca" stroke-width="1" stroke-linecap="round" fill="none"/>
<path d="M81.4 264.0h0" stroke="#6ccaca" stroke-width="1" stroke-linecap="round" fill="none"/>
<path d="M74.2 254.3h0M79.6 266.2h0" stroke="#159f9f" stroke-width="1" stroke-linecap="round" fill="none"/>
<path d="M74.0 259.0h0M81.4 263.5h0" stroke="#83d2d2" stroke-width="1" stroke-linecap="round" fill="none"/>
<path d="M79.5 259.6h0M73.3 258.3h0" stroke="#16a7a7" stroke-width="1" stroke-linecap="round" fill="none"/>
<path d="M76.6 265.6h0M79.6 266.5h0M78.3 265.5h0M78.1 255.0h0M78.1 266.5h0M74.1 261.0h0M75.0 261.8h0" stroke="#16a8a8" stroke-width="1" stroke-linecap="round" fill="none"/>
<path d="M82.4 265.7h0M77.9 253.5h0" stroke="#9edcdc" stroke-width="1" stroke-linecap="round" fill="none"/>
<path d="M73.2 259.6h0" stroke="#159d9d" stroke-width="1" stroke-linecap="round" fill="none"/>
<path d="M73.0 261.2h0" stroke="#70cccc" stroke-width="1" stroke-linecap="round" fill="none"/>
<path d="M76.2 263.4h0M76.0 256.3h0" stroke="#91d7d7" stroke-width="1" stroke-linecap="round" fill="none"/>
<path d="M80.2 254.3h0" stroke="#6ac9c9" stroke-width="1" stroke-linecap="round" fill="none"/>
<path d="M77.8 257.5h0" stroke="#7fd1d1" stroke-width="1" stroke-linecap="round" fill="none"/>
<path d="M80.8 255.9h0M74.1 256.8h0" stroke="#85d3d3" stroke-width="1" stroke-linecap="round" fill="none"/>
<path d="M78.5 263.2h0M77.8 266.0h0" stroke="#6dcbcb" stroke-width="1" stroke-linecap="round" fill="none"/>
<path d="M77.4 266.6h0" stroke="#95d9d9" stroke-width="1" stroke-linecap="round" fill="none"/>
<path d="M74.6 255.4h0M74.1 258.9h0" stroke="#8ad5d5" stroke-width="1" stroke-linecap="round" fill="none"/>
<path d="M80.1 255.0h0" stroke="#89d4d4" stroke-width="1" stroke-linecap="round" fill="none"/>
<path d="M73.5 262.8h0" stroke="#9cdbdb" stroke-width="1" stroke-linecap="round" fill="none"/>
<path d="M74.4 259.1h0" stroke="#6bcaca" stroke-width="1" stroke-linecap="round" fill="none"/>
<path d="M76.5 252.8h0M74.1 254.0h0M81.9 253.6h0M80.3 254.6h0M83.4 255.7h0M81.9 254.7h0M83.6 259.7h0M84.2 261.5h0M82.7 265.0h0M82.1 265.6h0M80.4 266.8h0M81.4 265.8h0M76.5 268.2h0M77.9 266.5h0M73.0 264.9h0M73.0 265.3h0M73.2 262.8h0M72.4 259.7h0M73.1 257.3h0M72.9 257.5h0M74.9 254.1h0M72.8 254.7h0" stroke="#17acac" stroke-width="0.9" stroke-linecap="round" fill="none"/>
<path d="M89.8 261.3h0" stroke="#1d9f6f" stroke-width="1" stroke-linecap="round" fill="none"/>
<path d="M90.3 260.7h0" stroke="#73c3a6" stroke-width="1" stroke-linecap="round" fill="none"/>
<path d="M88.9 259.2h0" stroke="#65be9d" stroke-width="1" stroke-linecap="round" fill="none"/>
<path d="M89.4 261.6h0" stroke="#1c996b" stroke-width="1" stroke-linecap="round" fill="none"/>
<path d="M88.6 260.8h0" stroke="#1d9e6e" stroke-width="1" stroke-linecap="round" fill="none"/>
<path d="M92.0 260.0h0" stroke="#1b9367" stroke-width="1" stroke-linecap="round" fill="none"/>
<path d="M90.4 259.8h0" stroke="#94d1bb" stroke-width="1" stroke-linecap="round" fill="none"/>
<path d="M89.8 261.3h0" stroke="#83cab0" stroke-width="1" stroke-linecap="round" fill="none"/>
<path d="M89.9 260.9h0M90.5 260.5h0" stroke="#1a8d63" stroke-width="1" stroke-linecap="round" fill="none"/>
<path d="M92.1 258.3h0" stroke="#84cbb0" stroke-width="1" stroke-linecap="round" fill="none"/>
<path d="M91.4 259.2h0" stroke="#67bf9e" stroke-width="1" stroke-linecap="round" fill="none"/>
<path d="M91.7 260.2h0" stroke="#8bceb5" stroke-width="1" stroke-linecap="round" fill="none"/>
<path d="M90.0 259.8h0" stroke="#89cdb4" stroke-width="1" stroke-linecap="round" fill="none"/>
<path d="M89.7 259.7h0" stroke="#78c6a9" stroke-width="1" stroke-linecap="round" fill="none"/>
<path d="M90.3 259.1h0" stroke="#93d1ba" stroke-width="1" stroke-linecap="round" fill="none"/>
<path d="M87.4 260.8h0" stroke="#1a8e63" stroke-width="1" stroke-linecap="round" fill="none"/>
<path d="M89.9 260.6h0" stroke="#69bfa0" stroke-width="1" stroke-linecap="round" fill="none"/>
<path d="M87.9 259.1h0M88.8 258.7h0M91.1 258.3h0M91.2 258.2h0M92.0 258.8h0M91.1 257.4h0M92.4 260.0h0M92.3 262.4h0M88.8 262.0h0M89.5 261.3h0M89.5 261.3h0M87.5 261.9h0" stroke="#1ea070" stroke-width="0.9" stroke-linecap="round" fill="none"/>
<path d="M131.0 199.4h0M133.6 197.1h0M129.9 201.1h0M129.9 197.7h0M134.4 196.7h0M131.6 197.0h0M130.0 202.4h0M131.4 200.9h0M128.6 196.6h0M130.2 202.0h0M131.2 199.2h0M128.5 198.2h0" stroke="#c8407a" stroke-width="1.4" stroke-linecap="round" fill="none"/>
<path d="M116.5 171.0h0M116.0 171.8h0M116.4 172.7h0M116.1 173.6h0M116.0 174.4h0M116.5 175.2h0M116.3 176.1h0M115.7 176.9h0M116.5 177.8h0M117.0 178.7h0" stroke="#eab0d6" stroke-width="0.9" stroke-linecap="round" fill="none"/>
</g>
<text x="63.4" y="176.2" font-size="8.0" text-anchor="middle" fill="#111" stroke="#111" stroke-width="0.12">0</text>
<text x="44.2" y="197.2" font-size="8.0" text-anchor="middle" fill="#111" stroke="#111" stroke-width="0.12">5</text>
<text x="46.4" y="216.4" font-size="8.0" text-anchor="middle" fill="#111" stroke="#111" stroke-width="0.12">3</text>
<text x="112.4" y="173.6" font-size="8.0" text-anchor="middle" fill="#111" stroke="#111" stroke-width="0.12">6</text>
<text x="121.2" y="187.4" font-size="8.0" text-anchor="middle" fill="#111" stroke="#111" stroke-width="0.12">4</text>
<text x="122.6" y="201.8" font-size="8.0" text-anchor="middle" fill="#111" stroke="#111" stroke-width="0.12">8</text>
<text x="130.2" y="202.6" font-size="8.0" text-anchor="middle" fill="#111" stroke="#111" stroke-width="0.12">2</text>
<text x="81.2" y="244.6" font-size="8.0" text-anchor="middle" fill="#111" stroke="#111" stroke-width="0.12">9</text>
<text x="94.6" y="258.0" font-size="8.0" text-anchor="middle" fill="#111" stroke="#111" stroke-width="0.12">7</text>
<text x="73.4" y="268.0" font-size="8.0" text-anchor="middle" fill="#111" stroke="#111" stroke-width="0.12">1</text>
<g>
<path d="M169.4,166.5 L174.4,164.2 L180.4,163.6 L185.4,164.0 L189.4,166.0 L192.4,170.0 L194.2,175.0 L194.6,180.0 L193.4,184.0 L189.9,186.5 L185.4,187.5 L180.4,188.5 L175.9,190.5 L171.9,190.0 L167.9,187.0 L165.9,182.0 L166.0,176.0 L167.2,170.5 Z" fill="#9b1b59" stroke="none" stroke-width="1" filter="url(#bl3)"/>
<path d="M156.9,187.9 L159.4,186.4 L162.4,184.5 L166.9,184.8 L171.3,186.8 L174.0,189.5 L174.0,193.4 L172.2,196.2 L169.9,195.2 L166.9,191.5 L163.4,190.4 L160.2,190.1 Z" fill="#981c5a" stroke="none" stroke-width="1" filter="url(#bl3)"/>
<path d="M170.6,196.3 L173.2,197.2 L174.0,201.5 L176.6,205.5 L178.0,209.5 L176.6,212.4 L173.4,214.2 L169.8,215.6 L166.8,213.6 L166.2,208.8 L168.0,204.0 L169.0,199.5 Z" fill="#6f2273" stroke="none" stroke-width="1" filter="url(#bl3)"/>
<path d="M229.0,163.8 L231.4,163.4 L233.9,162.5 L237.4,162.3 L240.6,163.2 L242.0,166.0 L241.0,169.0 L237.9,170.4 L234.9,170.0 L232.9,168.0 L231.4,165.5 L229.2,165.2 Z" fill="#6f2273" stroke="none" stroke-width="1" filter="url(#bl3)"/>
<path d="M234.6,179.5 L237.0,179.8 L237.4,184.0 L238.6,187.8 L241.6,190.8 L246.2,193.4 L247.0,196.6 L242.9,197.2 L238.4,195.2 L234.6,191.6 L232.8,187.0 L233.0,182.5 Z" fill="#7a206c" stroke="none" stroke-width="1" filter="url(#bl3)"/>
<path d="M246.2,193.6 L248.9,191.5 L251.9,190.2 L255.4,188.5 L259.0,186.4 L262.0,187.6 L262.6,190.4 L260.4,193.6 L255.9,195.4 L253.0,197.6 L252.8,201.2 L249.8,203.2 L246.8,202.6 L246.8,199.0 L247.0,196.8 Z" fill="#b1184c" stroke="none" stroke-width="1" filter="url(#bl3)"/>
<path d="M193.9,253.4 L197.9,253.0 L201.6,254.2 L203.4,257.5 L203.0,262.0 L201.8,265.8 L198.4,267.6 L194.9,267.2 L192.4,264.5 L192.2,260.0 L192.6,256.0 Z" fill="#6f2273" stroke="none" stroke-width="1" filter="url(#bl3)"/>
<path d="M206.6,260.8 L208.4,258.8 L210.6,257.4 L212.2,258.4 L211.2,260.6 L208.6,261.9 Z" fill="#841f67" stroke="none" stroke-width="1" filter="url(#bl3)"/>
<circle cx="205.0" cy="237.4" r="0.6" fill="#6a2a70"/>
<circle cx="204.0" cy="238.8" r="0.5" fill="#6a2a70"/>
<circle cx="157.0" cy="189.0" r="0.9" fill="#222244"/>
<path d="M235.60000000000002,201.6 Q236.60000000000002,203.8 238.8,201.4" fill="none" stroke="#7a2a70" stroke-width="0.9"/>
<path d="M181.3 184.1h0M189.2 179.5h0M172.4 165.4h0M174.1 174.5h0M171.3 187.5h0M187.6 182.1h0M166.8 179.4h0M182.8 174.9h0M178.7 181.8h0M172.5 187.4h0M171.2 168.1h0M188.3 178.3h0M170.7 177.0h0M174.0 167.9h0M173.5 182.9h0M172.7 171.4h0M182.9 177.2h0M173.2 182.4h0M176.6 177.1h0M169.4 175.4h0M176.6 173.6h0M169.1 186.5h0M168.8 173.0h0M177.9 186.6h0M169.5 180.3h0M168.7 172.6h0M179.4 172.2h0M173.1 180.8h0M168.1 183.0h0M179.0 175.8h0M190.9 181.6h0M193.5 182.6h0" stroke="#e8405a" stroke-width="1.1" stroke-linecap="round" fill="none"/>
<path d="M180.3 188.0h0M178.6 181.6h0M168.2 175.8h0M168.5 177.8h0M184.5 180.3h0M170.1 184.6h0M175.0 166.6h0M172.4 181.3h0M171.1 178.3h0M175.3 168.0h0M172.4 184.7h0M179.8 179.9h0M171.5 176.4h0M172.6 186.3h0M170.3 174.4h0M167.5 176.9h0M180.6 178.3h0M171.3 176.7h0M170.7 186.6h0M175.9 184.4h0M186.4 165.3h0M184.1 175.5h0M181.9 172.3h0M175.1 190.1h0M175.6 170.8h0M169.1 174.5h0M175.1 173.4h0M176.2 177.7h0M174.8 165.5h0M179.6 168.1h0M172.2 180.9h0M167.5 172.7h0M175.3 179.0h0M184.4 183.0h0M176.9 188.2h0M180.9 179.6h0M169.9 184.7h0M169.7 180.4h0M189.1 181.0h0M171.5 186.2h0M172.6 175.8h0M172.4 187.6h0M174.7 164.6h0M166.8 183.8h0M171.9 183.1h0M173.6 166.7h0M177.4 179.3h0M175.5 173.3h0M167.2 183.0h0M179.1 173.6h0M180.0 177.8h0M188.0 184.4h0M177.6 179.4h0M177.4 184.4h0M183.2 173.6h0M193.8 174.7h0M180.6 166.0h0M173.9 181.7h0M183.5 176.4h0M175.7 167.7h0M170.4 187.2h0M187.7 181.0h0M181.8 179.5h0M180.7 178.8h0M177.5 177.5h0M170.8 174.3h0M183.5 182.6h0M190.8 176.3h0M177.7 164.5h0M182.9 166.5h0M192.2 181.4h0M172.4 175.3h0M178.3 183.7h0M189.5 176.3h0M169.6 182.4h0M167.6 171.6h0M167.1 174.7h0M183.2 184.4h0M187.4 168.6h0M169.9 187.0h0M167.6 185.1h0M179.8 174.1h0M176.0 187.6h0M175.9 183.4h0M183.0 172.5h0M177.3 174.4h0M173.8 174.2h0M185.0 187.5h0M170.3 176.1h0M184.1 183.8h0M172.1 173.8h0M170.6 185.8h0M168.3 173.0h0M177.4 187.2h0" stroke="#d0143a" stroke-width="1.1" stroke-linecap="round" fill="none"/>
<path d="M167.1 171.7h0M174.6 168.4h0M185.5 168.1h0M174.3 167.8h0M185.1 165.2h0M182.2 166.2h0M187.9 178.4h0M169.3 171.6h0M188.1 174.2h0M173.9 188.2h0M187.8 184.4h0M174.1 183.9h0M184.7 169.2h0M174.5 178.3h0M176.7 177.4h0M185.9 174.7h0M189.9 176.3h0M188.6 184.8h0M174.0 189.1h0M172.3 172.1h0M174.1 189.7h0M183.2 174.4h0M167.1 179.5h0" stroke="#ffffff" stroke-width="1.1" stroke-linecap="round" fill="none"/>
<path d="M180.9 188.1h0M182.7 177.6h0M189.2 181.7h0M174.6 189.0h0M171.2 174.7h0M176.6 182.7h0M191.0 179.3h0M185.4 180.2h0M191.9 174.3h0M175.9 168.0h0M185.2 167.5h0M176.2 185.8h0M187.6 183.3h0M172.0 188.7h0M191.7 181.3h0M184.7 168.3h0M186.8 169.4h0M189.8 171.3h0M188.9 176.3h0M191.8 181.4h0M180.1 182.2h0M179.1 187.8h0M178.9 185.3h0M187.7 182.9h0M193.8 174.6h0M193.4 174.3h0M183.0 170.5h0M177.9 165.1h0M173.6 181.0h0M190.7 180.0h0M186.1 172.4h0M181.9 164.8h0M182.4 187.8h0M186.9 172.8h0M179.1 181.6h0M183.8 167.2h0M183.7 187.6h0M175.8 182.4h0M174.2 168.8h0M187.7 170.0h0M188.1 174.8h0" stroke="#7a3a96" stroke-width="1.1" stroke-linecap="round" fill="none"/>
<path d="M191.7 179.5h0M184.6 167.0h0M187.3 171.5h0M190.5 182.9h0M176.4 166.2h0M180.8 178.1h0M186.5 168.3h0M188.5 180.7h0M177.6 172.0h0M183.3 179.5h0M188.7 185.1h0M193.4 173.8h0M189.5 175.5h0M185.3 174.5h0M171.5 172.4h0M180.6 182.3h0M188.9 170.2h0M173.7 166.5h0M181.2 179.6h0M177.9 177.3h0M187.1 176.5h0M188.0 172.8h0M191.2 181.6h0M185.7 179.8h0M185.5 182.2h0M184.2 183.4h0M187.2 165.5h0M189.7 186.2h0M181.5 172.2h0M173.1 181.4h0M177.2 178.0h0M166.2 178.3h0M189.2 170.6h0M181.0 180.5h0M172.3 186.4h0M186.7 174.5h0M183.0 183.9h0M179.8 174.1h0M189.2 183.1h0M185.0 173.1h0M186.4 176.6h0M177.6 179.4h0M191.7 174.6h0M188.6 175.6h0M174.4 170.4h0M172.8 170.2h0M169.0 184.0h0M182.4 177.9h0M188.3 170.6h0M168.3 181.2h0M188.6 165.7h0M183.1 187.7h0M187.9 171.6h0M180.8 182.6h0" stroke="#34389a" stroke-width="1.1" stroke-linecap="round" fill="none"/>
<path d="M180.8 187.6h0M177.0 180.5h0M176.8 180.2h0M178.6 172.0h0M188.0 166.6h0M173.1 167.7h0M187.2 169.2h0M186.5 187.1h0M191.4 181.1h0M180.3 177.4h0M183.0 187.4h0M174.6 188.3h0M182.7 174.2h0M180.2 184.5h0M182.1 175.4h0M184.0 169.9h0M186.8 183.6h0M188.8 172.8h0M187.8 171.5h0M178.8 189.1h0M194.3 178.9h0M185.0 172.3h0M179.1 175.6h0M183.6 174.6h0M190.8 170.2h0M184.9 185.4h0M168.8 184.6h0M190.4 179.2h0M183.4 177.2h0M188.9 173.7h0M191.9 180.1h0M182.5 172.2h0M185.2 171.9h0M191.8 184.4h0M192.8 181.2h0M193.1 181.9h0M187.6 183.1h0M176.7 180.6h0M186.3 180.6h0M180.2 181.3h0M179.1 167.5h0M176.2 188.3h0M186.6 169.2h0M168.1 179.1h0M178.7 178.3h0M190.9 177.5h0M186.2 184.3h0M173.4 177.2h0M187.0 182.7h0M185.1 164.3h0M173.8 178.4h0" stroke="#34389a" stroke-width="1.1" stroke-linecap="round" fill="none"/>
<path d="M178.8 168.2h0M171.4 179.4h0M174.2 165.8h0M170.9 183.2h0M167.5 176.2h0M168.3 179.8h0M185.3 169.6h0M170.2 175.0h0M168.8 177.9h0M186.8 177.6h0M177.3 189.0h0M178.4 171.5h0M177.5 173.2h0M189.3 168.5h0M174.1 170.7h0M171.7 177.6h0M188.4 180.7h0M181.6 171.0h0M177.7 187.2h0M170.1 170.4h0M177.7 164.1h0M176.0 174.0h0M183.4 169.1h0M186.4 167.3h0M177.7 163.9h0M191.5 180.3h0M170.4 179.5h0M185.2 180.2h0M171.1 171.1h0M174.2 172.8h0M167.1 179.8h0M183.8 165.6h0M169.1 176.8h0M182.3 169.4h0M169.7 168.0h0M171.9 169.9h0M176.6 167.5h0M179.6 181.5h0M186.1 166.2h0M174.5 167.9h0M176.4 170.6h0M175.4 169.8h0M178.4 183.0h0M168.5 183.1h0M171.4 165.9h0M167.7 170.8h0M169.1 179.1h0M172.7 168.0h0M185.3 167.9h0M170.4 168.9h0M168.6 174.3h0M172.2 177.7h0M174.2 178.6h0M171.3 183.7h0M182.7 186.2h0M173.0 168.7h0M169.1 173.6h0M189.0 171.3h0M175.0 187.2h0M189.5 172.3h0M167.1 180.8h0M171.8 170.7h0M182.8 167.2h0M193.0 183.0h0M188.0 185.4h0M182.8 168.0h0M171.9 181.9h0M190.7 184.8h0M178.1 180.3h0M190.8 172.8h0M176.6 176.8h0M172.0 177.7h0M183.4 174.6h0M180.1 173.5h0M175.7 172.8h0M191.7 174.6h0M178.4 181.4h0M172.6 175.4h0M170.1 171.1h0M178.5 182.8h0M171.6 167.3h0M187.6 172.4h0M174.5 184.2h0M186.0 169.5h0M169.2 180.8h0" stroke="#d0143a" stroke-width="1.1" stroke-linecap="round" fill="none"/>
<path d="M189.8 176.2h0M179.4 171.9h0M193.9 181.9h0M183.8 174.8h0M193.4 179.9h0M178.5 180.0h0M189.0 174.8h0M191.6 175.0h0M180.4 180.3h0M179.6 180.9h0M183.1 185.1h0M188.7 167.7h0M190.3 182.6h0M186.8 171.6h0M182.2 184.2h0M177.1 164.5h0M184.2 164.1h0M186.0 166.2h0M182.2 167.2h0M182.9 166.7h0M184.2 185.4h0M188.2 180.1h0M173.8 186.8h0M191.4 179.4h0M188.3 181.4h0M182.5 184.4h0M172.9 180.0h0M182.4 176.2h0M184.5 179.1h0M190.2 179.6h0M185.8 174.4h0M186.8 166.0h0M179.7 188.6h0M189.1 183.1h0M183.7 177.8h0M177.6 167.4h0M190.1 178.6h0M189.7 174.9h0M194.1 177.8h0M174.3 183.6h0M181.0 185.8h0M170.5 167.0h0" stroke="#7a3a96" stroke-width="1.1" stroke-linecap="round" fill="none"/>
<path d="M179.9 167.6h0M187.6 175.6h0M184.6 169.6h0M172.1 167.0h0M176.4 167.2h0M178.2 175.3h0M169.2 173.6h0M177.3 172.7h0M167.2 179.0h0M176.3 181.9h0M167.0 179.2h0M190.2 173.5h0M176.8 169.6h0M190.9 178.8h0M189.5 173.4h0M185.3 183.7h0M187.7 181.2h0M176.7 182.2h0M173.1 185.4h0M178.8 178.8h0M175.8 182.2h0M176.3 173.1h0M187.5 185.7h0M172.0 185.1h0M189.7 184.4h0M179.7 186.8h0M176.2 188.9h0M182.7 175.2h0" stroke="#ffffff" stroke-width="1.1" stroke-linecap="round" fill="none"/>
<path d="M175.2 180.6h0M171.1 175.1h0M167.2 180.6h0M173.2 172.1h0M169.4 178.0h0M170.8 169.5h0M179.6 177.9h0M170.7 182.4h0M173.8 177.1h0M176.3 180.4h0M179.1 174.7h0M174.6 181.6h0M176.0 173.2h0M166.0 179.5h0M167.6 184.8h0M171.0 175.7h0M176.1 177.5h0M172.7 165.3h0M170.3 187.8h0M181.4 180.8h0M168.7 177.8h0M176.7 166.4h0M173.4 175.3h0M178.6 187.0h0M181.6 182.2h0M169.4 187.7h0M175.1 172.6h0M167.4 177.0h0M177.2 185.8h0M183.5 168.3h0M181.1 169.8h0M172.0 167.0h0M168.8 179.9h0M175.7 174.7h0M168.0 172.1h0M182.1 166.4h0M166.8 177.1h0M166.6 183.6h0" stroke="#e8405a" stroke-width="1.1" stroke-linecap="round" fill="none"/>
<path d="M176.8 173.8h0M175.9 170.2h0M179.2 179.3h0M185.6 186.4h0M181.8 168.3h0M180.0 170.1h0M186.6 174.2h0M188.2 185.2h0M190.9 170.7h0M184.3 169.4h0M186.6 178.4h0M192.9 173.9h0M175.8 182.8h0M174.7 182.1h0M176.5 168.1h0M187.2 173.8h0M191.4 169.8h0M192.3 173.6h0M182.9 186.1h0M188.5 183.8h0M185.1 185.2h0M190.7 174.3h0M193.5 173.4h0M192.0 180.3h0M190.4 183.6h0M178.9 173.3h0M184.2 184.5h0M186.3 180.6h0M175.7 182.2h0M186.2 182.6h0M189.1 176.4h0M189.2 184.9h0M176.6 174.1h0M171.9 182.1h0M172.8 180.2h0M182.1 172.3h0M180.8 170.4h0M189.9 173.7h0M187.7 184.8h0M194.6 179.9h0M180.2 187.5h0M187.2 167.1h0M187.0 186.9h0M180.3 186.0h0M193.1 175.2h0M187.0 172.2h0M181.0 170.8h0M175.0 178.6h0M180.6 187.1h0M177.3 174.4h0M174.4 182.4h0M190.5 182.4h0M181.7 179.0h0" stroke="#34389a" stroke-width="1.1" stroke-linecap="round" fill="none"/>
<path d="M179.1 171.9h0M182.0 183.3h0M173.3 166.4h0M181.8 185.8h0M177.4 188.9h0M180.9 172.8h0M191.3 168.8h0M182.1 173.5h0M186.0 174.5h0M173.9 175.0h0M180.5 181.3h0M188.1 184.5h0M169.5 174.5h0M172.8 186.8h0M178.2 188.4h0M168.6 183.2h0M169.4 175.1h0M175.5 171.6h0M176.6 165.9h0M170.4 186.5h0M182.4 170.9h0M172.5 168.3h0M174.0 171.3h0M180.2 166.8h0M166.5 179.1h0M175.0 171.1h0M178.0 185.1h0M170.6 168.6h0M182.2 175.8h0M174.6 169.7h0M183.2 169.3h0M185.4 165.3h0M168.6 183.3h0M167.8 172.0h0M185.9 170.3h0M170.5 167.1h0M176.3 168.5h0M184.6 167.0h0M185.8 166.9h0M177.4 173.6h0M167.0 180.4h0M168.6 168.4h0M185.4 171.1h0M182.3 169.8h0M169.1 174.4h0M188.9 173.3h0M185.2 165.0h0M179.3 186.5h0M173.8 181.5h0M185.7 179.9h0M174.0 165.7h0M193.2 177.0h0M177.7 166.1h0M167.1 184.9h0M168.9 174.7h0M175.6 170.2h0M180.5 181.5h0M168.2 179.4h0M171.3 186.5h0M181.7 167.6h0M180.8 174.8h0M172.0 167.3h0M178.6 181.0h0M167.6 181.0h0M182.5 172.8h0M167.9 175.6h0M172.8 174.6h0M181.3 187.8h0M189.2 180.1h0M183.7 168.8h0M171.0 170.7h0M180.8 168.4h0M166.3 177.6h0M181.4 168.8h0M172.5 171.1h0M188.0 172.2h0M169.4 184.3h0M190.7 183.3h0M171.5 174.8h0M187.2 165.4h0M177.5 165.2h0M168.3 180.9h0M184.3 170.5h0M184.4 183.1h0M170.4 176.6h0M189.4 170.8h0M187.1 179.7h0M174.3 187.3h0M181.4 171.5h0M174.3 166.1h0M176.2 185.5h0M177.2 175.4h0M178.3 184.9h0M186.4 186.8h0" stroke="#d0143a" stroke-width="1.1" stroke-linecap="round" fill="none"/>
<path d="M185.2 173.9h0M186.5 178.4h0M193.9 176.3h0M184.4 175.4h0M177.1 176.0h0M180.7 174.2h0M183.8 187.5h0M187.5 174.5h0M176.6 172.5h0M193.2 181.1h0M189.1 185.8h0M191.8 170.8h0M170.7 182.9h0M188.1 185.4h0M186.9 171.2h0M189.3 180.1h0M189.9 168.8h0M193.0 180.6h0M186.3 166.1h0M192.5 184.3h0M189.0 183.5h0M188.0 174.5h0M176.2 189.7h0M190.1 169.6h0M181.0 164.8h0M188.6 184.5h0M180.5 176.7h0M188.1 170.7h0M178.3 164.8h0M192.8 182.7h0M185.5 172.8h0M191.5 177.2h0M181.1 175.2h0M172.7 181.2h0M182.6 185.1h0M191.5 181.4h0M185.6 183.4h0M183.6 183.0h0M188.7 172.7h0M185.0 182.3h0M179.0 174.6h0" stroke="#7a3a96" stroke-width="1.1" stroke-linecap="round" fill="none"/>
<path d="M179.3 171.8h0M170.6 174.3h0M172.5 175.9h0M189.9 178.1h0M178.8 165.3h0M168.6 172.3h0M175.7 185.2h0M180.7 183.7h0M182.3 165.2h0M167.3 181.5h0M193.0 178.3h0M192.0 181.4h0M190.0 170.0h0M182.5 173.2h0M177.0 179.7h0M168.3 169.2h0M180.0 167.9h0M171.4 176.7h0M181.1 171.5h0M167.7 170.5h0M172.8 187.5h0M167.3 177.8h0M178.9 170.4h0M170.6 180.4h0M177.9 164.0h0M177.5 169.8h0M184.1 170.7h0M192.4 181.8h0M181.3 186.5h0" stroke="#e8405a" stroke-width="1.1" stroke-linecap="round" fill="none"/>
<path d="M183.2 184.3h0M170.1 169.3h0M186.2 169.5h0M184.1 181.7h0M190.0 175.4h0M172.3 179.5h0M177.8 166.4h0M175.9 186.4h0M186.5 173.8h0M166.8 180.0h0M185.7 179.7h0M180.5 170.5h0M180.8 169.5h0M172.9 183.8h0M178.4 185.4h0M167.6 181.1h0M184.1 174.1h0M184.9 164.6h0M179.7 175.8h0M179.5 172.5h0M187.4 169.6h0M186.3 179.6h0M177.6 164.0h0M184.7 169.5h0M171.5 177.2h0M190.1 169.1h0M184.7 181.7h0" stroke="#ffffff" stroke-width="1.1" stroke-linecap="round" fill="none"/>
<path d="M173.7 179.2h0M172.2 182.1h0M177.9 178.0h0M173.1 177.5h0M187.2 165.9h0M186.5 176.4h0M173.2 188.9h0M172.7 165.6h0M186.1 168.8h0M171.1 183.1h0M182.5 164.1h0M167.8 186.1h0M173.8 172.2h0M182.2 173.4h0M185.4 165.1h0M167.1 178.9h0M174.4 183.6h0M172.4 173.4h0M174.9 166.1h0M184.2 177.5h0M189.8 180.7h0M171.6 189.2h0M176.1 173.3h0M166.0 179.3h0M174.7 182.0h0M181.0 165.7h0M176.8 175.1h0M186.5 176.6h0M183.4 174.8h0M173.0 174.7h0M178.7 180.9h0M186.1 176.9h0M172.4 187.4h0" stroke="#e8405a" stroke-width="1.1" stroke-linecap="round" fill="none"/>
<path d="M173.4 183.4h0M193.2 183.3h0M173.5 177.0h0M176.1 181.6h0M174.5 184.2h0M180.9 164.6h0M169.1 177.7h0M172.3 172.2h0M183.0 176.2h0M187.9 179.9h0M172.2 187.1h0M177.3 178.9h0M185.4 182.9h0M174.9 181.9h0M166.7 182.4h0M187.0 170.4h0M174.0 173.3h0M176.5 165.1h0M176.1 181.2h0M177.8 186.6h0M172.5 172.5h0M171.1 188.6h0M180.8 180.4h0M177.3 172.0h0" stroke="#ffffff" stroke-width="1.1" stroke-linecap="round" fill="none"/>
<path d="M186.8 174.4h0M177.6 173.0h0M176.7 184.5h0M166.4 177.4h0M176.9 185.5h0M177.0 164.5h0M180.7 174.4h0M175.4 180.3h0M169.5 176.9h0M174.1 186.9h0M185.4 165.1h0M170.3 166.1h0M176.2 170.2h0M180.5 184.2h0M169.8 170.9h0M169.4 170.5h0M166.8 175.8h0M171.5 185.6h0M171.1 188.9h0M183.8 166.9h0M170.2 171.5h0M173.1 183.1h0M191.5 171.0h0M172.3 187.6h0M181.2 169.7h0M172.4 168.3h0M174.9 187.8h0M182.4 179.6h0M183.4 169.1h0M168.9 182.0h0M173.9 187.3h0M171.6 171.3h0M171.8 182.9h0M172.8 169.2h0M174.4 179.3h0M168.3 178.5h0M180.2 172.9h0M168.4 177.5h0M171.8 180.1h0M171.0 171.7h0M169.6 175.6h0M181.0 164.7h0M192.5 178.2h0M172.0 174.3h0M168.9 178.1h0M179.2 187.2h0M166.3 177.0h0M173.7 185.5h0M169.3 177.1h0M185.2 164.1h0M172.0 180.4h0M187.4 170.5h0M176.0 175.3h0M190.0 176.4h0M180.8 178.9h0M183.6 186.3h0M177.5 170.0h0M194.3 180.3h0M183.9 171.2h0M172.0 168.3h0M175.3 175.2h0M178.0 173.7h0M173.5 185.5h0M170.5 186.0h0M183.4 183.7h0M176.2 180.5h0M181.5 174.0h0M167.4 172.0h0M169.4 170.9h0M176.0 172.5h0M167.2 182.9h0M169.2 187.4h0M169.1 185.5h0M178.4 164.2h0M173.7 182.0h0M172.6 186.7h0M179.0 171.7h0M169.5 171.2h0M187.4 168.0h0M173.9 171.0h0" stroke="#d0143a" stroke-width="1.1" stroke-linecap="round" fill="none"/>
<path d="M177.2 183.6h0M170.8 172.8h0M193.0 178.0h0M177.1 172.7h0M174.3 180.8h0M180.9 164.8h0M184.0 186.6h0M169.8 180.8h0M183.5 172.2h0M186.8 166.3h0M180.4 177.9h0M188.1 171.6h0M185.2 168.3h0M192.3 184.4h0M181.9 179.8h0M186.0 164.8h0M179.5 170.5h0M172.9 188.5h0M186.6 177.9h0M179.1 182.1h0M171.0 186.5h0M184.8 180.7h0M187.8 170.4h0M190.0 176.7h0M181.5 177.7h0M182.7 185.2h0M171.7 168.5h0M173.0 178.9h0M174.8 166.2h0M179.0 167.5h0M192.3 178.0h0M183.6 177.0h0M179.9 170.7h0M194.2 179.9h0M186.1 170.2h0M186.1 169.4h0M171.1 188.1h0M176.2 171.3h0M194.3 180.4h0M181.9 182.0h0M184.4 172.5h0M191.6 183.8h0M190.0 178.5h0M192.7 176.2h0M192.6 172.8h0M178.8 164.4h0M185.3 186.3h0M190.3 176.8h0M188.0 168.9h0M179.3 187.0h0M193.6 182.4h0M185.5 165.8h0M193.1 179.8h0M191.6 177.1h0M174.5 173.2h0M191.6 173.5h0M187.0 171.1h0M183.2 174.3h0" stroke="#34389a" stroke-width="1.1" stroke-linecap="round" fill="none"/>
<path d="M182.8 173.2h0M171.5 169.6h0M181.0 172.7h0M182.7 176.9h0M178.1 188.5h0M189.7 176.5h0M184.8 174.1h0M187.0 182.5h0M188.9 181.9h0M177.4 168.4h0M168.7 177.5h0M188.7 181.8h0M179.5 178.0h0M172.7 175.1h0M183.2 170.5h0M190.0 174.9h0M174.6 179.7h0M179.4 178.1h0M185.1 180.8h0M193.1 180.6h0M182.9 175.0h0M191.8 173.9h0M191.5 173.3h0M186.1 182.9h0M178.7 174.7h0M191.0 171.6h0M183.0 183.2h0M177.7 167.3h0M185.9 183.6h0M175.8 181.2h0M183.2 167.0h0M177.2 180.9h0M179.9 173.1h0M181.7 174.7h0M180.4 174.7h0M189.6 183.9h0M170.1 182.6h0M175.0 175.2h0M183.5 186.5h0M187.2 184.3h0M179.6 177.7h0M180.6 175.9h0M189.7 175.8h0M193.8 177.7h0M182.9 178.8h0M185.7 176.2h0M186.8 168.6h0M178.4 185.1h0M192.3 178.9h0" stroke="#7a3a96" stroke-width="1.1" stroke-linecap="round" fill="none"/>
<path d="M189.0 166.6h0M187.5 180.8h0M180.6 164.4h0M185.2 167.5h0M184.6 174.7h0M187.2 166.3h0M181.9 172.4h0M191.1 179.6h0M173.1 176.4h0M191.6 183.8h0M182.1 185.6h0M160.0 187.3h0M173.7 192.2h0M169.0 192.5h0M170.6 191.7h0M170.4 190.3h0M163.9 186.1h0M161.8 187.3h0M164.9 186.6h0M171.3 190.3h0M170.6 191.7h0M170.5 188.0h0M169.5 193.8h0M170.3 192.2h0M173.0 189.4h0M171.0 195.4h0M158.3 188.0h0M169.5 187.1h0M164.0 189.8h0M171.6 191.4h0M160.8 186.4h0M166.9 188.5h0M172.8 193.5h0M169.1 191.5h0M160.0 187.2h0M173.1 191.5h0M166.6 185.5h0M171.3 190.1h0M164.0 189.8h0M165.3 189.8h0M161.0 188.1h0" stroke="#34389a" stroke-width="1.1" stroke-linecap="round" fill="none"/>
<path d="M189.3 182.4h0M177.4 173.3h0M188.1 167.8h0M194.1 180.0h0M191.8 184.4h0M182.2 175.9h0M183.9 175.0h0M189.7 175.8h0M189.5 170.3h0M181.6 173.2h0M181.5 179.2h0M180.9 185.3h0M177.4 178.6h0M175.5 173.0h0M171.1 195.2h0M171.6 192.6h0M166.8 187.5h0M164.8 185.1h0M171.4 187.6h0M171.6 189.9h0M162.0 188.5h0M170.9 194.3h0M161.5 187.0h0M166.9 190.3h0M163.4 187.3h0M169.9 187.1h0M160.1 186.4h0M173.5 191.5h0M169.1 190.8h0M167.8 189.5h0M165.3 190.7h0M159.9 189.9h0M171.2 190.0h0M171.8 192.8h0M169.1 188.3h0M172.2 187.7h0M160.1 189.9h0M168.9 189.2h0M173.6 190.1h0M167.1 191.4h0M169.8 193.1h0M168.6 189.7h0" stroke="#7a3a96" stroke-width="1.1" stroke-linecap="round" fill="none"/>
<path d="M171.6 180.4h0M171.4 166.6h0M170.0 178.9h0M181.0 168.2h0M174.8 174.5h0M175.9 182.1h0M170.9 169.4h0M179.4 167.3h0M169.4 178.0h0M174.1 175.0h0M177.9 172.1h0M180.8 173.1h0M189.3 177.7h0M189.6 185.8h0M168.1 182.5h0M192.9 176.0h0M186.8 174.8h0M190.6 174.1h0M171.5 175.6h0M192.4 170.6h0M177.0 167.0h0M185.4 182.1h0M178.5 165.7h0M165.6 188.7h0M172.7 194.5h0M168.1 192.1h0M168.6 187.2h0M164.2 186.4h0M160.3 186.0h0M159.2 189.2h0M170.5 191.7h0M161.2 185.9h0M165.2 187.9h0M166.6 188.9h0M164.9 190.3h0M172.8 194.8h0M170.8 189.3h0M169.9 193.3h0M166.6 185.9h0M169.1 186.0h0M165.0 189.6h0M163.4 186.1h0M173.9 192.6h0M169.9 192.9h0M172.4 193.3h0M169.7 189.4h0M171.6 192.1h0M162.0 187.8h0M165.5 190.7h0M165.7 189.7h0M170.4 193.1h0M167.4 191.6h0M166.7 190.3h0M170.6 192.4h0M167.5 191.9h0M173.1 190.9h0M170.3 194.0h0M171.3 189.2h0M163.8 190.4h0M162.4 187.0h0M170.0 195.1h0M160.3 189.2h0M165.3 187.3h0M165.7 185.2h0M158.9 188.8h0M163.6 186.9h0" stroke="#d0143a" stroke-width="1.1" stroke-linecap="round" fill="none"/>
<path d="M187.1 186.5h0M176.4 181.6h0M169.7 172.0h0M180.7 172.7h0M169.2 182.3h0M168.9 174.5h0M174.9 171.9h0M176.5 184.0h0M170.3 181.9h0M168.8 186.2h0M172.4 193.7h0M160.8 190.0h0M167.2 189.8h0M169.6 186.6h0M166.4 189.3h0M170.7 189.1h0M162.2 185.3h0M162.0 184.9h0M171.5 189.5h0M163.9 186.5h0M170.2 189.4h0M166.6 190.9h0M166.8 190.0h0M164.8 185.8h0M162.5 188.8h0M167.1 189.6h0M160.4 189.7h0M166.9 187.5h0M170.3 190.5h0M171.3 195.7h0M170.5 193.7h0M173.7 192.2h0" stroke="#e8405a" stroke-width="1.1" stroke-linecap="round" fill="none"/>
<path d="M184.2 184.5h0M184.5 170.4h0M183.9 182.3h0M179.0 187.2h0M184.5 182.7h0M187.5 171.0h0M189.5 169.2h0M175.4 190.2h0M184.3 165.6h0M176.3 165.7h0M173.8 190.2h0M166.3 189.8h0M170.6 194.8h0M170.1 188.5h0M170.5 189.0h0M164.4 188.1h0M168.8 193.2h0M172.7 190.5h0M168.6 186.1h0M166.9 190.7h0M162.0 189.4h0M163.8 185.7h0M164.0 189.0h0M170.1 192.7h0M173.2 194.6h0M171.2 188.1h0M170.9 194.8h0" stroke="#ffffff" stroke-width="1.1" stroke-linecap="round" fill="none"/>
<path d="M173.3 165.3h0M172.8 165.2h0M175.2 164.2h0M175.2 165.2h0M182.2 164.3h0M184.6 164.1h0M188.9 165.4h0M187.9 165.1h0M190.4 166.1h0M191.7 169.1h0M191.7 171.3h0M193.2 172.3h0M194.6 177.4h0M193.7 178.4h0M194.7 181.4h0M194.4 183.1h0M189.3 186.1h0M192.7 184.4h0M188.6 186.1h0M185.6 188.0h0M184.0 188.3h0M183.7 188.5h0M177.6 189.9h0M179.1 188.4h0M175.2 189.2h0M173.6 189.1h0M169.3 187.8h0M170.0 189.4h0M167.6 186.4h0M167.9 185.7h0M167.2 178.8h0M165.7 176.6h0M165.8 175.6h0M165.6 175.6h0M168.6 167.4h0M166.6 169.0h0" stroke="#9b1b59" stroke-width="0.9" stroke-linecap="round" fill="none"/>
<path d="M171.7 191.7h0M171.1 188.6h0M172.1 193.5h0M170.7 194.4h0M172.9 206.9h0M168.4 205.1h0M166.7 210.9h0M173.7 202.7h0M170.5 214.0h0M172.3 208.7h0M176.0 204.8h0M171.5 212.7h0M168.6 212.8h0M171.2 211.1h0M171.7 214.4h0M171.3 206.4h0M169.4 207.0h0M173.4 200.7h0M171.5 202.4h0M170.0 210.6h0M169.7 211.5h0M171.7 199.5h0M170.0 207.2h0M167.4 207.2h0M173.5 204.5h0M176.6 209.9h0M169.9 207.0h0M168.2 210.7h0M171.0 201.1h0M171.9 197.4h0M173.1 212.5h0M167.7 213.4h0M173.7 200.7h0M169.1 202.5h0M171.0 199.7h0M170.7 198.9h0M172.8 200.9h0M169.8 202.7h0M174.3 202.4h0M176.5 205.9h0M175.1 206.5h0M168.5 204.0h0M171.1 204.1h0M170.3 210.2h0M176.9 209.5h0M175.4 204.3h0M172.4 202.9h0M168.6 214.6h0M172.8 214.3h0M171.5 203.7h0M171.2 206.6h0M175.1 206.8h0M174.4 205.5h0M171.3 206.4h0M169.4 206.1h0M168.8 209.7h0M173.3 208.0h0M171.4 211.2h0M171.4 213.1h0M176.3 212.2h0M172.0 211.0h0M169.0 202.6h0M170.3 200.1h0M171.5 208.2h0M174.4 206.1h0M171.0 211.4h0M172.5 203.0h0M170.5 205.1h0M173.1 206.0h0M172.5 197.2h0M166.4 209.8h0" stroke="#34389a" stroke-width="1.1" stroke-linecap="round" fill="none"/>
<path d="M166.2 188.1h0M172.7 195.2h0M171.3 193.4h0M163.3 189.1h0M170.0 195.1h0M162.1 186.5h0M169.6 187.7h0M163.1 185.2h0M163.3 188.5h0M162.4 187.7h0M172.1 204.4h0M174.4 211.5h0M171.8 198.6h0M171.3 203.3h0M173.0 199.9h0M174.1 206.6h0M169.8 203.1h0M173.7 204.0h0M174.4 209.4h0M170.6 206.2h0M174.3 205.2h0M172.0 200.6h0M172.0 210.5h0M174.1 202.1h0M167.4 209.5h0M177.1 208.3h0M173.5 205.6h0M170.7 200.5h0M175.9 209.0h0M167.0 210.8h0M170.9 208.3h0M170.7 198.7h0M174.9 205.1h0M173.6 200.1h0M166.9 211.3h0M172.8 204.1h0M171.5 213.0h0M173.3 212.5h0M171.0 197.1h0M171.3 206.7h0M171.2 198.8h0M175.8 207.7h0" stroke="#d0143a" stroke-width="1.1" stroke-linecap="round" fill="none"/>
<path d="M166.4 185.5h0M168.6 193.2h0M160.2 187.5h0M158.4 187.7h0M168.5 190.3h0M163.8 189.3h0M173.7 206.0h0M173.9 209.9h0M166.5 209.8h0M172.9 207.4h0M169.1 210.4h0M170.9 214.9h0M175.0 212.1h0M169.8 203.3h0M170.1 213.1h0M167.6 213.9h0M171.0 198.3h0M170.7 198.1h0M172.7 197.9h0M172.5 212.6h0M168.1 207.7h0M174.0 201.4h0" stroke="#e8405a" stroke-width="1.1" stroke-linecap="round" fill="none"/>
<path d="M163.1 186.8h0M164.8 189.8h0M172.2 194.2h0M165.5 185.2h0M167.7 187.5h0M165.1 189.4h0M168.8 212.4h0M167.9 207.0h0M174.2 208.4h0M167.8 209.1h0M174.3 212.1h0M168.1 211.1h0M168.0 208.7h0M168.9 212.2h0M169.3 202.4h0M169.8 207.3h0M174.4 211.4h0M168.7 204.7h0M173.1 197.4h0M170.8 212.6h0M172.4 214.5h0M171.2 200.7h0M171.3 201.9h0M171.1 211.8h0M169.1 212.8h0M170.0 208.0h0M171.7 202.3h0M174.9 211.6h0M171.1 201.5h0M176.2 212.6h0M167.1 207.4h0M172.5 203.4h0M166.8 212.3h0M167.2 209.0h0M168.9 211.8h0M171.3 200.0h0M170.1 199.4h0M170.6 199.8h0M170.6 209.1h0M170.0 207.9h0M175.2 209.6h0M175.8 207.4h0M171.9 203.0h0M173.2 200.4h0M171.4 206.8h0M169.3 204.6h0M171.6 214.1h0M174.6 203.4h0M170.9 211.3h0M173.1 199.9h0M173.1 202.8h0M175.4 206.2h0M174.5 207.0h0M177.5 209.2h0M173.0 206.3h0M173.2 202.8h0M175.4 205.2h0M169.8 209.5h0M169.7 201.8h0M169.7 209.6h0M172.5 205.5h0M171.3 211.0h0M175.9 209.8h0M169.1 209.6h0" stroke="#7a3a96" stroke-width="1.1" stroke-linecap="round" fill="none"/>
<path d="M167.4 187.2h0M163.3 184.9h0M169.5 187.9h0M163.2 189.8h0M168.4 209.0h0M172.0 209.8h0M173.1 202.7h0M168.8 213.4h0M171.2 212.3h0M170.3 214.2h0M168.0 208.8h0M175.3 206.6h0M169.5 203.7h0M174.9 208.8h0M168.8 205.8h0M171.7 201.0h0M172.7 214.0h0M171.4 207.1h0M171.9 213.0h0M169.3 212.0h0M176.1 206.1h0" stroke="#ffffff" stroke-width="1.1" stroke-linecap="round" fill="none"/>
<path d="M158.9 186.4h0M156.9 188.7h0M160.4 184.9h0M159.2 185.7h0M164.4 184.6h0M163.9 185.2h0M167.5 185.1h0M171.8 186.0h0M172.7 189.5h0M173.3 189.4h0M173.1 189.5h0M173.9 191.2h0M174.2 194.7h0M174.3 194.2h0M171.8 196.2h0M170.8 195.2h0M167.2 192.9h0M169.7 194.9h0M167.2 191.8h0M162.9 191.3h0M163.7 191.8h0M160.0 189.8h0M156.1 188.8h0M159.4 189.5h0" stroke="#981c5a" stroke-width="0.9" stroke-linecap="round" fill="none"/>
<path d="M176.2 209.2h0M170.3 200.3h0M176.6 205.8h0M171.3 204.6h0M169.3 211.3h0M172.9 207.7h0M167.6 206.3h0M168.3 209.3h0M172.1 209.8h0M169.7 204.2h0M166.9 209.2h0M176.0 207.7h0M169.6 201.8h0M169.1 201.9h0M171.1 202.7h0M168.8 212.6h0M172.1 206.5h0M231.0 165.1h0M234.2 166.7h0M237.8 162.7h0M235.2 170.0h0M233.6 168.7h0M237.8 165.1h0M232.7 166.6h0M237.3 166.4h0M233.5 165.2h0M238.9 168.7h0M235.0 169.4h0M232.3 166.6h0M234.8 167.6h0M229.9 165.1h0M232.0 164.5h0M234.0 163.6h0M230.9 164.0h0M240.4 166.7h0M241.1 166.5h0M235.5 170.1h0M232.8 163.9h0M232.8 165.3h0M239.8 168.1h0M238.5 165.7h0M238.1 164.4h0M233.2 163.2h0M238.4 169.6h0M240.8 166.4h0M232.9 163.4h0M237.9 167.3h0M236.4 163.6h0M235.7 165.0h0M240.2 167.8h0M235.0 185.4h0M233.6 186.7h0M236.7 182.0h0M242.1 193.8h0M237.9 186.4h0" stroke="#7a3a96" stroke-width="1.1" stroke-linecap="round" fill="none"/>
<path d="M170.0 202.2h0M169.0 206.3h0M175.5 209.4h0M166.7 212.5h0M238.3 165.4h0M231.0 165.0h0M234.1 167.2h0M240.7 167.1h0M235.1 168.2h0M232.6 165.4h0M233.9 167.6h0M237.5 162.6h0M240.0 167.8h0M240.6 165.3h0M239.4 166.5h0M239.7 163.0h0M239.6 193.8h0M243.9 193.0h0M237.3 183.2h0" stroke="#ffffff" stroke-width="1.1" stroke-linecap="round" fill="none"/>
<path d="M170.9 213.5h0M168.2 212.8h0M169.2 202.3h0M167.0 213.4h0M176.3 207.7h0M169.5 209.2h0M166.9 208.3h0M172.7 200.6h0M174.7 207.5h0M176.4 206.3h0M172.6 208.2h0M173.5 206.0h0M171.0 197.4h0M174.3 212.2h0M174.1 205.0h0M236.1 166.6h0M240.3 163.9h0M235.8 166.8h0M233.7 166.9h0M240.1 169.1h0M235.4 167.5h0M234.5 168.1h0M234.1 167.4h0M233.0 165.1h0M233.4 168.1h0M237.9 163.3h0M237.3 168.2h0M235.4 166.6h0M236.6 166.3h0M235.6 169.3h0M234.5 165.2h0M232.4 166.3h0M234.0 162.9h0M233.2 163.9h0M238.3 166.7h0M239.6 164.0h0M232.8 166.3h0M230.1 165.2h0M232.2 164.5h0M239.6 168.5h0M235.4 168.6h0M238.6 169.9h0M237.0 162.4h0M238.8 164.8h0M235.6 169.8h0M234.9 164.2h0M231.5 165.3h0M234.0 167.1h0M241.0 165.3h0M232.3 164.5h0M234.5 168.0h0M238.2 165.9h0M240.1 164.6h0M239.4 194.5h0M243.7 194.9h0M237.0 187.0h0M243.7 195.5h0M246.4 194.6h0" stroke="#34389a" stroke-width="1.1" stroke-linecap="round" fill="none"/>
<path d="M171.1 212.1h0M177.3 210.4h0M167.5 207.0h0M172.4 213.2h0M177.4 210.7h0M172.6 201.3h0M171.5 212.8h0M174.8 210.8h0M176.5 206.2h0M175.2 204.6h0M169.4 210.5h0M236.5 167.8h0M236.5 166.2h0M232.0 164.8h0M238.5 169.5h0M238.7 164.1h0M233.3 168.0h0M239.2 164.0h0M239.1 167.6h0M237.7 168.4h0M233.0 164.0h0M239.4 166.5h0M238.9 166.3h0M238.4 162.9h0M237.2 163.0h0M235.7 162.9h0M237.7 163.7h0M235.3 167.3h0M238.4 169.0h0M239.5 169.1h0M235.0 163.7h0M238.4 168.7h0M233.2 166.2h0M235.9 185.4h0M244.7 192.7h0M239.2 190.4h0M241.5 194.7h0M240.4 192.5h0M235.4 183.4h0M245.1 193.6h0" stroke="#d0143a" stroke-width="1.1" stroke-linecap="round" fill="none"/>
<path d="M172.1 203.3h0M167.3 205.9h0M173.3 202.7h0M231.9 165.5h0M236.4 165.9h0M240.4 168.6h0M233.3 168.3h0M236.7 167.7h0M237.0 163.0h0M237.6 163.2h0M237.7 166.6h0M235.8 168.4h0M235.6 164.8h0M231.1 164.6h0M239.8 164.0h0M236.7 184.4h0M237.1 187.0h0M238.1 190.6h0M242.3 191.6h0M234.5 191.0h0M243.5 196.2h0M235.1 186.8h0M233.2 182.7h0M239.8 195.3h0" stroke="#e8405a" stroke-width="1.1" stroke-linecap="round" fill="none"/>
<path d="M172.0 197.3h0M172.5 195.9h0M173.5 199.4h0M172.7 199.5h0M175.6 204.0h0M174.5 202.3h0M176.2 206.9h0M177.4 206.1h0M177.2 210.2h0M178.0 208.8h0M175.5 214.8h0M175.9 213.7h0M171.0 215.6h0M172.9 216.0h0M169.5 216.0h0M166.9 213.9h0M166.5 210.7h0M165.2 211.0h0M167.5 206.4h0M167.5 205.9h0M169.3 201.1h0M169.4 201.2h0M169.4 197.3h0M169.2 199.1h0M228.7 163.6h0M231.2 162.5h0M232.6 163.1h0M231.2 163.1h0M236.7 163.1h0M236.6 162.6h0M239.1 162.3h0M239.5 162.9h0M240.9 164.4h0M241.4 164.2h0M240.6 168.8h0M241.7 167.5h0M237.9 170.6h0M240.9 169.9h0M236.4 170.3h0M236.2 170.4h0M233.2 169.0h0M234.5 169.6h0M232.8 166.3h0M232.5 165.7h0M230.0 165.6h0M231.7 165.3h0M229.6 164.2h0M230.1 164.8h0" stroke="#6f2273" stroke-width="0.9" stroke-linecap="round" fill="none"/>
<path d="M237.3 188.3h0M234.9 182.1h0M236.5 181.4h0M242.0 196.3h0M246.1 194.0h0M240.0 189.3h0M239.3 194.6h0M236.6 189.8h0M243.1 194.9h0M241.5 191.0h0M235.0 189.0h0M236.5 185.1h0M236.3 189.2h0M239.0 192.5h0M235.8 181.5h0M237.6 194.4h0M232.8 186.6h0M235.1 180.9h0M237.6 189.2h0M243.2 194.3h0M238.3 187.1h0M241.4 192.9h0M237.1 185.5h0M241.5 194.7h0M242.8 192.5h0M233.1 183.7h0M234.6 185.1h0M236.5 185.0h0M238.9 194.0h0M233.9 189.0h0M236.4 180.9h0M236.1 186.1h0M237.7 188.9h0M238.7 190.0h0M235.4 190.4h0M245.9 194.0h0M234.9 186.3h0M234.7 180.6h0M238.5 188.1h0M246.1 195.9h0M244.9 193.2h0M238.6 191.2h0M235.3 188.8h0M236.5 186.0h0M247.0 201.7h0M250.4 192.9h0M257.2 194.1h0M247.1 200.6h0M249.4 191.9h0M247.9 200.8h0M250.6 201.2h0" stroke="#7a3a96" stroke-width="1.1" stroke-linecap="round" fill="none"/>
<path d="M240.8 192.8h0M241.9 194.0h0M240.4 193.5h0M234.5 180.9h0M235.7 190.5h0M239.1 189.2h0M240.2 190.4h0M233.3 184.0h0M234.1 184.1h0M234.4 181.8h0M236.9 185.3h0M238.2 188.8h0M235.4 182.2h0M236.8 182.7h0M244.8 195.3h0M244.8 196.6h0M245.7 194.4h0M235.7 185.6h0M236.6 184.7h0M234.6 186.4h0M244.1 192.7h0M242.0 193.1h0M236.7 192.6h0M243.2 194.1h0M239.8 189.2h0M235.5 180.1h0M236.3 187.0h0M237.6 194.0h0M242.6 193.3h0M239.3 188.6h0M256.2 190.5h0M250.4 197.1h0M252.6 190.2h0M250.5 202.0h0M249.2 200.0h0M251.0 199.2h0M256.7 193.9h0M254.5 190.4h0M252.0 200.8h0M257.2 192.9h0M255.6 189.6h0M260.3 190.1h0M258.3 189.7h0M247.8 202.4h0M248.2 200.2h0M254.3 191.9h0M253.2 196.6h0M251.7 193.0h0M251.4 201.1h0M259.4 186.7h0M249.9 201.6h0M248.0 200.9h0M251.1 194.2h0M259.9 190.9h0M250.6 201.6h0M250.3 199.6h0M254.3 190.3h0M255.4 192.1h0M250.3 193.7h0M261.5 191.1h0M249.7 199.7h0M249.3 197.2h0M257.4 188.8h0M250.0 201.1h0M253.3 195.3h0M250.0 191.1h0" stroke="#d0143a" stroke-width="1.1" stroke-linecap="round" fill="none"/>
<path d="M234.8 184.9h0M242.5 191.5h0M237.7 188.2h0M241.4 195.5h0M233.7 181.5h0M242.1 193.9h0M237.1 189.2h0M241.0 195.7h0M242.3 196.0h0M239.3 194.4h0M240.7 190.6h0M237.3 190.5h0M234.0 185.8h0M240.8 194.6h0M243.6 194.2h0M243.8 192.4h0M239.9 191.5h0M234.8 190.5h0M235.9 189.2h0M241.5 192.6h0M242.5 196.1h0M235.7 189.4h0M234.2 188.8h0M233.3 186.9h0M242.6 196.3h0M240.0 191.2h0M238.4 191.4h0M234.5 182.1h0M235.0 180.7h0M236.0 192.8h0M236.2 186.9h0M234.5 181.6h0M235.7 184.4h0M239.9 192.7h0M235.8 190.2h0M243.7 192.8h0M241.1 190.5h0M236.9 186.1h0M236.9 187.4h0M236.1 191.1h0M243.2 192.4h0M238.1 193.9h0M237.1 191.3h0M234.8 180.0h0M235.1 185.0h0M237.9 189.8h0M243.2 196.3h0M246.9 198.8h0M249.4 191.4h0M247.1 197.6h0M247.0 202.2h0M248.9 200.9h0" stroke="#34389a" stroke-width="1.1" stroke-linecap="round" fill="none"/>
<path d="M237.2 191.4h0M238.8 190.4h0M245.0 195.5h0M236.1 187.7h0M237.9 193.3h0M237.8 189.5h0M245.9 194.2h0M238.9 191.8h0M235.2 189.6h0M241.0 192.1h0M245.0 195.7h0M261.4 187.7h0M246.7 194.6h0M260.2 189.3h0M254.9 192.2h0M259.3 191.4h0M250.6 192.0h0M250.8 194.1h0M260.2 187.1h0M248.4 194.5h0M248.6 196.9h0M255.0 195.9h0M256.4 190.8h0M253.3 196.7h0M247.7 198.0h0M251.2 194.8h0M261.1 189.4h0" stroke="#e8405a" stroke-width="1.1" stroke-linecap="round" fill="none"/>
<path d="M235.6 191.8h0M245.3 196.1h0M235.5 189.7h0M238.3 190.1h0M245.7 196.2h0M234.8 183.8h0M243.2 192.1h0M238.4 191.8h0M237.9 188.5h0M241.5 195.1h0M235.2 182.8h0M236.8 192.8h0M237.8 188.6h0M245.0 192.8h0M240.0 193.4h0M234.5 181.9h0M237.1 189.2h0M259.5 189.9h0M252.2 200.1h0M252.0 194.9h0M247.0 198.5h0M257.0 190.8h0M255.9 188.4h0M260.3 191.5h0" stroke="#ffffff" stroke-width="1.1" stroke-linecap="round" fill="none"/>
<path d="M235.6 180.0h0M235.7 179.0h0M237.9 179.1h0M236.8 181.6h0M237.6 185.3h0M238.3 186.4h0M240.6 189.2h0M239.5 188.7h0M241.7 190.9h0M245.3 193.8h0M246.8 195.7h0M247.0 193.7h0M244.9 197.8h0M246.7 196.6h0M242.0 197.0h0M238.6 194.9h0M235.5 191.8h0M238.7 195.0h0M233.5 189.5h0M234.5 187.0h0M232.7 187.0h0M232.3 186.7h0M234.4 180.9h0M233.6 180.5h0" stroke="#7a206c" stroke-width="0.9" stroke-linecap="round" fill="none"/>
<path d="M249.4 194.7h0M252.0 193.1h0M252.7 197.5h0M254.6 195.1h0M260.0 193.5h0M248.1 195.9h0M258.7 188.2h0M258.0 191.0h0M260.4 187.7h0M251.8 198.5h0M254.5 191.5h0M256.0 191.2h0M249.1 193.3h0M261.6 188.1h0M259.2 193.8h0M255.4 190.8h0M262.0 188.2h0M251.4 194.2h0M258.8 193.1h0M257.3 187.6h0M249.3 193.4h0M262.4 189.6h0M256.9 191.1h0M248.6 195.7h0M252.7 190.6h0M254.2 190.1h0M254.5 192.5h0M252.7 197.1h0M253.6 193.2h0M261.5 187.8h0M250.0 193.3h0M260.3 193.3h0M258.0 188.8h0M251.3 191.7h0M247.2 199.9h0M256.7 190.0h0M248.1 194.9h0M257.9 193.8h0M253.2 192.3h0M257.4 188.7h0M251.1 195.9h0M251.4 194.5h0M259.0 186.6h0M254.4 195.7h0M253.6 194.8h0M256.9 194.4h0M255.0 195.6h0M249.9 197.3h0M252.8 190.3h0M248.8 192.0h0M252.9 195.8h0M252.1 195.8h0M257.8 193.6h0M249.1 199.6h0M250.6 191.1h0M256.1 194.2h0M253.6 192.5h0M257.6 187.4h0M254.0 191.0h0M253.1 190.5h0M257.4 188.4h0M258.5 193.5h0M259.5 187.2h0M249.8 194.2h0M248.4 196.4h0M251.4 195.6h0M252.6 199.2h0M254.5 190.8h0M247.4 198.8h0M260.8 189.2h0M261.6 190.5h0M256.1 192.6h0M197.4 254.1h0M197.4 254.3h0M198.3 266.6h0M197.1 258.2h0M193.1 255.5h0M198.1 259.9h0M198.7 264.1h0M193.1 261.7h0M196.2 264.0h0" stroke="#d0143a" stroke-width="1.1" stroke-linecap="round" fill="none"/>
<path d="M253.9 192.0h0M251.9 194.6h0M254.5 196.5h0M249.3 191.9h0M252.5 192.6h0M249.5 195.6h0M247.9 201.6h0M251.8 197.5h0M254.3 193.9h0M249.7 193.3h0M251.5 195.0h0M248.6 193.2h0M252.2 200.1h0M251.4 196.1h0M255.1 193.8h0M249.4 200.5h0M194.9 257.9h0M199.2 255.5h0M200.1 265.6h0M201.8 257.9h0M193.4 259.9h0M197.6 263.3h0M194.5 260.5h0M196.9 259.1h0M195.3 257.8h0M197.3 261.1h0M197.2 253.6h0M195.7 254.0h0M195.1 265.4h0M198.9 261.4h0M195.3 263.6h0M196.1 265.3h0M201.0 257.9h0M196.9 257.9h0" stroke="#7a3a96" stroke-width="1.1" stroke-linecap="round" fill="none"/>
<path d="M257.4 189.5h0M261.6 187.5h0M247.8 194.7h0M254.8 192.5h0M247.8 192.4h0M251.6 192.9h0M253.8 195.9h0M249.2 201.9h0M258.6 194.2h0M255.5 190.3h0M260.2 189.9h0M250.1 191.9h0M249.2 196.1h0M258.3 193.5h0M260.6 192.6h0M257.6 188.2h0M260.7 188.9h0M260.2 193.3h0M257.6 191.7h0M247.8 196.8h0M247.0 197.9h0M248.8 195.1h0M262.1 188.6h0M254.7 189.2h0M254.3 194.4h0M259.2 193.3h0M255.7 192.3h0M250.1 196.4h0M253.4 193.1h0M261.0 192.4h0M252.9 190.6h0M195.0 266.0h0M198.2 253.1h0M199.5 259.2h0M199.1 255.7h0M198.5 256.0h0" stroke="#e8405a" stroke-width="1.1" stroke-linecap="round" fill="none"/>
<path d="M252.9 192.2h0M250.7 194.0h0M259.7 186.8h0M253.7 193.9h0M252.5 198.3h0M250.6 191.4h0M248.5 195.3h0M251.0 200.2h0M262.0 187.6h0M259.5 188.5h0M249.1 201.9h0M257.2 194.8h0M256.2 188.1h0M247.8 201.3h0M258.6 191.3h0M259.9 192.5h0M251.6 192.8h0M248.6 201.1h0M250.3 198.6h0M249.4 195.0h0M246.6 194.4h0M195.9 254.4h0M196.7 262.6h0M196.3 264.1h0M194.8 260.3h0M199.0 263.4h0M195.4 265.7h0M196.9 264.9h0M196.7 263.1h0M194.0 253.6h0" stroke="#ffffff" stroke-width="1.1" stroke-linecap="round" fill="none"/>
<path d="M247.6 194.0h0M248.1 199.9h0M249.2 196.6h0M246.9 200.8h0M250.6 193.0h0M252.3 196.9h0M257.9 191.1h0M248.5 200.5h0M247.6 193.4h0M249.4 196.1h0M247.5 200.4h0M253.3 192.5h0M256.4 191.3h0M250.2 198.9h0M249.9 194.5h0M250.1 195.7h0M251.3 200.7h0M247.7 196.3h0M194.4 259.2h0M194.5 258.1h0M201.5 259.9h0M201.3 257.8h0M201.8 262.8h0M192.9 256.0h0M199.0 255.2h0M195.8 266.0h0M202.1 264.4h0M196.7 260.9h0M194.5 259.0h0M194.3 254.3h0M193.2 263.9h0M196.8 263.6h0M194.2 257.1h0" stroke="#34389a" stroke-width="1.1" stroke-linecap="round" fill="none"/>
<path d="M248.6 190.8h0M248.4 191.6h0M248.6 190.6h0M250.7 191.7h0M253.7 188.4h0M252.5 189.2h0M256.0 188.9h0M258.2 186.9h0M259.9 186.4h0M262.0 188.2h0M261.1 187.6h0M262.9 188.4h0M263.0 191.9h0M259.9 193.7h0M256.8 195.1h0M258.1 194.2h0M255.8 196.3h0M255.1 196.2h0M252.8 200.9h0M253.6 199.4h0M252.2 202.3h0M251.6 202.4h0M248.1 201.6h0M249.0 202.8h0M246.5 200.3h0M245.5 201.2h0M246.5 197.6h0M246.0 197.0h0M246.5 195.5h0M246.8 194.4h0" stroke="#b1184c" stroke-width="0.9" stroke-linecap="round" fill="none"/>
<path d="M197.0 255.6h0M203.0 261.4h0M193.8 257.5h0M200.8 262.7h0M196.5 258.7h0M192.9 262.5h0M198.1 263.1h0M192.4 261.4h0M193.5 257.9h0M196.0 254.3h0M198.1 266.5h0M201.8 264.4h0M194.6 265.4h0M196.7 253.1h0M197.2 256.4h0M197.5 260.6h0M198.2 254.8h0M193.3 258.3h0M201.9 259.9h0M196.2 263.9h0M201.0 263.5h0M199.9 263.2h0M198.8 259.3h0M196.1 255.7h0M201.2 262.5h0M199.3 254.6h0M200.3 259.9h0M200.2 255.7h0M194.5 265.4h0M198.6 260.3h0M199.5 264.8h0M197.9 261.8h0M201.8 260.6h0M208.8 259.6h0M210.0 259.0h0M207.6 260.5h0M207.2 260.3h0M208.7 260.8h0M210.0 259.8h0M208.9 261.2h0M208.6 260.8h0" stroke="#d0143a" stroke-width="1.1" stroke-linecap="round" fill="none"/>
<path d="M201.7 254.7h0M200.6 263.1h0M200.3 255.9h0M193.9 256.4h0M198.0 262.0h0M202.9 260.6h0M198.3 259.1h0M196.1 254.5h0M202.2 255.5h0M198.2 255.1h0M200.6 255.9h0M202.2 258.5h0M197.5 254.8h0M194.2 255.4h0M193.4 256.4h0M197.8 255.3h0M195.2 263.8h0M199.7 254.3h0M198.7 261.3h0M196.6 263.8h0M198.6 265.7h0M199.0 263.3h0M201.9 258.9h0M195.2 263.8h0M199.6 265.9h0M194.4 266.6h0M201.5 261.2h0M193.7 255.4h0M192.9 257.2h0M195.3 257.7h0M196.7 262.8h0M196.6 256.8h0M199.1 256.8h0M198.7 260.2h0M199.2 256.8h0M197.9 266.0h0M194.6 263.1h0M195.3 266.4h0M196.1 263.8h0M195.1 254.2h0M199.5 256.4h0M194.6 265.2h0M195.3 259.1h0M202.8 261.8h0M197.5 264.9h0M195.1 260.9h0M202.1 261.4h0M193.6 264.3h0M195.7 253.3h0M197.4 261.1h0M208.6 259.4h0M209.5 261.2h0M209.1 260.2h0M208.4 260.2h0M208.2 261.1h0" stroke="#7a3a96" stroke-width="1.1" stroke-linecap="round" fill="none"/>
<path d="M199.1 255.0h0M194.4 265.4h0M195.2 260.6h0M201.9 261.3h0M200.3 260.6h0M196.3 257.2h0M198.3 254.2h0M192.9 264.5h0M201.0 260.5h0M200.5 261.0h0M195.6 266.2h0M202.2 257.6h0M197.1 262.8h0M193.4 262.8h0M202.8 258.3h0M198.2 259.6h0M195.2 262.5h0M196.5 257.6h0M194.7 266.7h0M207.6 261.3h0" stroke="#ffffff" stroke-width="1.1" stroke-linecap="round" fill="none"/>
<path d="M201.6 256.3h0M197.3 265.9h0M193.3 260.8h0M197.6 258.6h0M197.1 253.5h0M194.2 258.3h0M201.3 259.4h0M201.4 263.2h0M196.0 265.8h0M195.8 256.0h0M199.2 256.4h0M195.9 262.5h0M196.1 267.0h0M196.7 263.9h0M197.3 257.4h0M197.3 264.1h0M201.3 256.5h0M195.5 258.5h0M196.5 260.5h0M195.2 257.2h0M200.8 258.8h0M198.8 256.6h0M196.0 258.4h0M200.1 258.4h0M199.7 253.8h0M195.4 258.6h0M192.9 263.5h0M193.2 263.5h0M193.6 257.4h0M199.1 255.6h0M194.6 266.7h0M200.5 259.1h0M193.3 256.5h0M193.9 256.9h0M194.2 259.5h0M199.0 263.0h0M196.1 265.1h0M199.0 261.0h0M199.2 259.8h0M202.7 261.4h0M201.8 258.6h0M201.6 260.6h0M197.1 261.8h0M196.1 265.8h0M202.9 258.5h0M193.5 263.7h0M197.3 260.2h0M194.4 265.5h0M198.8 261.7h0M192.9 262.5h0M196.3 261.9h0M201.0 261.0h0M196.4 253.9h0M200.0 262.2h0M200.6 263.6h0M209.6 258.7h0M210.8 258.7h0M208.5 258.8h0M210.6 258.9h0M208.6 261.4h0" stroke="#34389a" stroke-width="1.1" stroke-linecap="round" fill="none"/>
<path d="M195.1 262.4h0M193.7 264.9h0M193.2 256.3h0M194.9 255.0h0M200.4 255.0h0M194.2 263.2h0M200.2 256.3h0M196.8 253.8h0M195.2 261.5h0M199.4 258.3h0M195.4 261.1h0M196.3 267.1h0M199.2 256.1h0M195.8 264.7h0M201.7 265.7h0M208.9 259.0h0M210.6 258.4h0M211.1 258.1h0" stroke="#e8405a" stroke-width="1.1" stroke-linecap="round" fill="none"/>
<path d="M194.9 253.5h0M195.7 253.4h0M200.0 253.6h0M200.5 253.3h0M203.3 256.2h0M202.3 254.8h0M203.8 258.4h0M201.7 259.3h0M202.4 263.5h0M201.5 264.9h0M198.8 268.0h0M201.1 265.9h0M198.8 268.0h0M199.2 267.1h0M192.4 265.6h0M192.2 266.5h0M191.7 261.3h0M192.3 261.2h0M192.3 260.2h0M192.8 256.4h0M193.9 253.2h0M191.9 255.3h0" stroke="#6f2273" stroke-width="0.9" stroke-linecap="round" fill="none"/>
<path d="M208.3 259.0h0M209.0 259.1h0M209.4 258.4h0M209.8 257.4h0M212.4 257.1h0M211.6 258.2h0M211.5 259.2h0M211.3 259.0h0M209.6 260.8h0M209.5 262.4h0M207.8 262.2h0M207.7 261.3h0" stroke="#841f67" stroke-width="0.9" stroke-linecap="round" fill="none"/>
<path d="M235.7 171.0h0M235.8 171.8h0M236.0 172.7h0M235.8 173.6h0M235.1 174.4h0M235.6 175.2h0M236.1 176.1h0M236.0 176.9h0M235.3 177.8h0M235.1 178.7h0" stroke="#8a3a80" stroke-width="0.9" stroke-linecap="round" fill="none"/>
</g>
<circle cx="229.4" cy="246.1" r="3.2" fill="#cc1030"/>
<circle cx="229.4" cy="256.0" r="3.2" fill="#1f4a88"/>
<text x="235.0" y="248.5" font-size="6.7" text-anchor="start" fill="#333" stroke="#333" stroke-width="0.12">Before</text>
<text x="235.0" y="258.4" font-size="6.7" text-anchor="start" fill="#333" stroke="#333" stroke-width="0.12">After</text>
<line x1="20.9" y1="228.5" x2="20.9" y2="284.2" stroke="#333" stroke-width="0.9"/>
<line x1="20.4" y1="284.2" x2="73.0" y2="284.2" stroke="#333" stroke-width="0.9"/>
<path d="M20.9,225.0 L18.7,229.6 L23.1,229.6 Z" fill="#111" stroke="none" stroke-width="1"/>
<path d="M77.2,284.2 L72.4,282.1 L72.4,286.3 Z" fill="#111" stroke="none" stroke-width="1"/>
<text x="80.0" y="287.0" font-size="7.0" text-anchor="start" fill="#111" font-weight="bold" textLength="17.0" lengthAdjust="spacingAndGlyphs">UMAP1</text>
<text x="23.0" y="221.3" font-size="6.8" text-anchor="start" fill="#111" font-weight="bold" textLength="17.8" lengthAdjust="spacingAndGlyphs" transform="rotate(-90 23.0 221.3)">UMAP2</text>
<circle cx="37.8" cy="302.3" r="5.7" fill="#ec7672"/>
<text x="37.8" y="304.1" font-size="5.0" text-anchor="middle" fill="#ffffff" opacity="0.75">3</text>
<circle cx="37.8" cy="316.2" r="5.7" fill="#f39a22"/>
<text x="37.8" y="318.0" font-size="5.0" text-anchor="middle" fill="#ffffff" opacity="0.75">5</text>
<circle cx="37.8" cy="329.9" r="5.7" fill="#d9aa18"/>
<text x="37.8" y="331.7" font-size="5.0" text-anchor="middle" fill="#ffffff" opacity="0.75">0</text>
<circle cx="37.8" cy="344.1" r="5.7" fill="#23a046"/>
<text x="37.8" y="345.90000000000003" font-size="5.0" text-anchor="middle" fill="#ffffff" opacity="0.75">9</text>
<circle cx="37.8" cy="358.1" r="5.7" fill="#14965a"/>
<text x="37.8" y="359.90000000000003" font-size="5.0" text-anchor="middle" fill="#ffffff" opacity="0.75">7</text>
<circle cx="37.8" cy="371.5" r="5.7" fill="#16a0a4"/>
<text x="37.8" y="373.3" font-size="5.0" text-anchor="middle" fill="#ffffff" opacity="0.75">1</text>
<circle cx="90.4" cy="302.1" r="5.7" fill="#1a9bd7"/>
<text x="90.4" y="303.90000000000003" font-size="5.0" text-anchor="middle" fill="#ffffff" opacity="0.75">6</text>
<circle cx="90.4" cy="316.3" r="5.7" fill="#8e90c9"/>
<text x="90.4" y="318.1" font-size="5.0" text-anchor="middle" fill="#ffffff" opacity="0.75">8</text>
<circle cx="90.4" cy="330.1" r="5.7" fill="#c97ab6"/>
<text x="90.4" y="331.90000000000003" font-size="5.0" text-anchor="middle" fill="#ffffff" opacity="0.75">4</text>
<circle cx="90.4" cy="344.2" r="5.7" fill="#e0609c"/>
<text x="90.4" y="346.0" font-size="5.0" text-anchor="middle" fill="#ffffff" opacity="0.75">2</text>
<line x1="47.6" y1="297" x2="47.6" y2="307.5" stroke="#b8443e" stroke-width="1.3"/>
<line x1="47.6" y1="311" x2="47.6" y2="335" stroke="#ecc454" stroke-width="1.3"/>
<line x1="47.6" y1="338.4" x2="47.6" y2="349.9" stroke="#2a9a40" stroke-width="1.3"/>
<line x1="47.6" y1="352.3" x2="47.6" y2="376.8" stroke="#1d8a5a" stroke-width="1.3"/>
<line x1="100.2" y1="297" x2="100.2" y2="307.5" stroke="#1a8a96" stroke-width="1.3"/>
<line x1="100.2" y1="311" x2="100.2" y2="321.5" stroke="#8486b8" stroke-width="1.3"/>
<line x1="100.2" y1="325" x2="100.2" y2="335.2" stroke="#b070a2" stroke-width="1.3"/>
<line x1="100.2" y1="339" x2="100.2" y2="349.5" stroke="#c25890" stroke-width="1.3"/>
<text x="50.8" y="300.4" font-size="6.1" fill="#333" stroke="#333" stroke-width="0.12">CD16<tspan baseline-shift="super" font-size="4.4">+</tspan></text>
<text x="50.8" y="308.0" font-size="6.1" text-anchor="start" fill="#333" stroke="#333" stroke-width="0.12">Mono</text>
<text x="50.8" y="322.5" font-size="6.1" fill="#333" stroke="#333" stroke-width="0.12">CD14<tspan baseline-shift="super" font-size="4.4">+</tspan></text>
<text x="50.8" y="330.2" font-size="6.1" text-anchor="start" fill="#333" stroke="#333" stroke-width="0.12">Mono</text>
<text x="50.8" y="346.3" font-size="6.1" text-anchor="start" fill="#333" stroke="#333" stroke-width="0.12">Unknown</text>
<text x="50.8" y="366.8" font-size="6.1" text-anchor="start" fill="#333" stroke="#333" stroke-width="0.12">B</text>
<text x="103.6" y="304.2" font-size="6.1" text-anchor="start" fill="#333" stroke="#333" stroke-width="0.12">γδ T</text>
<text x="103.6" y="318.4" font-size="6.1" text-anchor="start" fill="#333" stroke="#333" stroke-width="0.12">NK</text>
<text x="103.6" y="332.2" font-size="6.1" fill="#333" stroke="#333" stroke-width="0.12">CD8<tspan baseline-shift="super" font-size="4.4">+</tspan><tspan dy="0"> T</tspan></text>
<text x="103.6" y="346.3" font-size="6.1" fill="#333" stroke="#333" stroke-width="0.12">CD4<tspan baseline-shift="super" font-size="4.4">+</tspan><tspan> T</tspan></text>
<rect x="336.35" y="158.2" width="15.3" height="20.4" fill="#0b4b88" stroke="none" stroke-width="1"/>
<rect x="336.35" y="178.6" width="15.3" height="93.9" fill="#c8022a" stroke="none" stroke-width="1"/>
<line x1="344.0" y1="273.2" x2="344.0" y2="275.6" stroke="#333" stroke-width="0.8"/>
<text x="344.0" y="284.4" font-size="6.2" text-anchor="middle" fill="#333" stroke="#333" stroke-width="0.12">2</text>
<rect x="354.05" y="158.2" width="15.3" height="47.2" fill="#0b4b88" stroke="none" stroke-width="1"/>
<rect x="354.05" y="205.4" width="15.3" height="67.1" fill="#c8022a" stroke="none" stroke-width="1"/>
<line x1="361.7" y1="273.2" x2="361.7" y2="275.6" stroke="#333" stroke-width="0.8"/>
<text x="361.7" y="284.4" font-size="6.2" text-anchor="middle" fill="#333" stroke="#333" stroke-width="0.12">5</text>
<rect x="371.75" y="158.2" width="15.3" height="52.7" fill="#0b4b88" stroke="none" stroke-width="1"/>
<rect x="371.75" y="210.9" width="15.3" height="61.6" fill="#c8022a" stroke="none" stroke-width="1"/>
<line x1="379.4" y1="273.2" x2="379.4" y2="275.6" stroke="#333" stroke-width="0.8"/>
<text x="379.4" y="284.4" font-size="6.2" text-anchor="middle" fill="#333" stroke="#333" stroke-width="0.12">8</text>
<rect x="389.45" y="158.2" width="15.3" height="55.6" fill="#0b4b88" stroke="none" stroke-width="1"/>
<rect x="389.45" y="213.8" width="15.3" height="58.7" fill="#c8022a" stroke="none" stroke-width="1"/>
<line x1="397.1" y1="273.2" x2="397.1" y2="275.6" stroke="#333" stroke-width="0.8"/>
<text x="397.1" y="284.4" font-size="6.2" text-anchor="middle" fill="#333" stroke="#333" stroke-width="0.12">0</text>
<rect x="407.15" y="158.2" width="15.3" height="68.8" fill="#0b4b88" stroke="none" stroke-width="1"/>
<rect x="407.15" y="227.0" width="15.3" height="45.5" fill="#c8022a" stroke="none" stroke-width="1"/>
<line x1="414.8" y1="273.2" x2="414.8" y2="275.6" stroke="#333" stroke-width="0.8"/>
<text x="414.8" y="284.4" font-size="6.2" text-anchor="middle" fill="#333" stroke="#333" stroke-width="0.12">4</text>
<rect x="424.85" y="158.2" width="15.3" height="71.0" fill="#0b4b88" stroke="none" stroke-width="1"/>
<rect x="424.85" y="229.2" width="15.3" height="43.3" fill="#c8022a" stroke="none" stroke-width="1"/>
<line x1="432.5" y1="273.2" x2="432.5" y2="275.6" stroke="#333" stroke-width="0.8"/>
<text x="432.5" y="284.4" font-size="6.2" text-anchor="middle" fill="#333" stroke="#333" stroke-width="0.12">7</text>
<rect x="442.55" y="158.2" width="15.3" height="74.6" fill="#0b4b88" stroke="none" stroke-width="1"/>
<rect x="442.55" y="232.8" width="15.3" height="39.7" fill="#c8022a" stroke="none" stroke-width="1"/>
<line x1="450.2" y1="273.2" x2="450.2" y2="275.6" stroke="#333" stroke-width="0.8"/>
<text x="450.2" y="284.4" font-size="6.2" text-anchor="middle" fill="#333" stroke="#333" stroke-width="0.12">3</text>
<rect x="460.25" y="158.2" width="15.3" height="74.6" fill="#0b4b88" stroke="none" stroke-width="1"/>
<rect x="460.25" y="232.8" width="15.3" height="39.7" fill="#c8022a" stroke="none" stroke-width="1"/>
<line x1="467.9" y1="273.2" x2="467.9" y2="275.6" stroke="#333" stroke-width="0.8"/>
<text x="467.9" y="284.4" font-size="6.2" text-anchor="middle" fill="#333" stroke="#333" stroke-width="0.12">6</text>
<rect x="477.95" y="158.2" width="15.3" height="75.4" fill="#0b4b88" stroke="none" stroke-width="1"/>
<rect x="477.95" y="233.6" width="15.3" height="38.9" fill="#c8022a" stroke="none" stroke-width="1"/>
<line x1="485.6" y1="273.2" x2="485.6" y2="275.6" stroke="#333" stroke-width="0.8"/>
<text x="485.6" y="284.4" font-size="6.2" text-anchor="middle" fill="#333" stroke="#333" stroke-width="0.12">1</text>
<rect x="495.65" y="158.2" width="15.3" height="78.3" fill="#0b4b88" stroke="none" stroke-width="1"/>
<rect x="495.65" y="236.5" width="15.3" height="36.0" fill="#c8022a" stroke="none" stroke-width="1"/>
<line x1="503.3" y1="273.2" x2="503.3" y2="275.6" stroke="#333" stroke-width="0.8"/>
<text x="503.3" y="284.4" font-size="6.2" text-anchor="middle" fill="#333" stroke="#333" stroke-width="0.12">9</text>
<line x1="333.3" y1="155.2" x2="333.3" y2="273.0" stroke="#111" stroke-width="1.0"/>
<line x1="330.5" y1="272.5" x2="333.3" y2="272.5" stroke="#111" stroke-width="0.9"/>
<text x="327.8" y="274.7" font-size="6.2" text-anchor="end" fill="#333" stroke="#333" stroke-width="0.12">0</text>
<line x1="330.5" y1="243.92" x2="333.3" y2="243.92" stroke="#111" stroke-width="0.9"/>
<text x="327.8" y="246.12" font-size="6.2" text-anchor="end" fill="#333" stroke="#333" stroke-width="0.12">25</text>
<line x1="330.5" y1="215.34" x2="333.3" y2="215.34" stroke="#111" stroke-width="0.9"/>
<text x="327.8" y="217.54" font-size="6.2" text-anchor="end" fill="#333" stroke="#333" stroke-width="0.12">50</text>
<line x1="330.5" y1="186.76" x2="333.3" y2="186.76" stroke="#111" stroke-width="0.9"/>
<text x="327.8" y="188.96" font-size="6.2" text-anchor="end" fill="#333" stroke="#333" stroke-width="0.12">75</text>
<line x1="330.5" y1="158.18" x2="333.3" y2="158.18" stroke="#111" stroke-width="0.9"/>
<text x="327.8" y="160.38" font-size="6.2" text-anchor="end" fill="#333" stroke="#333" stroke-width="0.12">100</text>
<text x="311.4" y="226.2" font-size="6.8" text-anchor="start" fill="#222" stroke="#222" stroke-width="0.12" textLength="24.3" lengthAdjust="spacingAndGlyphs" transform="rotate(-90 311.4 226.2)">% of cells</text>
<text x="423.5" y="295.6" font-size="7.6" text-anchor="middle" fill="#222" stroke="#222" stroke-width="0.12" textLength="17.3" lengthAdjust="spacingAndGlyphs">Cluster</text>
<rect x="400.2" y="146.7" width="3.9" height="3.9" fill="#c8022a" stroke="none" stroke-width="1"/>
<text x="407.0" y="150.9" font-size="6.1" text-anchor="start" fill="#333" stroke="#333" stroke-width="0.12">Before</text>
<rect x="428.0" y="146.8" width="3.9" height="3.9" fill="#0b4b88" stroke="none" stroke-width="1"/>
<text x="435.4" y="150.9" font-size="6.1" text-anchor="start" fill="#333" stroke="#333" stroke-width="0.12">After</text>
<text x="136.6" y="401.6" font-size="8.1" text-anchor="middle" fill="#222" stroke="#222" stroke-width="0.12">CD4<tspan baseline-shift="super" font-size="5">+</tspan> T cells</text>
<rect x="108.1" y="408.5" width="8.0" height="5.8" fill="none" stroke="#c8325a" stroke-width="1.0"/>
<line x1="108.1" y1="411.4" x2="116.1" y2="411.4" stroke="#c8325a" stroke-width="1.0"/>
<line x1="112.1" y1="407.0" x2="112.1" y2="408.5" stroke="#c8325a" stroke-width="0.9"/>
<line x1="112.1" y1="414.3" x2="112.1" y2="415.8" stroke="#c8325a" stroke-width="0.9"/>
<text x="120.0" y="413.6" font-size="6.0" text-anchor="start" fill="#333" stroke="#333" stroke-width="0.12">Before</text>
<rect x="140.4" y="408.5" width="8.0" height="5.8" fill="none" stroke="#2c6898" stroke-width="1.0"/>
<line x1="140.4" y1="411.4" x2="148.4" y2="411.4" stroke="#2c6898" stroke-width="1.0"/>
<line x1="144.4" y1="407.0" x2="144.4" y2="408.5" stroke="#2c6898" stroke-width="0.9"/>
<line x1="144.4" y1="414.3" x2="144.4" y2="415.8" stroke="#2c6898" stroke-width="0.9"/>
<text x="152.3" y="413.6" font-size="6.0" text-anchor="start" fill="#333" stroke="#333" stroke-width="0.12">After</text>
<line x1="46.7" y1="422.3" x2="46.7" y2="546.7" stroke="#111" stroke-width="1.0"/>
<line x1="46.2" y1="546.2" x2="196.3" y2="546.2" stroke="#111" stroke-width="1.0"/>
<line x1="43.4" y1="526.5" x2="46.7" y2="526.5" stroke="#111" stroke-width="0.9"/>
<text x="41.3" y="528.5" font-size="5.6" text-anchor="end" fill="#444" stroke="#444" stroke-width="0.12">0.00</text>
<line x1="43.4" y1="500.57" x2="46.7" y2="500.57" stroke="#111" stroke-width="0.9"/>
<text x="41.3" y="502.57" font-size="5.6" text-anchor="end" fill="#444" stroke="#444" stroke-width="0.12">0.25</text>
<line x1="43.4" y1="474.64" x2="46.7" y2="474.64" stroke="#111" stroke-width="0.9"/>
<text x="41.3" y="476.64" font-size="5.6" text-anchor="end" fill="#444" stroke="#444" stroke-width="0.12">0.50</text>
<line x1="43.4" y1="448.71" x2="46.7" y2="448.71" stroke="#111" stroke-width="0.9"/>
<text x="41.3" y="450.71" font-size="5.6" text-anchor="end" fill="#444" stroke="#444" stroke-width="0.12">0.75</text>
<line x1="43.4" y1="422.78" x2="46.7" y2="422.78" stroke="#111" stroke-width="0.9"/>
<text x="41.3" y="424.78" font-size="5.6" text-anchor="end" fill="#444" stroke="#444" stroke-width="0.12">1.00</text>
<text x="22.5" y="505.5" font-size="6.8" text-anchor="start" fill="#1a1a1a" stroke="#1a1a1a" stroke-width="0.12" textLength="44.5" lengthAdjust="spacingAndGlyphs" transform="rotate(-90 22.5 505.5)">Enrichment score</text>
<line x1="74.6" y1="546.2" x2="74.6" y2="549.2" stroke="#111" stroke-width="0.9"/>
<text x="74.6" y="558.0" font-size="5.8" text-anchor="middle" fill="#333" stroke="#333" stroke-width="0.12">Th1</text>
<line x1="121.2" y1="546.2" x2="121.2" y2="549.2" stroke="#111" stroke-width="0.9"/>
<text x="121.2" y="558.0" font-size="5.8" text-anchor="middle" fill="#333" stroke="#333" stroke-width="0.12">Th2</text>
<line x1="168.1" y1="546.2" x2="168.1" y2="549.2" stroke="#111" stroke-width="0.9"/>
<text x="168.1" y="558.0" font-size="5.8" text-anchor="middle" fill="#333" stroke="#333" stroke-width="0.12">Central</text>
<text x="168.3" y="565.6" font-size="5.8" text-anchor="middle" fill="#333" stroke="#333" stroke-width="0.12">CD4 memory</text>
<line x1="65.5" y1="458.3" x2="65.5" y2="476.2" stroke="#c8325a" stroke-width="1.0"/>
<line x1="65.5" y1="495.4" x2="65.5" y2="519.2" stroke="#c8325a" stroke-width="1.0"/>
<rect x="57.3" y="476.2" width="16.400000000000006" height="19.19999999999999" fill="#fff" stroke="#c8325a" stroke-width="1.1"/>
<line x1="57.3" y1="484.6" x2="73.7" y2="484.6" stroke="#c8325a" stroke-width="1.4"/>
<line x1="83.94999999999999" y1="463.0" x2="83.94999999999999" y2="480.4" stroke="#50708c" stroke-width="1.0"/>
<line x1="83.94999999999999" y1="497.3" x2="83.94999999999999" y2="516.5" stroke="#50708c" stroke-width="1.0"/>
<rect x="75.6" y="480.4" width="16.700000000000003" height="16.900000000000034" fill="#fff" stroke="#2c6898" stroke-width="1.1"/>
<line x1="75.6" y1="489.6" x2="92.3" y2="489.6" stroke="#2c6898" stroke-width="1.4"/>
<line x1="112.35" y1="449.8" x2="112.35" y2="465.6" stroke="#c8325a" stroke-width="1.0"/>
<line x1="112.35" y1="479.0" x2="112.35" y2="494.7" stroke="#c8325a" stroke-width="1.0"/>
<rect x="104.1" y="465.6" width="16.5" height="13.399999999999977" fill="#fff" stroke="#c8325a" stroke-width="1.1"/>
<line x1="104.1" y1="470.4" x2="120.6" y2="470.4" stroke="#c8325a" stroke-width="1.4"/>
<circle cx="112.35" cy="500.4" r="1.9" fill="#a01838"/>
<line x1="130.7" y1="444.1" x2="130.7" y2="463.5" stroke="#50708c" stroke-width="1.0"/>
<line x1="130.7" y1="477.4" x2="130.7" y2="495.7" stroke="#50708c" stroke-width="1.0"/>
<rect x="122.2" y="463.5" width="16.999999999999986" height="13.899999999999977" fill="#fff" stroke="#2c6898" stroke-width="1.1"/>
<line x1="122.2" y1="470.4" x2="139.2" y2="470.4" stroke="#2c6898" stroke-width="1.4"/>
<circle cx="130.7" cy="500.0" r="1.9" fill="#1c3c6c"/>
<line x1="158.85" y1="471.2" x2="158.85" y2="493.5" stroke="#c8325a" stroke-width="1.0"/>
<line x1="158.85" y1="514.0" x2="158.85" y2="543.8" stroke="#c8325a" stroke-width="1.0"/>
<rect x="150.2" y="493.5" width="17.30000000000001" height="20.5" fill="#fff" stroke="#c8325a" stroke-width="1.1"/>
<line x1="150.2" y1="499.6" x2="167.5" y2="499.6" stroke="#c8325a" stroke-width="1.4"/>
<line x1="177.60000000000002" y1="473.5" x2="177.60000000000002" y2="492.3" stroke="#50708c" stroke-width="1.0"/>
<line x1="177.60000000000002" y1="506.3" x2="177.60000000000002" y2="524.0" stroke="#50708c" stroke-width="1.0"/>
<rect x="169.4" y="492.3" width="16.400000000000006" height="14.0" fill="#fff" stroke="#2c6898" stroke-width="1.1"/>
<line x1="169.4" y1="497.3" x2="185.8" y2="497.3" stroke="#2c6898" stroke-width="1.4"/>
<circle cx="177.6" cy="471.8" r="1.9" fill="#1c3c6c"/>
<circle cx="177.6" cy="527.2" r="1.9" fill="#1c3c6c"/>
<circle cx="177.6" cy="533.7" r="1.9" fill="#1c3c6c"/>
<circle cx="177.6" cy="541.6" r="1.9" fill="#1c3c6c"/>
<circle cx="177.6" cy="543.8" r="1.9" fill="#1c3c6c"/>
<line x1="66.0" y1="448.3" x2="83.8" y2="448.3" stroke="#222" stroke-width="0.9"/>
<text x="74.9" y="444.1" font-size="5.8" text-anchor="middle" fill="#444" stroke="#444" stroke-width="0.12">ns</text>
<line x1="112.3" y1="440.5" x2="130.8" y2="440.5" stroke="#222" stroke-width="0.9"/>
<text x="121.55000000000001" y="436.3" font-size="5.8" text-anchor="middle" fill="#444" stroke="#444" stroke-width="0.12">ns</text>
<line x1="159.2" y1="461.2" x2="177.1" y2="461.2" stroke="#222" stroke-width="0.9"/>
<text x="168.14999999999998" y="457.0" font-size="5.8" text-anchor="middle" fill="#444" stroke="#444" stroke-width="0.12">ns</text>
<text x="279.6" y="334.9" font-size="8.0" text-anchor="middle" fill="#1a1a1a" stroke="#1a1a1a" stroke-width="0.12" font-style="italic">FOSB</text>
<rect x="237.8" y="340.8" width="83.59999999999997" height="42.19999999999999" fill="none" stroke="#2a2a2a" stroke-width="1.2"/>
<line x1="261.2" y1="354.7" x2="298.4" y2="354.7" stroke="#555" stroke-width="1.1"/>
<text x="279.6" y="355.2" font-size="6.0" text-anchor="middle" fill="#333" font-weight="bold">****</text>
<text x="279.6" y="392.2" font-size="8.0" text-anchor="middle" fill="#1a1a1a" stroke="#1a1a1a" stroke-width="0.12" font-style="italic">JUN</text>
<rect x="237.8" y="398.5" width="83.59999999999997" height="41.80000000000001" fill="none" stroke="#2a2a2a" stroke-width="1.2"/>
<line x1="261.2" y1="414.8" x2="298.4" y2="414.8" stroke="#555" stroke-width="1.1"/>
<text x="279.6" y="415.3" font-size="6.0" text-anchor="middle" fill="#333" font-weight="bold">****</text>
<text x="279.6" y="450.0" font-size="8.0" text-anchor="middle" fill="#1a1a1a" stroke="#1a1a1a" stroke-width="0.12" font-style="italic">IFITM2</text>
<rect x="237.8" y="455.7" width="83.59999999999997" height="41.900000000000034" fill="none" stroke="#2a2a2a" stroke-width="1.2"/>
<line x1="261.2" y1="469.2" x2="298.4" y2="469.2" stroke="#555" stroke-width="1.1"/>
<text x="279.6" y="469.7" font-size="6.0" text-anchor="middle" fill="#333" font-weight="bold">****</text>
<text x="279.6" y="507.5" font-size="8.0" text-anchor="middle" fill="#1a1a1a" stroke="#1a1a1a" stroke-width="0.12" font-style="italic">IFITM3</text>
<rect x="237.8" y="512.7" width="83.59999999999997" height="41.89999999999998" fill="none" stroke="#2a2a2a" stroke-width="1.2"/>
<line x1="261.2" y1="526.7" x2="298.4" y2="526.7" stroke="#555" stroke-width="1.1"/>
<text x="279.6" y="527.2" font-size="6.0" text-anchor="middle" fill="#333" font-weight="bold">****</text>
<text x="279.6" y="564.6" font-size="8.0" text-anchor="middle" fill="#1a1a1a" stroke="#1a1a1a" stroke-width="0.12" font-style="italic">ITGAE</text>
<rect x="237.8" y="570.4" width="83.59999999999997" height="41.80000000000007" fill="none" stroke="#2a2a2a" stroke-width="1.2"/>
<line x1="261.2" y1="584.4" x2="298.4" y2="584.4" stroke="#555" stroke-width="1.1"/>
<text x="279.6" y="584.9" font-size="6.0" text-anchor="middle" fill="#333" font-weight="bold">****</text>
<path d="M298.60,367.60 L299.80,369.50 L300.50,371.50 L300.60,373.30 L300.00,374.90 L299.10,376.00 L298.90,377.00 L298.30,377.00 L298.10,376.00 L297.20,374.90 L296.60,373.30 L296.70,371.50 L297.40,369.50 L298.60,367.60 Z" fill="#1c1c8a" stroke="none" stroke-width="1" stroke="#1c1c8a" stroke-width="0.3" stroke-linejoin="round"/>
<line x1="298.6" y1="376.5" x2="298.6" y2="379.5" stroke="#1c1c8a" stroke-width="0.6"/>
<path d="M298.60,379.20 L299.40,380.00 L302.60,380.50 L311.88,380.80 L315.20,381.00 L312.71,381.34 L303.58,381.70 L298.60,381.70 L298.60,381.70 L293.62,381.70 L284.49,381.34 L282.00,381.00 L285.32,380.80 L294.60,380.50 L297.80,380.00 L298.60,379.20 Z" fill="#1c1c8a" stroke="none" stroke-width="1" stroke="#1c1c8a" stroke-width="0.3" stroke-linejoin="round"/>
<path d="M298.60,420.90 L299.80,422.50 L301.00,424.50 L302.40,426.90 L302.00,429.30 L300.40,431.40 L299.10,433.00 L298.90,433.50 L298.30,433.50 L298.10,433.00 L296.80,431.40 L295.20,429.30 L294.80,426.90 L296.20,424.50 L297.40,422.50 L298.60,420.90 Z" fill="#1c1c8a" stroke="none" stroke-width="1" stroke="#1c1c8a" stroke-width="0.3" stroke-linejoin="round"/>
<line x1="298.6" y1="433" x2="298.6" y2="436.5" stroke="#1c1c8a" stroke-width="0.6"/>
<path d="M298.60,435.60 L299.40,436.50 L302.60,437.10 L311.88,437.40 L315.20,437.60 L312.71,438.12 L303.58,438.60 L298.60,438.60 L298.60,438.60 L293.62,438.60 L284.49,438.12 L282.00,437.60 L285.32,437.40 L294.60,437.10 L297.80,436.50 L298.60,435.60 Z" fill="#1c1c8a" stroke="none" stroke-width="1" stroke="#1c1c8a" stroke-width="0.3" stroke-linejoin="round"/>
<path d="M260.50,477.00 L263.90,479.30 L268.20,481.30 L273.40,482.90 L277.40,484.10 L272.20,485.30 L267.00,486.90 L263.50,488.60 L260.50,489.60 L260.50,489.60 L257.50,488.60 L254.00,486.90 L248.80,485.30 L243.60,484.10 L247.60,482.90 L252.80,481.30 L257.10,479.30 L260.50,477.00 Z" fill="#e8121c" stroke="none" stroke-width="1" stroke="#e8121c" stroke-width="0.3" stroke-linejoin="round"/>
<path d="M298.60,477.00 L303.60,477.60 L309.10,478.50 L313.10,479.50 L315.80,480.50 L314.60,481.50 L313.30,482.50 L309.60,484.10 L303.80,485.70 L300.40,487.80 L298.60,489.40 L298.60,489.40 L296.80,487.80 L293.40,485.70 L287.60,484.10 L283.90,482.50 L282.60,481.50 L281.40,480.50 L284.10,479.50 L288.10,478.50 L293.60,477.60 L298.60,477.00 Z" fill="#1c1c8a" stroke="none" stroke-width="1" stroke="#1c1c8a" stroke-width="0.3" stroke-linejoin="round"/>
<line x1="256.2" y1="495.3" x2="264.4" y2="495.3" stroke="#e8121c" stroke-width="0.9"/>
<circle cx="298.6" cy="495.3" r="0.7" fill="#1c1c8a"/>
<path d="M260.50,534.70 L264.50,537.30 L269.40,539.30 L274.60,541.30 L277.70,542.80 L275.40,544.10 L269.40,545.80 L263.30,547.00 L260.50,547.80 L260.50,547.80 L257.70,547.00 L251.60,545.80 L245.60,544.10 L243.30,542.80 L246.40,541.30 L251.60,539.30 L256.50,537.30 L260.50,534.70 Z" fill="#e8121c" stroke="none" stroke-width="1" stroke="#e8121c" stroke-width="0.3" stroke-linejoin="round"/>
<path d="M260.50,550.40 L261.30,551.20 L264.50,551.70 L269.46,552.00 L271.70,552.20 L270.02,552.48 L263.86,552.80 L260.50,552.80 L260.50,552.80 L257.14,552.80 L250.98,552.48 L249.30,552.20 L251.54,552.00 L256.50,551.70 L259.70,551.20 L260.50,550.40 Z" fill="#e8121c" stroke="none" stroke-width="1" stroke="#e8121c" stroke-width="0.3" stroke-linejoin="round"/>
<path d="M298.60,534.00 L302.60,534.60 L307.10,535.30 L312.10,536.30 L315.80,537.10 L312.60,537.80 L309.60,538.50 L306.70,540.10 L305.60,542.10 L302.40,543.70 L300.00,545.80 L298.60,547.40 L298.60,547.40 L297.20,545.80 L294.80,543.70 L291.60,542.10 L290.50,540.10 L287.60,538.50 L284.60,537.80 L281.40,537.10 L285.10,536.30 L290.10,535.30 L294.60,534.60 L298.60,534.00 Z" fill="#1c1c8a" stroke="none" stroke-width="1" stroke="#1c1c8a" stroke-width="0.3" stroke-linejoin="round"/>
<circle cx="298.6" cy="552.2" r="0.7" fill="#1c1c8a"/>
<path d="M260.60,590.60 L261.10,592.20 L262.40,593.80 L264.00,595.80 L264.70,597.80 L263.80,599.60 L262.30,601.20 L261.00,602.60 L260.80,603.20 L260.40,603.20 L260.20,602.60 L258.90,601.20 L257.40,599.60 L256.50,597.80 L257.20,595.80 L258.80,593.80 L260.10,592.20 L260.60,590.60 Z" fill="#e8121c" stroke="none" stroke-width="1" stroke="#e8121c" stroke-width="0.3" stroke-linejoin="round"/>
<line x1="260.6" y1="602.8" x2="260.6" y2="607.5" stroke="#e8121c" stroke-width="0.5"/>
<path d="M260.60,606.80 L261.40,608.10 L264.60,609.10 L274.20,609.40 L277.60,609.60 L275.05,610.18 L265.70,610.70 L260.60,610.70 L260.60,610.70 L255.50,610.70 L246.15,610.18 L243.60,609.60 L247.00,609.40 L256.60,609.10 L259.80,608.10 L260.60,606.80 Z" fill="#e8121c" stroke="none" stroke-width="1" stroke="#e8121c" stroke-width="0.3" stroke-linejoin="round"/>
<line x1="260.7" y1="612.2" x2="260.7" y2="615.0" stroke="#333" stroke-width="0.9"/>
<text x="260.7" y="623.9" font-size="6.6" text-anchor="middle" fill="#222" stroke="#222" stroke-width="0.12">Before</text>
<line x1="298.4" y1="612.2" x2="298.4" y2="615.0" stroke="#333" stroke-width="0.9"/>
<text x="298.4" y="623.9" font-size="6.6" text-anchor="middle" fill="#222" stroke="#222" stroke-width="0.12">After</text>
<text x="226.3" y="535.2" font-size="6.4" text-anchor="start" fill="#222" stroke="#222" stroke-width="0.12" textLength="117.5" lengthAdjust="spacingAndGlyphs" transform="rotate(-90 226.3 535.2)">Log-normalized expression (among monocytes)</text>
<line x1="224.6" y1="547.5" x2="224.6" y2="613.0" stroke="#111" stroke-width="1.0"/>
<path d="M224.6,543.6 L222.2,548.4 L227.0,548.4 Z" fill="#111" stroke="none" stroke-width="1"/>
<rect x="370.8" y="341.0" width="117.9" height="117.5" fill="none" stroke="#444" stroke-width="1.1"/>
<rect x="370.8" y="474.4" width="117.9" height="117.4" fill="none" stroke="#444" stroke-width="1.1"/>
<text x="430" y="335.0" font-size="8.1" text-anchor="middle" fill="#1a1a1a" stroke="#1a1a1a" stroke-width="0.12">CD4<tspan baseline-shift="super" font-size="5">+</tspan> T cells</text>
<text x="429.5" y="469.1" font-size="8.0" text-anchor="middle" fill="#1a1a1a" stroke="#1a1a1a" stroke-width="0.12">Monocytes</text>
<path d="M413.9 352.8h0M422.5 353.7h0M428.6 356.4h0M423.2 351.7h0M419.2 350.6h0M420.0 354.5h0M422.8 351.8h0M417.5 358.3h0M421.9 357.6h0M417.4 354.2h0M418.0 352.7h0M421.5 349.5h0M419.3 355.3h0M433.3 374.3h0M425.1 360.4h0" stroke="#4a3aa0" stroke-width="1.9" stroke-linecap="round" fill="none"/>
<path d="M412.6 347.3h0M421.2 357.3h0M415.6 356.4h0M421.3 354.6h0M407.5 348.1h0M426.8 348.8h0M413.4 352.5h0M427.3 353.3h0M422.9 349.4h0M418.9 354.7h0M421.3 354.6h0M427.1 357.4h0M420.0 352.3h0M420.7 356.4h0M422.9 355.9h0M415.0 348.2h0M416.0 349.4h0M413.5 347.6h0M414.9 348.0h0M414.3 351.6h0M414.7 347.1h0M417.4 349.8h0M425.8 363.5h0M431.4 370.8h0M434.3 375.9h0" stroke="#d0123e" stroke-width="1.9" stroke-linecap="round" fill="none"/>
<path d="M421.3 347.6h0M418.9 354.8h0M418.3 350.9h0M426.4 360.3h0M419.8 349.4h0M421.4 352.6h0M423.3 348.6h0M417.7 348.6h0M418.8 351.9h0M421.4 344.2h0M423.4 360.5h0M422.3 349.0h0M413.5 354.0h0M424.1 347.3h0M417.0 357.1h0M421.8 348.0h0M421.8 358.9h0M413.6 351.2h0M423.1 355.9h0M425.9 360.0h0M422.5 359.4h0M424.1 345.0h0M427.2 354.0h0M414.1 350.3h0M416.5 348.6h0M413.6 352.8h0M421.5 351.2h0M425.3 355.4h0M418.6 355.6h0M420.2 353.5h0M418.0 349.0h0M420.5 354.5h0M423.2 344.0h0M417.3 353.1h0M419.8 355.6h0M411.6 350.6h0M413.7 350.7h0M434.8 376.6h0M431.9 372.0h0M430.2 369.8h0M430.6 369.9h0M421.9 357.3h0M428.2 367.1h0M422.2 357.0h0M436.1 375.7h0" stroke="#2b2a8e" stroke-width="1.9" stroke-linecap="round" fill="none"/>
<path d="M421.7 350.8h0M418.1 352.7h0M413.9 347.7h0M429.3 355.3h0M415.3 346.2h0M422.8 355.5h0M422.9 349.5h0M414.2 347.0h0M414.0 352.7h0M414.3 347.7h0M434.9 378.8h0" stroke="#e8304a" stroke-width="1.9" stroke-linecap="round" fill="none"/>
<path d="M426.6 360.9h0M432.1 372.7h0M430.5 369.1h0M420.6 358.3h0M421.2 360.1h0M433.2 374.7h0M425.6 363.7h0M426.7 366.3h0M432.2 367.9h0M435.0 375.8h0M444.8 369.7h0M441.9 372.0h0M445.8 371.4h0M444.4 368.6h0M444.9 366.3h0M437.8 366.2h0M448.0 368.7h0M450.8 366.8h0M451.0 368.5h0M445.8 370.4h0M447.0 369.0h0M444.6 369.1h0M450.7 366.3h0M446.8 367.2h0M449.1 369.5h0M438.7 367.0h0M444.2 367.4h0M451.1 370.2h0M433.3 380.2h0M437.4 412.2h0" stroke="#2b2a8e" stroke-width="1.9" stroke-linecap="round" fill="none"/>
<path d="M423.7 358.5h0M430.2 371.7h0M431.6 375.0h0M422.3 356.0h0M437.0 374.4h0M445.6 368.4h0M446.9 370.0h0M439.4 369.1h0M447.2 368.7h0M440.0 371.7h0M452.2 369.6h0M448.0 367.9h0M446.1 368.7h0M448.6 370.6h0M449.4 369.2h0M448.2 366.5h0M447.0 369.1h0M447.8 369.9h0M445.8 369.0h0M446.6 371.5h0M447.4 365.4h0M445.2 367.2h0M445.3 369.2h0M449.6 365.7h0M448.8 366.0h0M442.9 365.4h0M442.8 368.0h0M455.0 368.4h0M456.4 369.6h0M434.8 389.6h0M437.2 407.1h0M440.1 406.3h0M439.2 402.1h0M439.5 403.3h0M438.8 399.6h0M438.9 410.0h0M432.9 377.7h0M435.3 402.1h0M438.3 382.3h0M440.5 403.1h0M437.8 384.3h0M435.3 389.0h0M439.1 412.6h0M437.1 399.8h0" stroke="#d0123e" stroke-width="1.9" stroke-linecap="round" fill="none"/>
<path d="M426.2 365.0h0M448.2 369.6h0M443.8 370.4h0M441.5 369.6h0M449.1 369.7h0M446.8 368.5h0M446.1 365.9h0M443.8 369.2h0M451.1 368.8h0M445.6 369.5h0M447.8 366.3h0M438.9 397.9h0" stroke="#4a3aa0" stroke-width="1.9" stroke-linecap="round" fill="none"/>
<path d="M447.3 370.7h0M446.6 368.9h0M449.1 369.5h0M446.3 364.8h0M448.3 366.1h0M454.2 370.2h0M438.1 403.3h0M436.4 390.8h0M433.7 387.9h0M439.8 403.7h0" stroke="#e8304a" stroke-width="1.9" stroke-linecap="round" fill="none"/>
<path d="M438.7 399.1h0M434.8 389.6h0M439.9 402.5h0M438.2 395.1h0M437.2 395.2h0M437.1 378.3h0M432.9 408.8h0M439.0 407.6h0M435.6 402.8h0M437.5 400.2h0M439.1 400.3h0M438.2 403.6h0M438.2 401.7h0M437.6 403.7h0M461.2 420.3h0M453.6 416.4h0M473.3 419.8h0M464.8 419.0h0M455.5 418.3h0M442.2 416.0h0M456.7 417.7h0M477.2 419.1h0M450.0 414.1h0" stroke="#2b2a8e" stroke-width="1.9" stroke-linecap="round" fill="none"/>
<path d="M438.5 395.3h0M437.5 404.6h0M439.4 405.3h0M437.7 404.3h0M450.9 418.2h0M459.6 418.7h0" stroke="#4a3aa0" stroke-width="1.9" stroke-linecap="round" fill="none"/>
<path d="M436.1 381.7h0M436.0 381.7h0M436.3 394.6h0M438.0 381.3h0M436.3 399.7h0M439.2 403.6h0M434.1 388.7h0M437.4 396.7h0M436.1 386.6h0M436.8 378.7h0M438.0 402.7h0M439.3 400.8h0M436.2 405.1h0M437.1 401.6h0M438.1 403.1h0M438.4 404.6h0M437.7 408.9h0M437.5 401.3h0M441.0 403.9h0M434.9 398.7h0M439.5 404.5h0M443.3 399.6h0M438.3 402.8h0M434.0 401.0h0M435.0 403.7h0M438.4 404.2h0M435.4 407.3h0M438.0 404.5h0M438.0 402.6h0M437.1 397.8h0M438.5 402.9h0M438.2 404.4h0M440.1 399.3h0M439.4 400.8h0M437.2 413.6h0M437.1 404.9h0M436.9 401.4h0M470.7 420.6h0M453.3 414.5h0M455.6 417.4h0M459.0 421.4h0M447.8 417.8h0M457.5 420.0h0M460.8 416.2h0M459.2 418.6h0" stroke="#d0123e" stroke-width="1.9" stroke-linecap="round" fill="none"/>
<path d="M436.7 400.3h0M441.7 412.2h0M433.2 396.2h0M440.1 405.9h0M435.8 392.0h0M435.0 379.8h0M437.2 393.9h0M436.1 392.2h0M441.0 404.6h0M439.6 395.2h0M437.8 394.6h0M436.7 402.2h0M437.2 410.5h0M436.1 407.0h0M437.0 407.9h0M435.9 407.3h0M439.1 402.8h0M436.8 399.3h0M445.0 415.1h0M464.8 417.0h0M447.1 417.6h0M454.8 415.5h0" stroke="#e8304a" stroke-width="1.9" stroke-linecap="round" fill="none"/>
<path d="M447.2 416.3h0M474.0 417.8h0M476.1 421.1h0M471.9 420.9h0M475.2 421.7h0M469.9 415.8h0M466.6 419.4h0M474.3 422.7h0M478.4 425.6h0M473.9 418.9h0M474.8 421.9h0M467.6 420.3h0M475.8 421.5h0M475.4 422.0h0M469.2 421.5h0M471.3 423.1h0M477.1 421.9h0M480.4 425.0h0M477.3 424.8h0M475.4 422.8h0M483.1 422.6h0M480.7 423.1h0M472.9 421.0h0M482.5 416.1h0M473.6 419.4h0M468.7 423.5h0M477.6 419.0h0M464.0 419.9h0M474.7 416.0h0M473.4 422.5h0M471.6 420.5h0M472.4 422.9h0M469.0 416.0h0M479.6 419.3h0M470.6 421.3h0M475.2 421.6h0M469.3 420.2h0M472.2 419.3h0M393.5 427.3h0M386.3 433.0h0" stroke="#2b2a8e" stroke-width="1.9" stroke-linecap="round" fill="none"/>
<path d="M443.1 415.6h0M474.7 418.6h0M482.1 414.9h0M482.3 423.7h0M478.5 422.2h0M471.3 418.5h0M474.4 418.5h0M465.2 427.8h0M464.8 420.8h0M469.5 424.9h0M469.7 418.8h0M477.4 420.8h0M481.0 416.3h0M472.2 419.4h0M474.2 418.6h0M475.2 418.8h0M470.4 416.7h0M472.4 419.6h0M476.2 420.0h0M477.0 420.5h0M470.9 419.4h0M484.1 417.7h0M470.9 422.2h0M478.7 417.2h0M476.5 421.7h0M471.3 419.9h0M463.2 427.4h0M461.7 421.1h0M479.4 425.5h0M430.7 424.1h0M384.8 429.9h0M433.1 422.0h0M414.7 427.4h0M411.1 430.5h0M427.2 424.7h0M436.3 417.8h0M424.9 426.0h0M405.9 427.5h0" stroke="#d0123e" stroke-width="1.9" stroke-linecap="round" fill="none"/>
<path d="M480.4 421.7h0M473.8 423.3h0M465.3 420.1h0M478.4 421.1h0M472.5 422.1h0M477.2 418.1h0M474.4 421.1h0" stroke="#e8304a" stroke-width="1.9" stroke-linecap="round" fill="none"/>
<path d="M468.1 417.1h0M475.3 423.9h0M467.0 422.0h0M464.7 417.9h0M474.1 425.0h0M483.3 422.5h0M474.1 416.5h0M468.7 419.4h0M430.3 423.9h0M433.8 415.1h0M393.1 429.1h0" stroke="#4a3aa0" stroke-width="1.9" stroke-linecap="round" fill="none"/>
<path d="M440.7 415.4h0M430.8 422.8h0M423.8 428.3h0M410.6 428.3h0M425.6 426.5h0M402.2 427.6h0M381.7 426.6h0M379.7 426.9h0M379.7 429.2h0M387.1 428.9h0M378.5 430.1h0M382.6 421.7h0M376.6 436.8h0M378.5 429.1h0M378.6 432.7h0M378.7 422.6h0M383.2 431.9h0M390.7 429.6h0M383.0 425.8h0M388.7 428.5h0M385.1 427.8h0M382.5 425.1h0M383.8 425.0h0M385.2 430.5h0M389.8 435.7h0M382.7 432.3h0M392.7 433.4h0M375.8 427.4h0M387.6 429.4h0M382.6 430.7h0M378.9 429.6h0M380.4 424.8h0M383.7 429.3h0M383.1 423.0h0M393.6 426.5h0M380.7 428.0h0M379.0 423.1h0M386.0 422.8h0M384.9 426.7h0M382.2 428.5h0" stroke="#2b2a8e" stroke-width="1.9" stroke-linecap="round" fill="none"/>
<path d="M439.3 414.3h0M409.0 427.8h0M406.4 429.3h0M411.6 429.0h0M433.3 419.7h0M430.1 420.6h0M426.3 423.9h0M435.0 423.8h0M430.4 424.6h0M390.5 423.9h0M379.0 433.8h0M379.0 417.2h0M383.4 431.0h0M382.2 431.9h0M380.5 432.1h0M380.5 428.5h0M386.0 432.1h0M381.1 436.7h0M393.8 428.7h0M378.8 425.3h0M380.0 424.7h0M382.5 431.5h0M385.5 427.0h0M382.0 426.2h0M388.2 432.1h0M383.8 429.3h0M388.6 422.2h0M384.7 432.0h0M382.5 426.1h0M380.9 427.9h0M380.7 434.5h0M385.1 430.8h0M381.1 423.7h0M391.7 423.1h0" stroke="#d0123e" stroke-width="1.9" stroke-linecap="round" fill="none"/>
<path d="M400.1 430.1h0M377.5 424.3h0M386.0 428.9h0M381.3 420.7h0M382.6 435.9h0M382.0 424.1h0M383.5 426.8h0M381.9 427.8h0M381.6 426.0h0M380.7 425.2h0M383.9 428.9h0M382.0 429.4h0M380.3 418.9h0M378.1 424.5h0" stroke="#e8304a" stroke-width="1.9" stroke-linecap="round" fill="none"/>
<path d="M383.5 427.7h0M380.3 424.4h0M381.4 423.0h0M386.9 428.2h0M380.6 436.1h0M387.3 420.2h0M384.5 433.6h0M381.0 432.6h0" stroke="#4a3aa0" stroke-width="1.9" stroke-linecap="round" fill="none"/>
<path d="M378.5 430.1h0M387.8 426.9h0M412.0 432.9h0M403.7 432.6h0M410.5 433.8h0M407.5 432.7h0M430.6 435.2h0M430.5 447.2h0M435.0 441.4h0M434.0 445.9h0M430.5 446.9h0M432.4 449.3h0M433.4 443.5h0M430.0 448.4h0M432.7 450.8h0M431.3 449.6h0M433.1 447.9h0M433.2 452.7h0M431.5 444.4h0M435.5 447.1h0M432.6 448.7h0M429.6 453.1h0M433.8 444.0h0" stroke="#2b2a8e" stroke-width="1.9" stroke-linecap="round" fill="none"/>
<path d="M384.3 433.6h0M378.2 422.5h0M404.9 434.1h0M407.3 432.7h0M405.5 432.4h0M407.5 432.4h0M410.9 431.4h0M428.8 443.4h0M434.2 447.6h0M430.9 443.0h0M427.2 448.1h0M431.4 448.2h0M435.0 453.7h0M430.6 448.0h0M432.3 445.9h0" stroke="#4a3aa0" stroke-width="1.9" stroke-linecap="round" fill="none"/>
<path d="M384.2 425.5h0M404.8 433.5h0M409.4 434.8h0M405.4 432.2h0M405.4 432.9h0M409.8 430.6h0M403.0 430.0h0M406.1 430.5h0M408.9 433.2h0M406.4 432.5h0M406.6 433.3h0M430.9 440.5h0M431.5 441.7h0M432.9 444.8h0M431.0 446.0h0M430.1 434.5h0M430.2 432.2h0M431.7 444.6h0M432.0 445.7h0M430.2 431.8h0M431.9 439.9h0M429.1 429.3h0M434.3 444.2h0M431.8 450.8h0M429.4 446.1h0M432.6 447.2h0M433.2 443.9h0M432.0 449.2h0M431.8 445.0h0M431.4 446.5h0M432.4 445.2h0M431.7 450.4h0M434.2 444.9h0M430.8 446.8h0M431.3 450.9h0M433.4 445.4h0M433.8 451.3h0M434.3 444.6h0M434.6 445.4h0M428.9 442.1h0M431.7 444.1h0M430.6 445.3h0" stroke="#d0123e" stroke-width="1.9" stroke-linecap="round" fill="none"/>
<path d="M408.0 432.4h0M410.1 435.0h0M400.9 434.7h0M429.6 428.9h0M430.7 446.0h0M432.6 444.1h0M428.6 451.9h0M431.3 445.4h0M430.6 448.2h0M431.7 445.7h0M430.3 448.1h0M432.6 444.4h0" stroke="#e8304a" stroke-width="1.9" stroke-linecap="round" fill="none"/>
<polyline points="425.4,360.8 431,369.5 436.9,378.1" fill="none" stroke="#111111" stroke-width="1.5" stroke-linejoin="round" stroke-linecap="round"/>
<polyline points="436.9,378.1 442.7,373.5 446.2,370" fill="none" stroke="#111111" stroke-width="1.5" stroke-linejoin="round" stroke-linecap="round"/>
<polyline points="436.9,378.1 435.8,386.2 436.9,397.7 439.2,406.9 439.2,413.8" fill="none" stroke="#111111" stroke-width="1.5" stroke-linejoin="round" stroke-linecap="round"/>
<polyline points="439.2,413.8 453.1,417.3 466.9,419.6 479.6,420.8" fill="none" stroke="#111111" stroke-width="1.5" stroke-linejoin="round" stroke-linecap="round"/>
<polyline points="439.2,413.8 434.6,420.8 427.7,425.8 409.2,428.8 393.1,430.5 383.8,430" fill="none" stroke="#111111" stroke-width="1.5" stroke-linejoin="round" stroke-linecap="round"/>
<polyline points="428.5,427.2 430.5,437 431.8,446.2" fill="none" stroke="#111111" stroke-width="1.5" stroke-linejoin="round" stroke-linecap="round"/>
<polyline points="388,484 393.1,493.8 404.6,514.5 413.8,530.7 418.5,542.2 419.6,553.8" fill="none" stroke="#1a1a40" stroke-width="1.2" stroke-linejoin="round" stroke-linecap="round"/>
<path d="M385,564.0 L392,564.8 L396.5,566.8 L392,569 L385.5,569 Z" fill="#2b2a8e" stroke="none" stroke-width="1"/>
<path d="M389.3 484.4h0M390.8 483.1h0M391.9 488.2h0M390.3 483.3h0M390.3 488.7h0M386.4 486.8h0M390.9 486.0h0M393.9 486.7h0M390.5 488.5h0M389.6 486.2h0M393.8 487.1h0M394.3 475.3h0M397.3 485.3h0M397.0 481.9h0M390.9 482.6h0M388.1 480.8h0M393.2 486.0h0M386.3 483.6h0M396.0 490.3h0M390.7 483.1h0M392.0 482.8h0M388.4 484.7h0M393.5 488.4h0M394.0 487.1h0M387.1 479.0h0M388.4 485.8h0M389.2 485.4h0M392.7 488.6h0M385.4 491.8h0M386.0 486.8h0M389.1 484.3h0M390.8 482.7h0M390.9 485.6h0M391.6 479.4h0M388.7 490.0h0M394.8 482.8h0M386.7 485.0h0M387.6 487.1h0M389.8 486.7h0M391.5 487.9h0M395.2 488.8h0M385.6 488.6h0M391.7 488.4h0M395.5 486.7h0M389.5 485.9h0M390.6 489.6h0M396.1 486.2h0M390.4 490.6h0M391.6 478.6h0M389.4 485.3h0M393.6 491.5h0M393.5 490.2h0M390.0 488.2h0M386.9 486.9h0M394.5 490.4h0M393.8 485.6h0M391.8 486.5h0M393.6 488.6h0M389.5 484.7h0M399.7 482.1h0M386.6 488.7h0M388.1 486.6h0M394.1 487.7h0M387.3 480.8h0M389.7 489.6h0M397.4 490.1h0M392.2 480.9h0M389.3 481.8h0M388.9 484.9h0M401.6 486.1h0M396.0 488.6h0M392.0 487.3h0M395.7 485.1h0M388.0 484.8h0M398.5 486.9h0M395.7 483.9h0M393.4 485.1h0M388.7 487.3h0M389.2 483.7h0M399.1 486.7h0M394.7 488.5h0M398.2 488.5h0M399.2 483.3h0M392.3 489.9h0M392.6 482.4h0M386.6 487.1h0M393.7 484.5h0M387.1 483.6h0M397.3 488.8h0M392.0 485.2h0M392.4 486.2h0M392.0 482.2h0M393.0 484.4h0M394.9 485.5h0M421.7 547.9h0M394.6 504.1h0M410.2 525.0h0M417.3 543.4h0M422.0 532.5h0M393.4 495.9h0M391.0 496.5h0M391.5 495.1h0M403.5 504.4h0M389.1 485.1h0M394.8 490.3h0M389.1 493.5h0M403.4 518.3h0M389.6 498.6h0M400.9 511.3h0M399.3 501.0h0" stroke="#2b2a8e" stroke-width="1.8" stroke-linecap="round" fill="none"/>
<path d="M386.6 477.2h0M386.3 489.4h0M392.8 488.6h0M389.9 480.4h0M385.1 491.4h0M392.4 485.9h0M401.8 478.4h0M391.8 481.6h0M396.0 483.7h0M393.3 489.0h0M391.1 485.9h0M391.6 485.4h0M395.6 487.0h0M399.6 487.8h0M387.6 487.1h0M387.3 485.8h0M395.3 477.7h0M396.3 489.8h0M397.3 490.9h0M386.8 482.7h0M395.2 479.8h0M394.5 478.6h0M390.2 485.7h0M389.6 486.4h0M392.9 486.8h0M390.7 487.8h0M396.4 483.8h0M390.4 481.5h0M386.8 489.1h0M387.8 481.4h0M395.3 483.0h0M395.7 484.9h0M393.5 487.8h0M395.2 482.7h0M387.7 485.7h0M385.9 484.5h0M393.0 488.0h0M394.2 483.6h0M388.2 482.6h0M390.4 490.9h0M393.9 485.1h0M391.6 490.6h0M385.5 486.5h0M393.0 483.1h0M392.6 480.1h0M395.1 482.8h0M392.9 482.2h0M397.3 483.6h0M393.3 488.9h0M393.4 487.3h0M386.8 482.3h0M393.8 483.9h0M398.3 482.6h0M393.5 488.1h0M399.3 483.4h0M389.4 480.2h0M397.0 482.4h0M387.3 484.4h0M382.8 481.4h0M391.3 486.8h0M384.8 484.3h0M391.4 486.4h0M401.4 484.6h0M389.9 487.3h0M402.6 514.0h0M400.7 507.1h0M422.7 543.9h0M402.7 503.9h0M393.2 492.9h0M415.7 533.8h0M414.6 533.4h0M414.0 531.7h0M401.2 501.5h0M411.4 527.3h0M391.3 485.7h0" stroke="#d0123e" stroke-width="1.8" stroke-linecap="round" fill="none"/>
<path d="M388.7 484.7h0M390.8 487.0h0M389.3 486.7h0M389.2 483.8h0M394.6 483.0h0M392.4 487.2h0M394.3 482.4h0M388.1 482.3h0M394.5 484.8h0M388.3 486.9h0M390.7 484.9h0M395.1 485.6h0M397.7 484.8h0M385.4 486.8h0M386.9 484.7h0M394.0 482.3h0M392.2 491.0h0M393.1 488.4h0M397.3 484.6h0M396.6 483.9h0M389.7 485.6h0M390.4 485.5h0M398.1 482.5h0M393.4 486.8h0M394.0 479.6h0M400.1 487.1h0M393.6 482.4h0M393.1 483.7h0M398.8 485.3h0M396.4 484.9h0M389.9 484.1h0M396.2 485.0h0M391.4 484.3h0M395.3 484.9h0M393.0 486.3h0M384.3 481.1h0M390.3 482.4h0M387.0 488.9h0M394.7 486.7h0M394.3 484.7h0M391.0 483.6h0M394.2 487.3h0M406.2 511.5h0M393.0 493.1h0M408.8 518.3h0M414.0 536.1h0M392.5 488.8h0" stroke="#4a3aa0" stroke-width="1.8" stroke-linecap="round" fill="none"/>
<path d="M387.9 489.0h0M391.7 480.2h0M380.4 488.9h0M390.8 486.9h0M393.7 485.4h0M390.7 489.4h0M390.9 486.3h0M393.4 484.5h0M397.9 487.8h0M393.3 489.2h0M389.1 484.9h0M390.8 487.6h0M390.5 489.5h0M394.2 479.1h0M387.4 484.4h0M391.3 486.1h0M390.2 487.5h0M389.4 490.3h0M394.6 484.2h0M392.9 481.7h0M395.1 484.7h0M393.4 485.5h0M396.3 488.0h0M394.4 481.9h0M387.0 486.9h0M395.6 486.6h0M394.0 486.6h0M388.8 484.9h0M393.3 484.4h0M387.4 483.5h0M394.1 498.5h0M420.8 544.1h0M421.4 540.0h0M415.8 531.8h0M424.1 548.3h0M410.4 524.9h0M418.1 533.0h0M420.9 545.3h0M405.1 524.3h0M415.0 541.3h0M416.4 537.4h0M401.4 505.9h0" stroke="#e8304a" stroke-width="1.8" stroke-linecap="round" fill="none"/>
<path d="M403.2 505.0h0M398.7 518.7h0M390.2 492.8h0M418.1 529.9h0M396.1 504.8h0M420.3 540.3h0M423.5 547.5h0M406.0 512.7h0M392.7 502.1h0M420.7 552.5h0M394.2 490.9h0M395.4 486.5h0M411.4 526.2h0M396.2 503.5h0M418.6 530.6h0M411.3 523.5h0M422.1 548.7h0M413.2 535.1h0M389.4 496.8h0M393.6 488.4h0M388.2 491.6h0M393.0 495.8h0M417.0 535.1h0M415.9 532.9h0M396.0 503.6h0M412.1 539.5h0M399.6 510.9h0M390.9 483.7h0M395.1 503.1h0M389.8 485.3h0M402.9 520.3h0M406.5 518.6h0M398.3 503.5h0M390.3 490.8h0M390.1 492.9h0M392.2 499.2h0M413.8 548.6h0M412.1 526.9h0M406.9 523.5h0M414.4 537.2h0M419.7 553.6h0M409.5 524.7h0M405.8 515.5h0M400.9 510.0h0" stroke="#e8304a" stroke-width="1.8" stroke-linecap="round" fill="none"/>
<path d="M415.5 531.7h0M390.3 493.3h0M410.5 534.3h0M396.6 504.8h0M420.2 548.5h0M411.9 529.4h0M397.6 516.7h0M407.4 519.1h0M417.8 536.7h0M403.0 523.4h0M425.9 545.1h0M413.2 541.4h0M410.5 532.8h0M400.3 508.3h0M394.6 501.4h0M406.1 521.2h0M397.4 496.1h0M415.8 523.3h0M400.8 514.9h0M395.9 481.4h0M402.1 509.5h0M421.7 537.6h0M418.6 534.2h0M399.4 501.6h0M389.7 498.3h0M397.8 506.4h0M404.8 519.1h0M405.2 514.3h0M411.4 532.0h0M414.6 523.2h0M419.0 547.2h0M387.8 490.8h0M391.0 494.5h0M410.9 522.3h0M385.2 488.0h0M421.5 544.6h0M400.5 507.1h0M418.0 531.3h0M404.1 513.8h0M387.9 491.8h0M416.3 546.9h0M390.6 485.1h0M403.9 520.0h0M413.9 540.4h0M407.5 525.5h0M400.8 497.7h0M394.8 495.7h0M407.2 524.8h0M420.7 546.8h0M410.9 524.2h0M393.5 495.5h0M410.9 514.8h0M399.8 506.3h0M388.6 487.2h0M406.5 508.3h0M391.3 486.6h0M408.3 516.7h0M420.0 553.0h0M402.9 508.4h0M385.0 488.3h0M410.1 527.9h0M396.8 483.9h0M392.1 489.6h0M394.8 501.2h0M388.1 487.5h0M394.6 499.3h0M393.9 498.8h0M415.4 532.8h0M398.1 519.9h0M390.7 500.6h0M400.7 498.6h0M409.9 524.7h0M399.0 500.9h0M423.9 551.2h0M402.5 516.4h0M393.9 497.0h0M399.2 499.9h0M408.3 524.7h0M412.8 525.8h0M412.5 522.5h0M412.1 523.1h0M407.2 517.7h0M394.0 495.1h0M413.6 530.4h0M407.0 504.0h0M403.8 517.7h0M406.1 514.4h0M405.5 512.9h0M421.2 549.5h0" stroke="#d0123e" stroke-width="1.8" stroke-linecap="round" fill="none"/>
<path d="M395.9 489.7h0M418.9 543.4h0M401.7 497.7h0M386.4 485.9h0M413.1 531.8h0M418.2 530.8h0M413.2 531.0h0M395.8 494.5h0M416.8 542.5h0M416.9 543.6h0M412.8 538.5h0M402.7 513.0h0M410.0 535.4h0M406.9 515.1h0M396.2 488.4h0M415.8 553.1h0M415.6 544.1h0M418.6 551.0h0M385.8 487.1h0M386.9 487.9h0M415.3 553.8h0M388.4 490.9h0M415.4 543.2h0M400.2 514.6h0M419.0 547.0h0M401.9 516.9h0M417.1 548.8h0M403.9 515.5h0M415.9 528.7h0M392.9 493.5h0M393.7 489.7h0M419.2 546.7h0M389.9 501.0h0M394.0 504.3h0M417.4 550.9h0M402.9 505.8h0M419.0 538.5h0M411.9 523.3h0M412.2 538.1h0M416.0 528.6h0M393.7 491.8h0M401.0 506.4h0M394.6 486.2h0M391.5 488.2h0M410.7 525.5h0M404.7 512.6h0M388.8 494.6h0M413.4 541.8h0M409.3 515.5h0M404.1 511.4h0M417.5 526.5h0M395.1 496.6h0M414.4 527.9h0M414.0 523.2h0M414.2 539.8h0M410.5 518.2h0M411.1 525.5h0M407.4 529.3h0M391.1 491.2h0M403.7 493.4h0M394.4 481.2h0M395.2 502.2h0M419.0 549.9h0M421.3 539.3h0M417.6 544.1h0M389.3 498.0h0M389.4 488.8h0M411.2 518.8h0M403.1 518.9h0M394.3 508.2h0M409.9 543.9h0M389.2 490.6h0M392.2 484.3h0M398.4 499.9h0M410.2 536.9h0M409.6 521.0h0M393.7 493.2h0M388.3 496.0h0M403.5 513.3h0M420.0 550.9h0M391.3 485.2h0M398.6 503.0h0M420.0 532.6h0M392.2 502.4h0M412.7 531.9h0M412.3 531.4h0M398.4 500.5h0M388.7 484.7h0M407.8 517.9h0M401.6 508.7h0M417.3 517.8h0M410.0 527.9h0M386.5 484.9h0M406.6 527.7h0M414.2 537.7h0M397.5 500.6h0M387.4 484.5h0M403.9 521.9h0M405.7 513.7h0M416.9 536.4h0M408.6 515.2h0M396.0 488.9h0M407.3 515.6h0M408.4 516.6h0M406.4 520.5h0M399.5 498.4h0M412.1 523.9h0" stroke="#2b2a8e" stroke-width="1.8" stroke-linecap="round" fill="none"/>
<path d="M394.0 488.1h0M415.1 531.3h0M405.7 523.0h0M413.9 532.8h0M414.9 533.4h0M394.2 494.8h0M396.0 494.4h0M421.6 545.0h0M404.0 507.2h0M401.6 507.6h0M421.4 542.4h0M415.2 545.4h0M417.6 550.1h0M391.0 488.6h0M418.5 540.9h0M418.2 553.4h0M403.9 500.5h0M418.0 547.5h0M404.0 519.9h0M414.4 527.2h0M386.8 496.9h0M421.5 530.6h0M418.8 551.6h0M421.5 548.3h0M393.0 495.1h0M422.8 545.3h0M393.4 500.7h0M389.7 488.4h0M399.8 504.6h0M398.6 508.0h0M394.5 498.1h0M402.4 507.1h0M387.5 489.3h0M404.8 511.9h0" stroke="#4a3aa0" stroke-width="1.8" stroke-linecap="round" fill="none"/>
<path d="M409.6 525.6h0M390.2 486.2h0M413.4 540.3h0M399.3 494.3h0M394.7 506.0h0M402.9 511.6h0M406.9 522.2h0M402.3 508.0h0M396.4 491.2h0M399.2 500.4h0M414.7 529.0h0M410.1 529.6h0M403.6 514.3h0M394.7 495.9h0M420.5 540.9h0M413.9 526.1h0M389.0 500.8h0M400.5 497.4h0M407.0 534.6h0M405.0 513.5h0M410.4 519.2h0M408.2 526.6h0M417.6 549.4h0M419.7 547.2h0M398.6 497.7h0M404.0 517.1h0M406.2 521.2h0M390.9 490.2h0M407.6 527.6h0M390.3 486.6h0M405.0 523.3h0M398.2 498.5h0M416.2 538.7h0M402.1 507.5h0M396.6 507.4h0M411.5 536.2h0M406.2 517.3h0M417.4 537.6h0M388.8 487.1h0M412.0 529.8h0M410.8 518.8h0M390.3 484.9h0M416.5 541.3h0M416.7 540.4h0M389.4 494.5h0M410.1 526.1h0M409.2 504.1h0M411.3 529.3h0M405.9 523.7h0M391.4 496.4h0M390.8 492.7h0M410.6 511.2h0M386.3 495.8h0M399.5 513.5h0M407.9 510.2h0M419.5 542.3h0M411.7 531.7h0M405.8 528.4h0M409.1 524.8h0M422.4 543.2h0M410.8 523.3h0M407.8 514.4h0M385.8 489.5h0M389.1 488.7h0M395.5 494.9h0M398.6 500.4h0M403.3 522.2h0M415.7 535.2h0M414.6 517.3h0M397.0 494.3h0M421.2 540.1h0M417.8 540.1h0M391.5 484.6h0M405.6 516.8h0M411.9 530.2h0M420.9 534.6h0M385.8 485.2h0M392.1 488.0h0M419.7 548.2h0M407.0 511.2h0M397.7 507.5h0M411.8 519.0h0M412.1 535.4h0M410.7 529.4h0M410.6 523.7h0M403.7 513.7h0M407.7 518.9h0M434.7 551.3h0M426.1 542.6h0M412.5 534.8h0M413.0 529.3h0M407.4 522.0h0M411.4 525.5h0M409.7 525.4h0M420.4 537.7h0M410.8 522.8h0" stroke="#2b2a8e" stroke-width="1.8" stroke-linecap="round" fill="none"/>
<path d="M405.4 508.0h0M418.7 533.3h0M420.4 552.9h0M405.0 506.5h0M412.0 551.0h0M396.5 491.3h0M413.4 530.9h0M418.6 538.5h0M400.7 499.5h0M387.9 494.7h0M405.9 513.6h0M393.1 489.7h0M420.1 537.9h0M406.8 515.9h0M401.7 503.0h0M415.7 537.7h0M390.4 494.0h0M417.2 543.3h0M413.6 535.4h0M415.1 533.2h0M418.9 529.7h0M410.8 519.8h0M411.3 534.5h0M407.0 537.7h0M415.8 526.9h0M406.8 519.8h0M422.2 535.7h0M408.8 531.3h0M404.6 522.4h0" stroke="#e8304a" stroke-width="1.8" stroke-linecap="round" fill="none"/>
<path d="M391.1 484.8h0M409.2 515.6h0M410.4 521.5h0M425.0 544.8h0M395.5 505.1h0M400.8 508.4h0M417.6 530.6h0M401.2 511.5h0M398.7 504.8h0M401.2 520.6h0M403.9 507.0h0M395.9 501.7h0M414.6 531.2h0M400.8 507.8h0M391.4 486.9h0M393.9 505.3h0M403.2 509.7h0M389.7 492.4h0M402.0 507.7h0M393.4 499.7h0M417.9 541.1h0M398.1 495.7h0M424.5 542.8h0M417.8 553.0h0M419.8 540.9h0M414.8 531.4h0M419.4 539.5h0M406.2 518.9h0M422.3 552.8h0M394.0 492.1h0M414.5 533.2h0M397.2 492.2h0M393.8 489.1h0M421.8 533.8h0M414.1 523.5h0M416.7 539.0h0M403.9 523.1h0M396.4 502.8h0M414.4 533.2h0M411.8 515.8h0M391.6 491.7h0M416.8 545.7h0M414.5 534.9h0M419.2 548.0h0M413.5 522.9h0M396.6 495.9h0M397.0 512.6h0M411.4 524.5h0M407.8 513.9h0M399.6 500.9h0M394.0 496.1h0M409.9 526.2h0M411.6 525.5h0M391.1 492.2h0M390.3 492.1h0M408.0 525.0h0M399.2 499.6h0M391.4 502.0h0M406.6 528.4h0M412.1 536.2h0M399.4 521.2h0M414.9 529.3h0M389.1 492.2h0M389.2 498.4h0M419.8 553.0h0M416.1 552.0h0M405.1 510.8h0M410.5 525.6h0M424.2 544.1h0M392.6 489.2h0M409.9 523.3h0M403.9 526.0h0M415.0 539.1h0M409.7 516.9h0M422.2 542.5h0M419.4 528.1h0M414.1 528.6h0M416.0 519.3h0M409.9 531.4h0M417.1 533.7h0M409.2 529.5h0M419.2 531.0h0M415.8 536.3h0M409.1 523.7h0M413.5 520.1h0M423.7 541.0h0M414.5 523.3h0M416.9 530.2h0M414.6 531.2h0M423.5 539.5h0M417.3 537.5h0M406.0 530.7h0M413.1 524.2h0M416.5 518.0h0M413.3 531.4h0M420.6 534.9h0M418.0 519.0h0M412.2 539.8h0M413.6 522.4h0M407.6 529.8h0M414.2 537.2h0M420.7 528.5h0M418.4 537.7h0M415.8 525.7h0M415.3 535.4h0M416.5 536.8h0M407.6 523.5h0M411.1 515.7h0M413.8 541.4h0M411.3 525.9h0" stroke="#d0123e" stroke-width="1.8" stroke-linecap="round" fill="none"/>
<path d="M396.4 508.3h0M391.7 500.6h0M415.8 528.3h0M419.7 551.8h0M389.3 496.6h0M393.0 491.4h0M400.2 514.3h0M419.1 548.1h0M406.7 519.4h0M401.6 501.1h0M395.8 490.1h0M420.1 547.1h0M390.0 487.2h0M396.8 481.4h0M406.0 515.7h0M416.2 542.5h0M390.3 493.3h0M406.3 518.2h0M424.0 550.2h0M402.4 503.4h0M413.2 523.3h0M404.7 517.6h0M416.9 536.2h0M408.5 522.4h0M415.9 524.7h0M395.1 494.9h0M421.7 553.3h0M405.7 512.7h0M418.7 525.7h0M415.3 527.3h0M404.1 517.9h0M417.9 530.4h0M414.4 534.0h0M406.3 526.3h0M410.3 532.8h0M416.7 519.9h0M421.0 541.3h0M407.8 526.7h0M414.1 529.7h0" stroke="#4a3aa0" stroke-width="1.8" stroke-linecap="round" fill="none"/>
<path d="M416.8 526.4h0M417.9 523.6h0M407.5 520.2h0M413.1 518.9h0M408.7 528.8h0M417.7 530.6h0M416.1 539.3h0M400.3 523.0h0M422.5 539.7h0M414.0 527.1h0M413.2 523.2h0M410.8 524.7h0M416.4 534.4h0M418.9 540.5h0M410.6 538.4h0M416.1 535.7h0M416.2 529.9h0M421.4 529.2h0M409.1 533.1h0M417.4 534.1h0M414.0 533.3h0M414.9 532.3h0M411.9 526.7h0M408.4 520.0h0M411.6 530.9h0M418.0 529.8h0M416.9 521.7h0M414.5 533.1h0M410.3 507.7h0M415.0 530.8h0M408.6 536.3h0M420.7 542.1h0M416.3 522.5h0M412.8 526.4h0M416.8 534.0h0M419.9 521.1h0M422.1 549.8h0M411.5 530.2h0M423.0 540.8h0M416.2 530.3h0M419.1 529.3h0M414.3 539.8h0M417.8 533.4h0M414.0 521.5h0M415.7 527.3h0M421.2 544.7h0M410.3 528.3h0M420.8 544.8h0M413.2 542.2h0M417.2 529.4h0M408.0 529.3h0M422.2 523.4h0M420.5 544.7h0M407.0 519.8h0M420.3 522.2h0M419.8 525.4h0M417.1 530.5h0M411.7 519.1h0M411.9 525.4h0M416.5 532.2h0M418.3 536.4h0M415.8 524.0h0M419.8 533.2h0M409.8 525.9h0M422.0 528.8h0M410.9 532.0h0M422.8 543.7h0M411.7 543.3h0M415.1 539.4h0M411.6 542.7h0M419.8 538.9h0M416.7 537.7h0M419.9 547.3h0M418.5 543.2h0M416.0 544.8h0M416.1 540.4h0M414.9 546.3h0M415.9 540.9h0M417.8 544.6h0M416.8 538.4h0M414.5 541.2h0M415.9 543.8h0M420.9 541.6h0M420.2 542.9h0M418.5 544.5h0M418.7 536.0h0M416.1 542.9h0M421.3 538.1h0M419.2 541.5h0M417.9 539.0h0M415.1 546.0h0M420.5 547.5h0M423.1 547.5h0M421.8 538.1h0M418.8 539.8h0M416.2 545.1h0M414.7 542.8h0M420.1 544.1h0" stroke="#d0123e" stroke-width="1.8" stroke-linecap="round" fill="none"/>
<path d="M412.4 519.8h0M415.4 534.2h0M420.0 534.8h0M412.5 529.9h0M410.8 529.7h0M405.8 521.0h0M418.9 535.2h0M416.7 528.1h0M420.9 535.1h0M411.9 527.1h0M413.4 521.6h0M410.0 532.6h0M416.2 534.3h0M410.2 516.4h0M416.4 534.9h0M413.2 528.9h0M407.0 537.0h0M403.1 527.8h0M410.8 527.1h0M411.1 518.8h0M415.0 535.3h0M416.6 528.1h0M416.6 527.5h0M411.0 523.4h0M413.0 530.0h0M417.3 528.9h0M414.6 533.4h0M417.4 529.2h0M410.5 529.4h0M415.2 529.0h0M415.8 529.9h0M410.1 522.8h0M416.2 526.4h0M414.0 526.4h0M419.4 535.2h0M414.5 529.1h0M418.6 539.3h0M420.7 522.9h0M412.5 536.6h0M413.5 526.4h0M411.0 524.2h0M410.6 536.8h0M411.4 531.0h0M416.5 531.0h0M416.6 524.8h0M414.6 547.0h0M415.0 540.2h0M420.9 538.6h0M418.5 542.3h0M417.7 539.2h0M418.7 543.3h0M421.3 545.2h0M415.4 547.4h0M419.1 534.9h0M415.6 541.7h0M420.3 543.9h0M418.2 543.5h0M418.1 541.6h0M417.9 542.1h0" stroke="#2b2a8e" stroke-width="1.8" stroke-linecap="round" fill="none"/>
<path d="M420.0 536.8h0M416.0 534.9h0M416.7 535.2h0M421.0 544.5h0M417.9 537.3h0M413.8 520.1h0M417.1 537.3h0M415.2 531.3h0M419.2 527.6h0M419.0 532.0h0M414.4 525.2h0M414.0 525.0h0M414.6 528.6h0M416.8 541.7h0M414.0 525.7h0M415.4 526.1h0M413.1 522.3h0M412.6 522.9h0M414.1 520.5h0M408.9 517.0h0M417.2 543.5h0M414.3 541.2h0M414.9 546.3h0" stroke="#4a3aa0" stroke-width="1.8" stroke-linecap="round" fill="none"/>
<path d="M412.2 515.5h0M404.5 529.9h0M410.4 521.6h0M417.2 523.0h0M420.2 525.5h0M417.6 532.7h0M415.5 527.0h0M415.1 540.3h0M406.3 520.5h0M416.8 538.3h0M411.2 530.3h0M411.9 518.5h0M405.4 531.0h0M410.8 537.3h0M415.7 525.7h0M424.4 533.7h0M409.3 522.6h0M414.3 525.4h0M414.7 537.4h0M417.5 533.6h0M412.1 521.7h0M415.9 521.1h0M411.8 523.1h0M418.6 533.0h0M409.9 518.8h0M412.9 535.8h0M416.1 528.4h0M420.7 539.5h0M416.3 533.9h0M409.4 524.6h0M411.4 534.5h0M411.8 533.9h0M427.1 547.5h0M415.2 514.5h0M418.0 527.8h0M422.3 522.9h0M414.9 537.8h0M416.8 542.5h0M416.8 545.5h0M420.2 546.2h0M417.4 545.4h0M420.0 545.8h0M414.9 545.3h0M417.3 546.1h0M418.2 544.6h0M413.6 550.9h0M419.3 548.7h0M419.7 543.4h0" stroke="#e8304a" stroke-width="1.8" stroke-linecap="round" fill="none"/>
<path d="M468.3 549.3h0M439.8 550.6h0M450.1 554.8h0M445.8 554.0h0M445.3 553.8h0M452.9 551.0h0M455.3 550.0h0" stroke="#e8304a" stroke-width="1.7" stroke-linecap="round" fill="none"/>
<path d="M434.2 554.6h0M468.7 549.3h0M465.9 548.7h0M451.6 550.4h0M436.7 554.3h0M451.2 550.6h0M453.3 550.5h0M441.3 552.2h0M435.1 555.9h0M430.2 552.1h0M454.8 549.6h0M439.3 554.6h0M463.7 551.2h0" stroke="#2b2a8e" stroke-width="1.7" stroke-linecap="round" fill="none"/>
<path d="M453.2 552.0h0M454.3 551.9h0M454.6 551.9h0M454.8 551.8h0M448.0 550.6h0M423.1 553.0h0M453.3 549.5h0M447.9 552.3h0M450.2 552.8h0M438.2 554.4h0M426.5 554.9h0M465.4 550.1h0M450.7 550.0h0M426.3 553.9h0M461.7 551.2h0M465.1 550.7h0M450.4 554.0h0M420.6 552.6h0M446.2 552.7h0M466.0 550.0h0M446.8 553.0h0M423.5 552.1h0M464.5 551.7h0" stroke="#d0123e" stroke-width="1.7" stroke-linecap="round" fill="none"/>
<path d="M452.4 550.4h0M454.9 550.6h0M459.2 551.8h0" stroke="#4a3aa0" stroke-width="1.7" stroke-linecap="round" fill="none"/>
<path d="M456.0 551.9h0M455.6 551.3h0M438.9 554.0h0M458.1 552.2h0M439.8 552.1h0M442.7 552.5h0M460.9 550.5h0M451.2 550.9h0M423.5 554.1h0M466.2 549.2h0M454.8 551.6h0M423.5 553.1h0M461.6 548.7h0M459.0 550.7h0M460.3 551.8h0M420.6 555.6h0M446.0 553.6h0M454.8 552.0h0M423.0 555.3h0M433.3 554.3h0M429.7 555.2h0" stroke="#2b2a8e" stroke-width="1.7" stroke-linecap="round" fill="none"/>
<path d="M436.5 554.4h0M434.4 553.6h0M468.0 547.3h0M454.8 551.0h0M441.8 552.6h0M469.0 551.1h0M441.2 552.9h0M456.0 550.9h0M458.3 550.1h0M422.9 552.7h0M423.2 553.9h0M454.3 551.0h0M451.4 551.4h0M459.1 552.6h0M448.8 552.7h0M433.9 554.6h0M456.5 552.1h0M467.4 550.7h0M428.8 554.5h0M463.3 553.3h0" stroke="#d0123e" stroke-width="1.7" stroke-linecap="round" fill="none"/>
<path d="M431.4 553.8h0M425.7 552.9h0" stroke="#4a3aa0" stroke-width="1.7" stroke-linecap="round" fill="none"/>
<path d="M467.2 550.7h0" stroke="#e8304a" stroke-width="1.7" stroke-linecap="round" fill="none"/>
<path d="M458.8 557.4h0M461.9 554.8h0M448.5 554.5h0M449.1 551.9h0M457.1 553.3h0M451.5 552.3h0M453.3 554.3h0M433.3 551.4h0M463.4 550.7h0M463.4 551.7h0M453.5 549.9h0M452.1 553.2h0M454.7 551.8h0M465.7 551.0h0M456.7 550.0h0M451.5 551.1h0M463.3 550.9h0M452.6 551.9h0M449.6 549.8h0M458.5 552.7h0M449.1 551.2h0M453.0 548.7h0" stroke="#2b2a8e" stroke-width="1.6" stroke-linecap="round" fill="none"/>
<path d="M444.7 550.9h0M450.3 552.3h0M436.3 551.2h0M455.5 549.1h0M463.7 556.4h0M458.2 553.2h0M443.3 552.7h0M444.1 548.4h0M436.2 552.2h0M448.6 552.5h0M473.0 552.4h0M434.7 551.4h0M450.2 552.7h0M448.8 552.1h0M454.7 550.7h0M441.7 552.3h0M448.7 552.6h0M459.2 549.5h0M450.6 552.3h0M444.8 549.7h0" stroke="#d0123e" stroke-width="1.6" stroke-linecap="round" fill="none"/>
<path d="M473.3 551.1h0M446.7 553.8h0M447.9 553.3h0M453.8 553.2h0M454.3 545.8h0M454.1 548.0h0M462.2 552.4h0M454.9 549.1h0" stroke="#4a3aa0" stroke-width="1.6" stroke-linecap="round" fill="none"/>
<path d="M444.5 552.1h0M455.6 550.1h0M449.6 553.7h0M449.5 553.6h0M453.8 550.7h0M442.2 548.5h0M455.4 550.1h0M446.7 550.9h0M457.9 549.7h0M476.6 550.6h0" stroke="#e8304a" stroke-width="1.6" stroke-linecap="round" fill="none"/>
<path d="M465.5 550.6h0M467.3 550.3h0M477.6 551.8h0M476.4 548.7h0M488.0 550.1h0M475.2 549.5h0M474.3 550.2h0M469.8 548.0h0M475.0 550.1h0M462.3 548.1h0M476.7 552.5h0M475.1 549.1h0M473.3 550.9h0M482.5 549.0h0M472.9 551.4h0" stroke="#2b2a8e" stroke-width="1.4" stroke-linecap="round" fill="none"/>
<path d="M468.9 551.2h0M477.2 549.8h0" stroke="#d0123e" stroke-width="1.4" stroke-linecap="round" fill="none"/>
<path d="M464.9 549.2h0M473.4 548.3h0" stroke="#4a3aa0" stroke-width="1.4" stroke-linecap="round" fill="none"/>
<path d="M463.7 549.4h0" stroke="#e8304a" stroke-width="1.4" stroke-linecap="round" fill="none"/>
<path d="M392.3 575.0h0M398.4 573.1h0M393.1 575.1h0M386.2 580.5h0M397.7 573.2h0M416.4 556.0h0M410.7 561.1h0M411.1 563.8h0M397.9 572.7h0M408.9 563.5h0M410.0 561.3h0M416.0 556.4h0M393.1 575.8h0M413.1 558.3h0M387.9 579.3h0M413.9 562.7h0M413.2 558.5h0M382.6 579.6h0M412.0 560.1h0M385.3 580.8h0M382.5 580.6h0M389.6 577.7h0M384.1 579.4h0M383.9 578.7h0M387.8 578.9h0M417.2 556.6h0M403.0 568.5h0M395.1 572.9h0M385.8 576.1h0M411.1 562.8h0M384.0 580.5h0M384.3 578.6h0M394.3 573.4h0M387.5 577.5h0M411.3 562.2h0M398.8 571.0h0M417.1 556.9h0M398.4 569.9h0M390.1 578.0h0M390.2 574.8h0M389.1 579.2h0M393.7 572.8h0M389.1 577.6h0M389.7 576.7h0" stroke="#4a3aa0" stroke-width="1.8" stroke-linecap="round" fill="none"/>
<path d="M394.9 576.4h0M383.8 581.2h0M403.0 568.0h0M383.3 580.5h0M408.3 561.2h0M400.2 569.6h0M407.8 564.5h0M417.4 555.6h0M386.4 582.4h0M395.4 572.6h0M392.0 574.8h0M412.1 559.1h0M392.9 572.8h0M384.6 580.6h0M399.5 569.4h0M389.3 578.0h0M401.6 567.9h0M404.4 569.6h0M415.9 555.3h0M396.5 571.7h0M393.8 574.8h0M400.7 572.0h0M417.8 555.7h0M415.5 560.0h0M399.1 571.2h0M399.2 571.6h0M417.0 553.5h0M387.7 577.3h0M384.6 579.1h0M395.7 572.8h0M418.4 555.2h0M383.4 576.8h0M408.7 562.2h0M398.5 569.5h0M407.4 566.1h0M395.0 574.2h0M399.3 569.4h0M410.4 565.8h0M393.6 574.9h0M419.2 553.5h0M406.1 562.7h0M386.7 579.8h0M418.5 555.7h0M400.4 571.1h0M400.4 569.6h0M401.0 569.9h0M414.1 559.4h0M398.8 572.3h0M393.3 572.9h0M395.0 572.2h0M411.8 561.9h0M419.9 555.7h0M406.1 567.5h0M419.2 555.2h0M399.5 571.5h0M391.2 573.6h0M398.8 570.0h0M416.9 554.1h0M412.2 558.0h0M385.0 583.1h0M400.8 571.9h0M418.2 554.6h0M394.1 573.0h0M384.3 581.5h0M406.5 561.9h0M383.0 579.5h0M413.3 558.1h0M389.9 574.9h0M390.9 574.3h0M400.0 569.5h0M416.6 557.1h0M386.8 577.7h0M409.6 564.1h0M403.2 567.0h0M413.5 558.9h0M415.7 557.9h0M392.5 574.3h0M398.0 570.6h0M418.1 555.0h0M409.4 565.8h0M397.2 572.6h0M407.4 565.1h0M383.5 578.8h0M396.7 568.9h0M383.4 583.3h0M403.5 568.1h0M405.9 565.1h0M393.3 574.1h0M414.7 559.4h0M419.6 556.0h0M392.6 573.0h0M405.6 565.2h0" stroke="#2b2a8e" stroke-width="1.8" stroke-linecap="round" fill="none"/>
<path d="M404.1 566.7h0M404.4 567.7h0M387.3 578.8h0M384.6 579.9h0M405.1 569.4h0M395.9 570.6h0M412.1 562.3h0M418.6 556.5h0M408.4 564.1h0M399.4 570.3h0M401.1 569.1h0" stroke="#d0123e" stroke-width="1.8" stroke-linecap="round" fill="none"/>
<path d="M394.0 575.1h0M400.3 571.3h0M403.3 571.2h0" stroke="#e8304a" stroke-width="1.8" stroke-linecap="round" fill="none"/>
<path d="M404.0 569.7h0M412.3 557.5h0M414.2 559.6h0M415.6 556.1h0M388.3 577.7h0M408.2 559.8h0M400.7 569.5h0M410.0 562.9h0M403.8 568.5h0M385.8 580.5h0M404.4 567.0h0M414.5 557.1h0M411.4 559.8h0M404.4 565.6h0M393.8 573.2h0M383.8 582.2h0M381.7 582.7h0M380.5 582.4h0M381.4 580.8h0M381.5 583.0h0M385.9 582.4h0M376.3 580.7h0M381.2 583.4h0M382.4 578.7h0M373.9 580.0h0M379.8 578.3h0M385.5 580.5h0M380.9 583.5h0M385.8 580.2h0M386.5 577.7h0M383.5 580.6h0M382.6 582.8h0M384.5 579.1h0M384.4 580.5h0M379.5 584.3h0M377.4 587.0h0M380.2 583.4h0M382.5 583.7h0M385.5 579.7h0M383.6 584.9h0M384.6 578.6h0M383.4 584.4h0M387.3 576.2h0M380.5 582.0h0M410.6 573.2h0M410.1 572.0h0M403.7 575.9h0M406.0 571.8h0M404.3 571.8h0M408.0 570.1h0M406.5 573.4h0M407.5 576.4h0M406.5 576.7h0M408.0 572.0h0M409.3 569.3h0M408.9 569.9h0M403.8 574.1h0M409.6 570.5h0M405.4 573.6h0M410.0 578.9h0M405.8 576.6h0M406.6 571.9h0M404.6 575.2h0M388.0 568.9h0M392.4 566.7h0M394.9 567.7h0M390.9 567.7h0M389.0 567.1h0M390.6 567.8h0M387.2 567.0h0" stroke="#4a3aa0" stroke-width="1.8" stroke-linecap="round" fill="none"/>
<path d="M395.8 571.6h0M415.8 560.0h0M407.9 563.3h0M384.5 579.6h0M385.2 579.2h0M391.9 576.7h0M414.2 557.6h0M394.0 575.5h0M407.5 562.8h0M382.7 580.3h0M411.7 558.0h0M414.7 554.8h0M390.0 574.4h0M382.1 580.8h0M397.7 570.8h0M400.6 571.4h0M409.0 564.4h0M412.0 560.9h0M419.8 555.2h0M417.1 554.8h0M387.4 579.3h0M416.4 555.5h0M417.4 556.3h0M403.9 569.2h0M390.5 575.9h0M412.8 557.5h0M407.5 564.9h0M415.6 557.5h0M406.1 567.5h0M417.4 556.5h0M408.6 560.1h0M382.3 582.3h0M384.7 582.1h0M379.2 585.3h0M387.1 581.2h0M383.9 582.2h0M383.2 579.7h0M383.6 579.7h0M383.1 580.1h0M377.3 584.2h0M383.9 587.5h0M385.9 583.9h0M385.5 584.2h0M380.7 583.9h0M382.8 584.0h0M381.6 582.3h0M387.5 586.9h0M382.8 582.1h0M385.9 583.1h0M381.5 580.0h0M379.5 581.4h0M380.2 580.9h0M382.2 586.1h0M378.0 580.4h0M381.2 581.5h0M387.2 578.7h0M381.1 585.6h0M384.1 583.2h0M385.8 580.2h0M382.4 584.6h0M380.5 581.9h0M377.9 581.4h0M387.1 576.2h0M379.5 581.9h0M386.9 580.6h0M384.9 583.7h0M377.0 585.7h0M379.8 581.6h0M382.3 584.5h0M384.0 579.8h0M378.7 578.6h0M379.0 581.7h0M384.5 585.5h0M382.0 581.9h0M382.3 581.0h0M382.1 580.1h0M376.7 585.3h0M381.0 584.1h0M383.5 578.4h0M382.0 582.7h0M388.1 582.8h0M383.6 584.4h0M383.6 584.0h0M381.3 585.6h0M383.0 582.4h0M383.7 582.9h0M384.4 585.9h0M380.3 581.7h0M383.8 590.6h0M379.8 585.1h0M382.0 576.0h0M377.5 581.3h0M379.6 583.6h0M383.0 577.1h0M381.8 582.3h0M382.2 578.7h0M384.8 583.2h0M377.7 576.0h0M383.6 583.0h0M386.1 579.8h0M405.5 574.4h0M410.2 573.6h0M411.9 570.9h0M407.9 573.4h0M408.2 570.8h0M408.8 578.6h0M409.0 567.5h0M406.3 577.1h0M407.5 575.0h0M407.7 572.1h0M409.0 572.0h0M406.7 573.4h0M406.9 578.4h0M411.3 580.7h0M409.5 571.5h0M407.7 578.2h0M409.8 573.5h0M408.4 574.4h0M407.8 575.9h0M407.5 575.8h0M410.3 572.3h0M406.4 570.9h0M412.1 574.7h0M408.4 573.3h0M411.1 576.9h0M409.7 577.3h0M406.9 578.7h0M409.3 576.1h0M406.0 577.8h0M406.9 574.4h0M408.8 572.0h0M408.6 572.0h0M411.0 573.1h0M412.9 577.9h0M408.0 577.4h0M405.6 574.1h0M411.7 574.4h0M404.1 579.2h0M409.4 578.5h0M407.1 573.0h0M405.5 574.3h0M406.1 570.4h0M406.6 571.7h0M412.4 573.2h0M407.6 572.3h0M409.5 573.1h0M408.8 577.8h0M406.5 573.8h0M408.3 572.4h0M407.5 572.1h0M408.6 572.6h0M405.0 577.9h0M411.3 572.6h0M409.1 567.6h0M410.0 577.6h0M408.9 579.2h0M387.3 566.7h0M391.6 564.4h0M391.5 567.9h0M394.4 566.3h0M393.5 568.3h0M391.3 565.6h0M388.5 568.0h0M388.6 567.6h0M393.2 566.3h0M388.5 568.3h0M387.8 565.4h0M392.0 565.0h0M393.7 568.2h0M390.3 568.2h0M391.3 566.2h0M396.3 569.0h0M389.7 568.0h0M389.2 567.0h0" stroke="#2b2a8e" stroke-width="1.8" stroke-linecap="round" fill="none"/>
<path d="M397.0 572.3h0M410.4 563.4h0M377.3 582.9h0M378.0 579.2h0M376.8 580.8h0M378.0 581.6h0M380.8 583.0h0M407.2 573.4h0M392.7 566.3h0" stroke="#e8304a" stroke-width="1.8" stroke-linecap="round" fill="none"/>
<path d="M389.5 576.2h0M389.3 577.3h0M378.0 582.5h0M384.1 586.0h0M379.8 579.2h0M378.8 582.6h0M383.7 582.1h0M386.6 584.7h0M382.4 580.7h0M411.6 572.4h0M408.2 573.7h0M409.7 574.5h0M410.7 577.4h0M393.9 565.6h0M393.2 565.2h0M393.3 565.9h0M395.9 566.8h0" stroke="#d0123e" stroke-width="1.8" stroke-linecap="round" fill="none"/>
<polyline points="419.6,553.8 430,554.9 439.2,553.8 453.1,551.5 469.2,550.3" fill="none" stroke="#1a1a40" stroke-width="1.3" stroke-linejoin="round" stroke-linecap="round"/>
<polyline points="419.6,553.8 411.5,560.7 404.6,567.6 393.1,574.5 381.5,581.5" fill="none" stroke="#1a1a40" stroke-width="1.3" stroke-linejoin="round" stroke-linecap="round"/>
<polyline points="404.6,567.6 396,566.8 386.2,566.5" fill="none" stroke="#1a1a40" stroke-width="1.3" stroke-linejoin="round" stroke-linecap="round"/>
<polyline points="413.8,530.7 418.5,542.2 419.6,553.8" fill="none" stroke="#1a1a40" stroke-width="1.0" stroke-linejoin="round" stroke-linecap="round"/>
<line x1="357.4" y1="547.0" x2="357.4" y2="603.1" stroke="#222" stroke-width="0.9"/>
<line x1="357.0" y1="603.1" x2="409.5" y2="603.1" stroke="#222" stroke-width="0.9"/>
<path d="M357.4,543.5 L355.2,548.2 L359.6,548.2 Z" fill="#111" stroke="none" stroke-width="1"/>
<path d="M413.4,603.1 L408.6,600.9 L408.6,605.3 Z" fill="#111" stroke="none" stroke-width="1"/>
<text x="418.4" y="605.8" font-size="7.6" text-anchor="start" fill="#111" font-weight="bold" textLength="25.1" lengthAdjust="spacingAndGlyphs">Monocle 1</text>
<text x="359.9" y="537.9" font-size="7.4" text-anchor="start" fill="#111" font-weight="bold" textLength="25.4" lengthAdjust="spacingAndGlyphs" transform="rotate(-90 359.9 537.9)">Monocle 2</text>
<circle cx="407.3" cy="614.2" r="2.8" fill="#c8102e"/>
<text x="413.2" y="616.4" font-size="6.0" text-anchor="start" fill="#444" stroke="#444" stroke-width="0.12">Before</text>
<circle cx="436.5" cy="614.2" r="2.8" fill="#1f4a88"/>
<text x="441.9" y="616.4" font-size="6.0" text-anchor="start" fill="#444" stroke="#444" stroke-width="0.12">After</text>
<rect x="0.5" y="0.5" width="519" height="629" fill="none" stroke="#4a4a4a" stroke-width="1.2"/>
</svg>
</body></html>
